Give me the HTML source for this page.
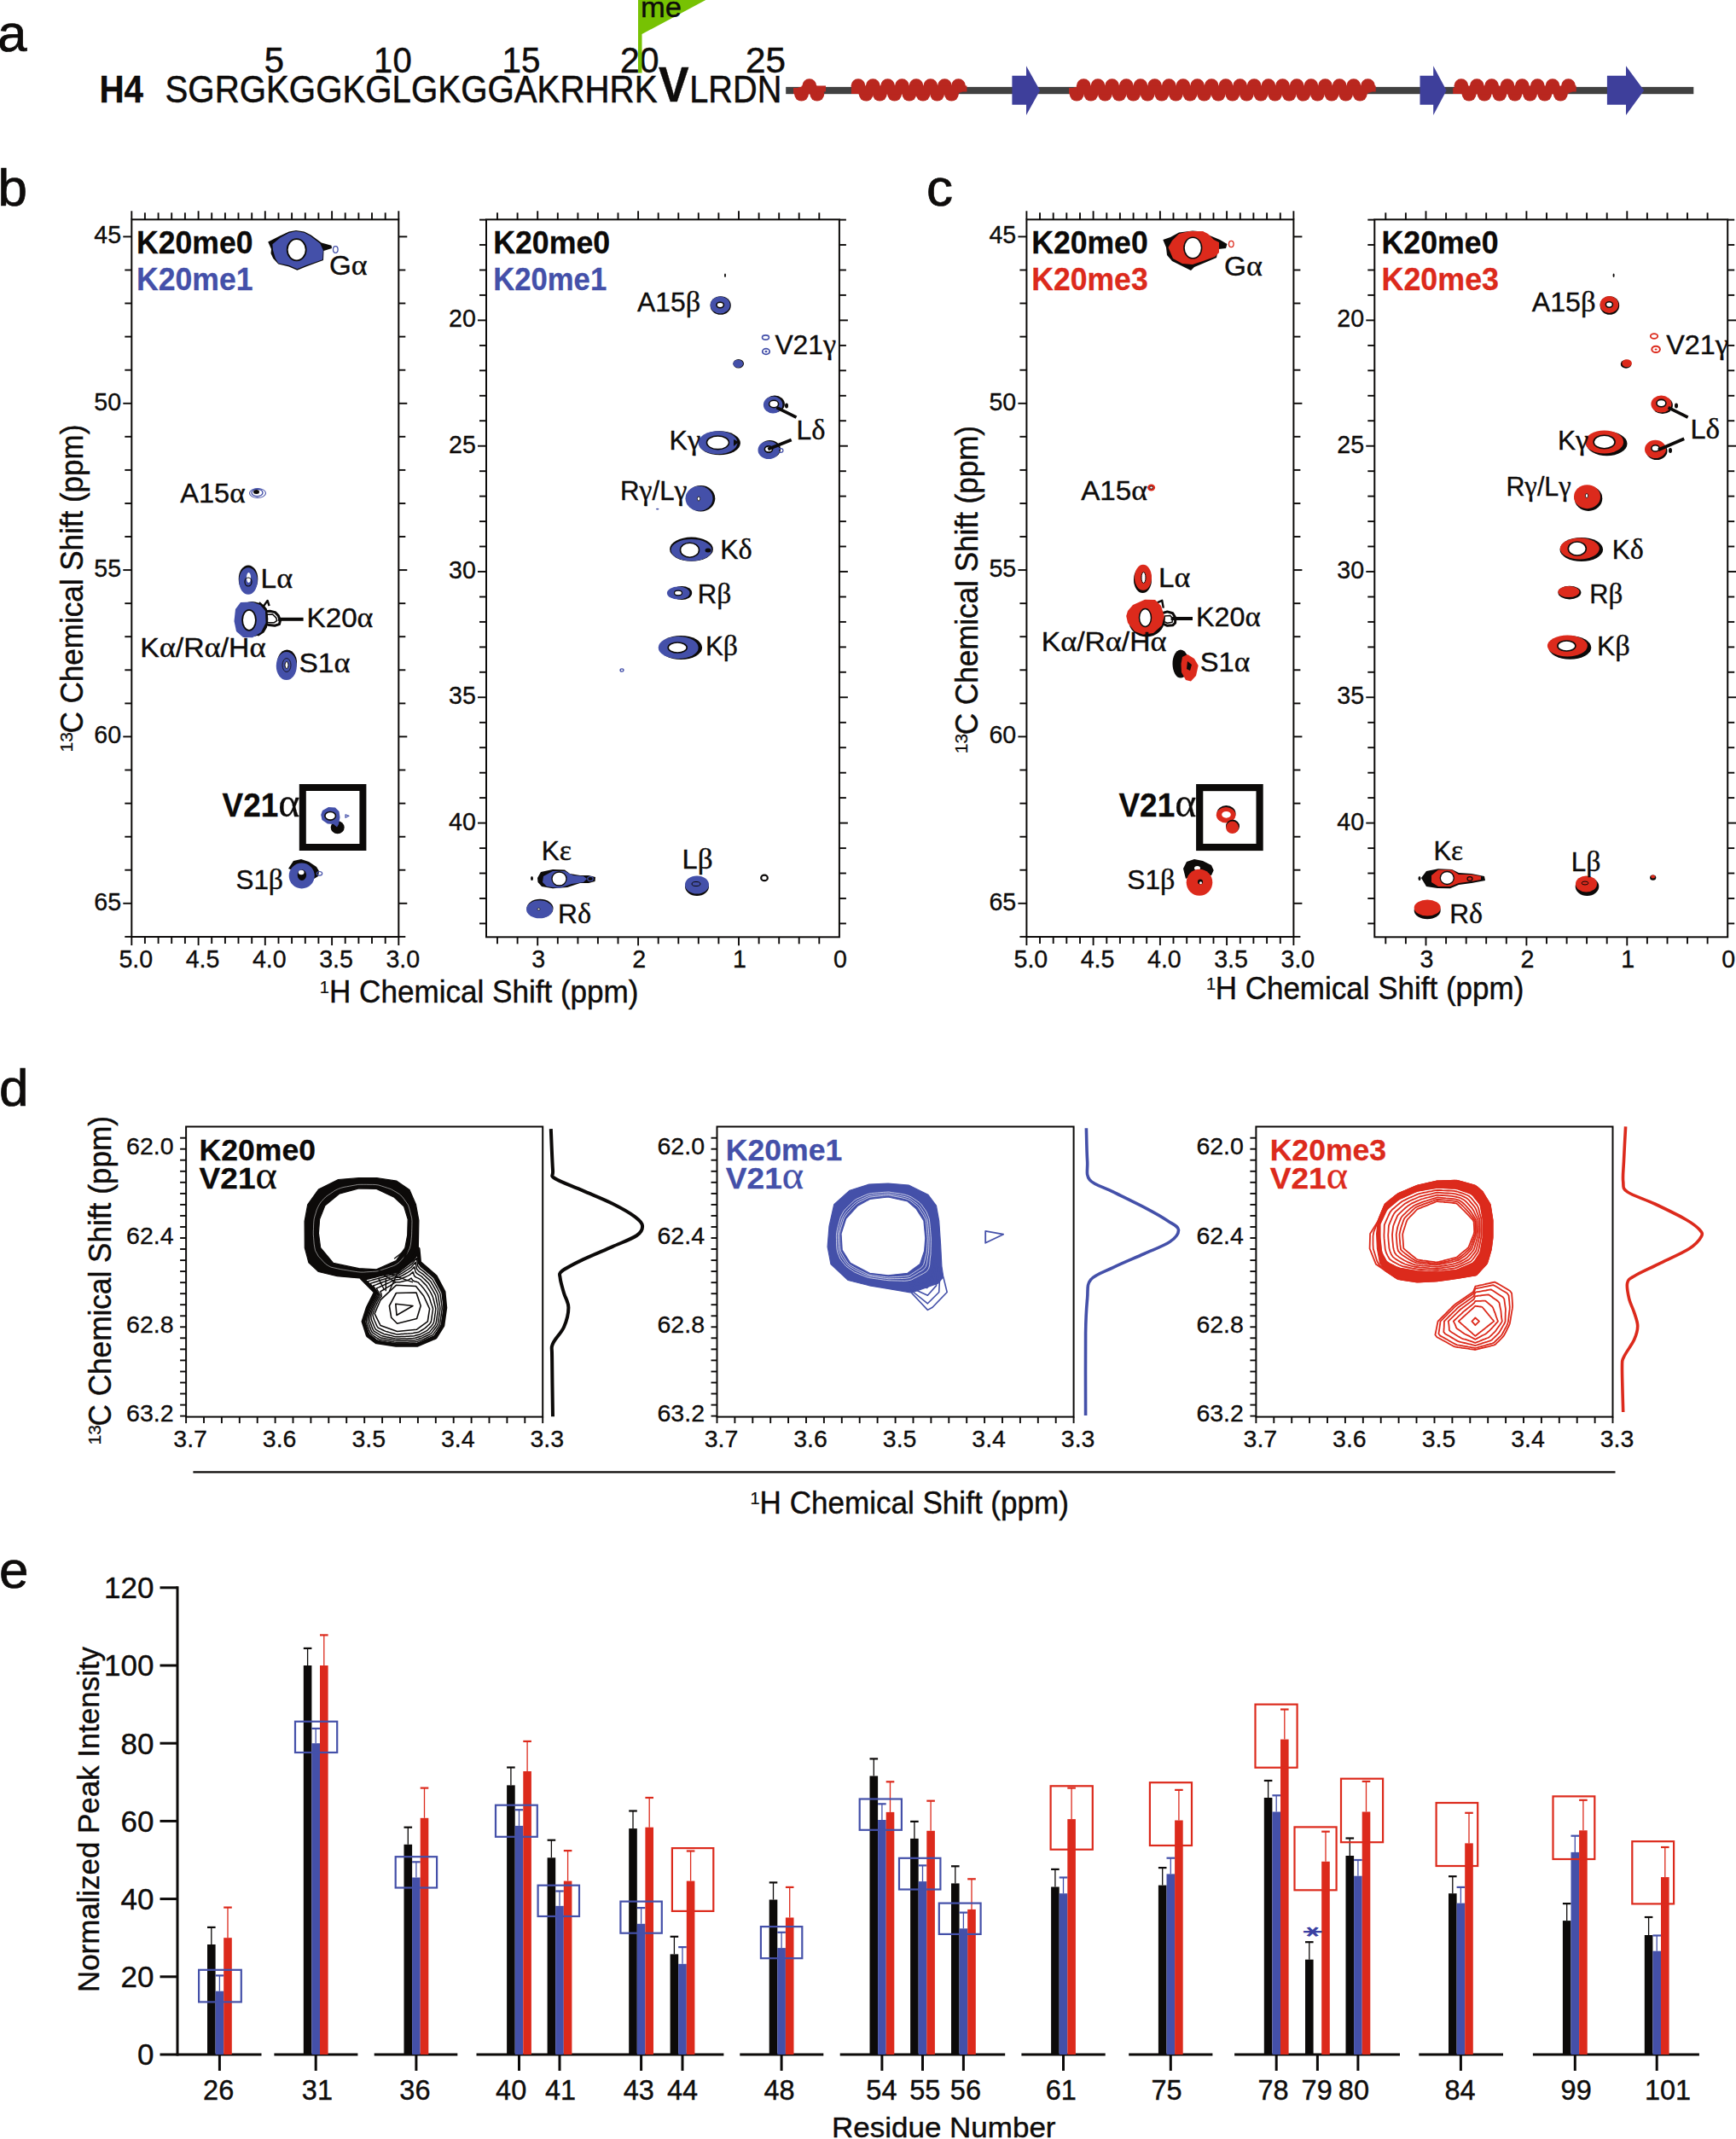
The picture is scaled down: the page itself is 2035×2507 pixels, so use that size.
<!DOCTYPE html>
<html><head><meta charset="utf-8"><title>Figure</title>
<style>html,body{margin:0;padding:0;background:#fff;overflow:hidden;} svg{display:block;} text{font-family:'Liberation Sans', Arial, Helvetica, sans-serif;}</style>
</head><body>
<svg width="2035" height="2507" viewBox="0 0 2035 2507">
<rect width="2035" height="2507" fill="#fff"/>
<text x="-3.0" y="60.0" font-size="62" text-anchor="start" font-weight="normal" fill="#0e0c0b" stroke="#0e0c0b" stroke-width="0.74" >a</text>
<text x="116.5" y="119.5" font-size="44" text-anchor="start" font-weight="bold" fill="#0e0c0b" stroke="#0e0c0b" stroke-width="0.35" textLength="51.5" lengthAdjust="spacingAndGlyphs" >H4</text>
<text x="193.5" y="119.5" font-size="44.5" text-anchor="start" font-weight="normal" fill="#0e0c0b" stroke="#0e0c0b" stroke-width="0.53" textLength="577.0" lengthAdjust="spacingAndGlyphs" >SGRGKGGKGLGKGGAKRHRK</text>
<text x="772.0" y="118.7" font-size="57" text-anchor="start" font-weight="bold" fill="#0e0c0b" stroke="#0e0c0b" stroke-width="0.46" textLength="35.5" lengthAdjust="spacingAndGlyphs" >V</text>
<text x="808.3" y="119.5" font-size="44.5" text-anchor="start" font-weight="normal" fill="#0e0c0b" stroke="#0e0c0b" stroke-width="0.53" textLength="108.0" lengthAdjust="spacingAndGlyphs" >LRDN</text>
<text x="309.7" y="85.3" font-size="43" text-anchor="start" font-weight="normal" fill="#0e0c0b" stroke="#0e0c0b" stroke-width="0.52" textLength="23.3" lengthAdjust="spacingAndGlyphs" >5</text>
<text x="438.1" y="85.3" font-size="43" text-anchor="start" font-weight="normal" fill="#0e0c0b" stroke="#0e0c0b" stroke-width="0.52" textLength="44.6" lengthAdjust="spacingAndGlyphs" >10</text>
<text x="588.5" y="85.3" font-size="43" text-anchor="start" font-weight="normal" fill="#0e0c0b" stroke="#0e0c0b" stroke-width="0.52" textLength="44.9" lengthAdjust="spacingAndGlyphs" >15</text>
<text x="727.0" y="85.3" font-size="43" text-anchor="start" font-weight="normal" fill="#0e0c0b" stroke="#0e0c0b" stroke-width="0.52" textLength="45.5" lengthAdjust="spacingAndGlyphs" >20</text>
<text x="873.9" y="85.3" font-size="43" text-anchor="start" font-weight="normal" fill="#0e0c0b" stroke="#0e0c0b" stroke-width="0.52" textLength="47.0" lengthAdjust="spacingAndGlyphs" >25</text>
<polygon points="748,-2 831,-2 752.5,40 752.5,85.5 748,85.5" fill="#77c203"/>
<text x="751.0" y="20.0" font-size="33" text-anchor="start" font-weight="normal" fill="#0e0c0b" stroke="#0e0c0b" stroke-width="0.40" textLength="48.0" lengthAdjust="spacingAndGlyphs" >me</text>
<rect x="921.2" y="101.9" width="1064.1" height="8.3" fill="#414141"/>
<circle cx="948.8" cy="100.6" r="8.4" fill="#b9271f"/>
<circle cx="939.5" cy="110.2" r="8.4" fill="#b9271f"/>
<circle cx="957.8" cy="110.2" r="8.4" fill="#b9271f"/>
<rect x="939.5" y="100.6" width="18.3" height="9.6" fill="#b9271f"/>
<rect x="930.0" y="103" width="10.5" height="7" fill="#b9271f"/>
<rect x="956.8" y="100.5" width="11.2" height="7" fill="#b9271f"/>
<circle cx="1006.0" cy="100.6" r="8.4" fill="#b9271f"/>
<circle cx="1023.3" cy="100.6" r="8.4" fill="#b9271f"/>
<circle cx="1040.6" cy="100.6" r="8.4" fill="#b9271f"/>
<circle cx="1057.4" cy="100.6" r="8.4" fill="#b9271f"/>
<circle cx="1074.0" cy="100.6" r="8.4" fill="#b9271f"/>
<circle cx="1090.8" cy="100.6" r="8.4" fill="#b9271f"/>
<circle cx="1107.4" cy="100.6" r="8.4" fill="#b9271f"/>
<circle cx="1123.5" cy="100.6" r="8.4" fill="#b9271f"/>
<circle cx="1015.2" cy="110.2" r="8.4" fill="#b9271f"/>
<circle cx="1031.3" cy="110.2" r="8.4" fill="#b9271f"/>
<circle cx="1048.6" cy="110.2" r="8.4" fill="#b9271f"/>
<circle cx="1065.9" cy="110.2" r="8.4" fill="#b9271f"/>
<circle cx="1082.0" cy="110.2" r="8.4" fill="#b9271f"/>
<circle cx="1098.6" cy="110.2" r="8.4" fill="#b9271f"/>
<circle cx="1115.4" cy="110.2" r="8.4" fill="#b9271f"/>
<rect x="1006.0" y="100.6" width="117.5" height="9.6" fill="#b9271f"/>
<rect x="997.9" y="103" width="9.1" height="7" fill="#b9271f"/>
<rect x="1122.5" y="100.5" width="10.9" height="7" fill="#b9271f"/>
<circle cx="1270.3" cy="100.6" r="8.4" fill="#b9271f"/>
<circle cx="1287.0" cy="100.6" r="8.4" fill="#b9271f"/>
<circle cx="1303.6" cy="100.6" r="8.4" fill="#b9271f"/>
<circle cx="1320.3" cy="100.6" r="8.4" fill="#b9271f"/>
<circle cx="1336.9" cy="100.6" r="8.4" fill="#b9271f"/>
<circle cx="1353.6" cy="100.6" r="8.4" fill="#b9271f"/>
<circle cx="1370.3" cy="100.6" r="8.4" fill="#b9271f"/>
<circle cx="1386.9" cy="100.6" r="8.4" fill="#b9271f"/>
<circle cx="1403.6" cy="100.6" r="8.4" fill="#b9271f"/>
<circle cx="1420.2" cy="100.6" r="8.4" fill="#b9271f"/>
<circle cx="1436.9" cy="100.6" r="8.4" fill="#b9271f"/>
<circle cx="1453.6" cy="100.6" r="8.4" fill="#b9271f"/>
<circle cx="1470.2" cy="100.6" r="8.4" fill="#b9271f"/>
<circle cx="1486.9" cy="100.6" r="8.4" fill="#b9271f"/>
<circle cx="1503.5" cy="100.6" r="8.4" fill="#b9271f"/>
<circle cx="1520.2" cy="100.6" r="8.4" fill="#b9271f"/>
<circle cx="1536.9" cy="100.6" r="8.4" fill="#b9271f"/>
<circle cx="1553.5" cy="100.6" r="8.4" fill="#b9271f"/>
<circle cx="1570.2" cy="100.6" r="8.4" fill="#b9271f"/>
<circle cx="1586.8" cy="100.6" r="8.4" fill="#b9271f"/>
<circle cx="1603.5" cy="100.6" r="8.4" fill="#b9271f"/>
<circle cx="1262.2" cy="110.2" r="8.4" fill="#b9271f"/>
<circle cx="1278.8" cy="110.2" r="8.4" fill="#b9271f"/>
<circle cx="1295.4" cy="110.2" r="8.4" fill="#b9271f"/>
<circle cx="1312.0" cy="110.2" r="8.4" fill="#b9271f"/>
<circle cx="1328.6" cy="110.2" r="8.4" fill="#b9271f"/>
<circle cx="1345.2" cy="110.2" r="8.4" fill="#b9271f"/>
<circle cx="1361.8" cy="110.2" r="8.4" fill="#b9271f"/>
<circle cx="1378.4" cy="110.2" r="8.4" fill="#b9271f"/>
<circle cx="1395.0" cy="110.2" r="8.4" fill="#b9271f"/>
<circle cx="1411.6" cy="110.2" r="8.4" fill="#b9271f"/>
<circle cx="1428.2" cy="110.2" r="8.4" fill="#b9271f"/>
<circle cx="1444.8" cy="110.2" r="8.4" fill="#b9271f"/>
<circle cx="1461.4" cy="110.2" r="8.4" fill="#b9271f"/>
<circle cx="1478.0" cy="110.2" r="8.4" fill="#b9271f"/>
<circle cx="1494.6" cy="110.2" r="8.4" fill="#b9271f"/>
<circle cx="1511.2" cy="110.2" r="8.4" fill="#b9271f"/>
<circle cx="1527.8" cy="110.2" r="8.4" fill="#b9271f"/>
<circle cx="1544.4" cy="110.2" r="8.4" fill="#b9271f"/>
<circle cx="1561.0" cy="110.2" r="8.4" fill="#b9271f"/>
<circle cx="1577.6" cy="110.2" r="8.4" fill="#b9271f"/>
<circle cx="1594.2" cy="110.2" r="8.4" fill="#b9271f"/>
<rect x="1262.2" y="100.6" width="341.3" height="9.6" fill="#b9271f"/>
<rect x="1253.0" y="103" width="10.2" height="7" fill="#b9271f"/>
<rect x="1602.5" y="100.5" width="10.2" height="7" fill="#b9271f"/>
<circle cx="1712.9" cy="100.6" r="8.4" fill="#b9271f"/>
<circle cx="1731.3" cy="100.6" r="8.4" fill="#b9271f"/>
<circle cx="1748.6" cy="100.6" r="8.4" fill="#b9271f"/>
<circle cx="1767.0" cy="100.6" r="8.4" fill="#b9271f"/>
<circle cx="1784.3" cy="100.6" r="8.4" fill="#b9271f"/>
<circle cx="1802.3" cy="100.6" r="8.4" fill="#b9271f"/>
<circle cx="1820.0" cy="100.6" r="8.4" fill="#b9271f"/>
<circle cx="1838.5" cy="100.6" r="8.4" fill="#b9271f"/>
<circle cx="1722.1" cy="110.2" r="8.4" fill="#b9271f"/>
<circle cx="1740.1" cy="110.2" r="8.4" fill="#b9271f"/>
<circle cx="1757.8" cy="110.2" r="8.4" fill="#b9271f"/>
<circle cx="1775.8" cy="110.2" r="8.4" fill="#b9271f"/>
<circle cx="1793.5" cy="110.2" r="8.4" fill="#b9271f"/>
<circle cx="1810.8" cy="110.2" r="8.4" fill="#b9271f"/>
<circle cx="1829.3" cy="110.2" r="8.4" fill="#b9271f"/>
<rect x="1712.9" y="100.6" width="125.6" height="9.6" fill="#b9271f"/>
<rect x="1703.2" y="103" width="10.7" height="7" fill="#b9271f"/>
<rect x="1837.5" y="100.5" width="10.2" height="7" fill="#b9271f"/>
<polygon points="1186.4,88.8 1203,88.8 1203,77.3 1219.1,106 1203,134.9 1203,122.7 1186.4,122.7" fill="#3e3f9b"/>
<polygon points="1664.5,88.8 1680.2,88.8 1680.2,77.3 1695.6,106 1680.2,134.9 1680.2,122.7 1664.5,122.7" fill="#3e3f9b"/>
<polygon points="1883.9,88.8 1906,88.8 1906,77.3 1927.2,106 1906,134.9 1906,122.7 1883.9,122.7" fill="#3e3f9b"/>
<rect x="154.3" y="257.3" width="313.0" height="840.7" fill="none" stroke="#0c0a09" stroke-width="2"/>
<line x1="154.3" y1="257.3" x2="154.3" y2="247.3" stroke="#0c0a09" stroke-width="1.9" stroke-linecap="butt"/>
<line x1="154.3" y1="1098.0" x2="154.3" y2="1108.0" stroke="#0c0a09" stroke-width="1.9" stroke-linecap="butt"/>
<line x1="169.9" y1="257.3" x2="169.9" y2="249.3" stroke="#0c0a09" stroke-width="1.9" stroke-linecap="butt"/>
<line x1="169.9" y1="1098.0" x2="169.9" y2="1106.0" stroke="#0c0a09" stroke-width="1.9" stroke-linecap="butt"/>
<line x1="185.6" y1="257.3" x2="185.6" y2="249.3" stroke="#0c0a09" stroke-width="1.9" stroke-linecap="butt"/>
<line x1="185.6" y1="1098.0" x2="185.6" y2="1106.0" stroke="#0c0a09" stroke-width="1.9" stroke-linecap="butt"/>
<line x1="201.2" y1="257.3" x2="201.2" y2="249.3" stroke="#0c0a09" stroke-width="1.9" stroke-linecap="butt"/>
<line x1="201.2" y1="1098.0" x2="201.2" y2="1106.0" stroke="#0c0a09" stroke-width="1.9" stroke-linecap="butt"/>
<line x1="216.9" y1="257.3" x2="216.9" y2="249.3" stroke="#0c0a09" stroke-width="1.9" stroke-linecap="butt"/>
<line x1="216.9" y1="1098.0" x2="216.9" y2="1106.0" stroke="#0c0a09" stroke-width="1.9" stroke-linecap="butt"/>
<line x1="232.6" y1="257.3" x2="232.6" y2="247.3" stroke="#0c0a09" stroke-width="1.9" stroke-linecap="butt"/>
<line x1="232.6" y1="1098.0" x2="232.6" y2="1108.0" stroke="#0c0a09" stroke-width="1.9" stroke-linecap="butt"/>
<line x1="248.2" y1="257.3" x2="248.2" y2="249.3" stroke="#0c0a09" stroke-width="1.9" stroke-linecap="butt"/>
<line x1="248.2" y1="1098.0" x2="248.2" y2="1106.0" stroke="#0c0a09" stroke-width="1.9" stroke-linecap="butt"/>
<line x1="263.9" y1="257.3" x2="263.9" y2="249.3" stroke="#0c0a09" stroke-width="1.9" stroke-linecap="butt"/>
<line x1="263.9" y1="1098.0" x2="263.9" y2="1106.0" stroke="#0c0a09" stroke-width="1.9" stroke-linecap="butt"/>
<line x1="279.5" y1="257.3" x2="279.5" y2="249.3" stroke="#0c0a09" stroke-width="1.9" stroke-linecap="butt"/>
<line x1="279.5" y1="1098.0" x2="279.5" y2="1106.0" stroke="#0c0a09" stroke-width="1.9" stroke-linecap="butt"/>
<line x1="295.2" y1="257.3" x2="295.2" y2="249.3" stroke="#0c0a09" stroke-width="1.9" stroke-linecap="butt"/>
<line x1="295.2" y1="1098.0" x2="295.2" y2="1106.0" stroke="#0c0a09" stroke-width="1.9" stroke-linecap="butt"/>
<line x1="310.8" y1="257.3" x2="310.8" y2="247.3" stroke="#0c0a09" stroke-width="1.9" stroke-linecap="butt"/>
<line x1="310.8" y1="1098.0" x2="310.8" y2="1108.0" stroke="#0c0a09" stroke-width="1.9" stroke-linecap="butt"/>
<line x1="326.5" y1="257.3" x2="326.5" y2="249.3" stroke="#0c0a09" stroke-width="1.9" stroke-linecap="butt"/>
<line x1="326.5" y1="1098.0" x2="326.5" y2="1106.0" stroke="#0c0a09" stroke-width="1.9" stroke-linecap="butt"/>
<line x1="342.1" y1="257.3" x2="342.1" y2="249.3" stroke="#0c0a09" stroke-width="1.9" stroke-linecap="butt"/>
<line x1="342.1" y1="1098.0" x2="342.1" y2="1106.0" stroke="#0c0a09" stroke-width="1.9" stroke-linecap="butt"/>
<line x1="357.8" y1="257.3" x2="357.8" y2="249.3" stroke="#0c0a09" stroke-width="1.9" stroke-linecap="butt"/>
<line x1="357.8" y1="1098.0" x2="357.8" y2="1106.0" stroke="#0c0a09" stroke-width="1.9" stroke-linecap="butt"/>
<line x1="373.4" y1="257.3" x2="373.4" y2="249.3" stroke="#0c0a09" stroke-width="1.9" stroke-linecap="butt"/>
<line x1="373.4" y1="1098.0" x2="373.4" y2="1106.0" stroke="#0c0a09" stroke-width="1.9" stroke-linecap="butt"/>
<line x1="389.1" y1="257.3" x2="389.1" y2="247.3" stroke="#0c0a09" stroke-width="1.9" stroke-linecap="butt"/>
<line x1="389.1" y1="1098.0" x2="389.1" y2="1108.0" stroke="#0c0a09" stroke-width="1.9" stroke-linecap="butt"/>
<line x1="404.7" y1="257.3" x2="404.7" y2="249.3" stroke="#0c0a09" stroke-width="1.9" stroke-linecap="butt"/>
<line x1="404.7" y1="1098.0" x2="404.7" y2="1106.0" stroke="#0c0a09" stroke-width="1.9" stroke-linecap="butt"/>
<line x1="420.4" y1="257.3" x2="420.4" y2="249.3" stroke="#0c0a09" stroke-width="1.9" stroke-linecap="butt"/>
<line x1="420.4" y1="1098.0" x2="420.4" y2="1106.0" stroke="#0c0a09" stroke-width="1.9" stroke-linecap="butt"/>
<line x1="436.0" y1="257.3" x2="436.0" y2="249.3" stroke="#0c0a09" stroke-width="1.9" stroke-linecap="butt"/>
<line x1="436.0" y1="1098.0" x2="436.0" y2="1106.0" stroke="#0c0a09" stroke-width="1.9" stroke-linecap="butt"/>
<line x1="451.7" y1="257.3" x2="451.7" y2="249.3" stroke="#0c0a09" stroke-width="1.9" stroke-linecap="butt"/>
<line x1="451.7" y1="1098.0" x2="451.7" y2="1106.0" stroke="#0c0a09" stroke-width="1.9" stroke-linecap="butt"/>
<line x1="467.3" y1="257.3" x2="467.3" y2="247.3" stroke="#0c0a09" stroke-width="1.9" stroke-linecap="butt"/>
<line x1="467.3" y1="1098.0" x2="467.3" y2="1108.0" stroke="#0c0a09" stroke-width="1.9" stroke-linecap="butt"/>
<line x1="154.3" y1="277.4" x2="144.3" y2="277.4" stroke="#0c0a09" stroke-width="1.9" stroke-linecap="butt"/>
<line x1="467.3" y1="277.4" x2="477.3" y2="277.4" stroke="#0c0a09" stroke-width="1.9" stroke-linecap="butt"/>
<line x1="154.3" y1="316.5" x2="146.3" y2="316.5" stroke="#0c0a09" stroke-width="1.9" stroke-linecap="butt"/>
<line x1="467.3" y1="316.5" x2="475.3" y2="316.5" stroke="#0c0a09" stroke-width="1.9" stroke-linecap="butt"/>
<line x1="154.3" y1="355.5" x2="146.3" y2="355.5" stroke="#0c0a09" stroke-width="1.9" stroke-linecap="butt"/>
<line x1="467.3" y1="355.5" x2="475.3" y2="355.5" stroke="#0c0a09" stroke-width="1.9" stroke-linecap="butt"/>
<line x1="154.3" y1="394.6" x2="146.3" y2="394.6" stroke="#0c0a09" stroke-width="1.9" stroke-linecap="butt"/>
<line x1="467.3" y1="394.6" x2="475.3" y2="394.6" stroke="#0c0a09" stroke-width="1.9" stroke-linecap="butt"/>
<line x1="154.3" y1="433.7" x2="146.3" y2="433.7" stroke="#0c0a09" stroke-width="1.9" stroke-linecap="butt"/>
<line x1="467.3" y1="433.7" x2="475.3" y2="433.7" stroke="#0c0a09" stroke-width="1.9" stroke-linecap="butt"/>
<line x1="154.3" y1="472.8" x2="144.3" y2="472.8" stroke="#0c0a09" stroke-width="1.9" stroke-linecap="butt"/>
<line x1="467.3" y1="472.8" x2="477.3" y2="472.8" stroke="#0c0a09" stroke-width="1.9" stroke-linecap="butt"/>
<line x1="154.3" y1="511.8" x2="146.3" y2="511.8" stroke="#0c0a09" stroke-width="1.9" stroke-linecap="butt"/>
<line x1="467.3" y1="511.8" x2="475.3" y2="511.8" stroke="#0c0a09" stroke-width="1.9" stroke-linecap="butt"/>
<line x1="154.3" y1="550.9" x2="146.3" y2="550.9" stroke="#0c0a09" stroke-width="1.9" stroke-linecap="butt"/>
<line x1="467.3" y1="550.9" x2="475.3" y2="550.9" stroke="#0c0a09" stroke-width="1.9" stroke-linecap="butt"/>
<line x1="154.3" y1="590.0" x2="146.3" y2="590.0" stroke="#0c0a09" stroke-width="1.9" stroke-linecap="butt"/>
<line x1="467.3" y1="590.0" x2="475.3" y2="590.0" stroke="#0c0a09" stroke-width="1.9" stroke-linecap="butt"/>
<line x1="154.3" y1="629.0" x2="146.3" y2="629.0" stroke="#0c0a09" stroke-width="1.9" stroke-linecap="butt"/>
<line x1="467.3" y1="629.0" x2="475.3" y2="629.0" stroke="#0c0a09" stroke-width="1.9" stroke-linecap="butt"/>
<line x1="154.3" y1="668.1" x2="144.3" y2="668.1" stroke="#0c0a09" stroke-width="1.9" stroke-linecap="butt"/>
<line x1="467.3" y1="668.1" x2="477.3" y2="668.1" stroke="#0c0a09" stroke-width="1.9" stroke-linecap="butt"/>
<line x1="154.3" y1="707.2" x2="146.3" y2="707.2" stroke="#0c0a09" stroke-width="1.9" stroke-linecap="butt"/>
<line x1="467.3" y1="707.2" x2="475.3" y2="707.2" stroke="#0c0a09" stroke-width="1.9" stroke-linecap="butt"/>
<line x1="154.3" y1="746.2" x2="146.3" y2="746.2" stroke="#0c0a09" stroke-width="1.9" stroke-linecap="butt"/>
<line x1="467.3" y1="746.2" x2="475.3" y2="746.2" stroke="#0c0a09" stroke-width="1.9" stroke-linecap="butt"/>
<line x1="154.3" y1="785.3" x2="146.3" y2="785.3" stroke="#0c0a09" stroke-width="1.9" stroke-linecap="butt"/>
<line x1="467.3" y1="785.3" x2="475.3" y2="785.3" stroke="#0c0a09" stroke-width="1.9" stroke-linecap="butt"/>
<line x1="154.3" y1="824.4" x2="146.3" y2="824.4" stroke="#0c0a09" stroke-width="1.9" stroke-linecap="butt"/>
<line x1="467.3" y1="824.4" x2="475.3" y2="824.4" stroke="#0c0a09" stroke-width="1.9" stroke-linecap="butt"/>
<line x1="154.3" y1="863.4" x2="144.3" y2="863.4" stroke="#0c0a09" stroke-width="1.9" stroke-linecap="butt"/>
<line x1="467.3" y1="863.4" x2="477.3" y2="863.4" stroke="#0c0a09" stroke-width="1.9" stroke-linecap="butt"/>
<line x1="154.3" y1="902.5" x2="146.3" y2="902.5" stroke="#0c0a09" stroke-width="1.9" stroke-linecap="butt"/>
<line x1="467.3" y1="902.5" x2="475.3" y2="902.5" stroke="#0c0a09" stroke-width="1.9" stroke-linecap="butt"/>
<line x1="154.3" y1="941.6" x2="146.3" y2="941.6" stroke="#0c0a09" stroke-width="1.9" stroke-linecap="butt"/>
<line x1="467.3" y1="941.6" x2="475.3" y2="941.6" stroke="#0c0a09" stroke-width="1.9" stroke-linecap="butt"/>
<line x1="154.3" y1="980.7" x2="146.3" y2="980.7" stroke="#0c0a09" stroke-width="1.9" stroke-linecap="butt"/>
<line x1="467.3" y1="980.7" x2="475.3" y2="980.7" stroke="#0c0a09" stroke-width="1.9" stroke-linecap="butt"/>
<line x1="154.3" y1="1019.7" x2="146.3" y2="1019.7" stroke="#0c0a09" stroke-width="1.9" stroke-linecap="butt"/>
<line x1="467.3" y1="1019.7" x2="475.3" y2="1019.7" stroke="#0c0a09" stroke-width="1.9" stroke-linecap="butt"/>
<line x1="154.3" y1="1058.8" x2="144.3" y2="1058.8" stroke="#0c0a09" stroke-width="1.9" stroke-linecap="butt"/>
<line x1="467.3" y1="1058.8" x2="477.3" y2="1058.8" stroke="#0c0a09" stroke-width="1.9" stroke-linecap="butt"/>
<line x1="154.3" y1="1097.9" x2="146.3" y2="1097.9" stroke="#0c0a09" stroke-width="1.9" stroke-linecap="butt"/>
<line x1="467.3" y1="1097.9" x2="475.3" y2="1097.9" stroke="#0c0a09" stroke-width="1.9" stroke-linecap="butt"/>
<text x="159.3" y="1134.0" font-size="28.6" text-anchor="middle" font-weight="normal" fill="#0e0c0b" stroke="#0e0c0b" stroke-width="0.34" >5.0</text>
<text x="237.6" y="1134.0" font-size="28.6" text-anchor="middle" font-weight="normal" fill="#0e0c0b" stroke="#0e0c0b" stroke-width="0.34" >4.5</text>
<text x="315.8" y="1134.0" font-size="28.6" text-anchor="middle" font-weight="normal" fill="#0e0c0b" stroke="#0e0c0b" stroke-width="0.34" >4.0</text>
<text x="394.1" y="1134.0" font-size="28.6" text-anchor="middle" font-weight="normal" fill="#0e0c0b" stroke="#0e0c0b" stroke-width="0.34" >3.5</text>
<text x="472.3" y="1134.0" font-size="28.6" text-anchor="middle" font-weight="normal" fill="#0e0c0b" stroke="#0e0c0b" stroke-width="0.34" >3.0</text>
<text x="142.1" y="285.4" font-size="28.6" text-anchor="end" font-weight="normal" fill="#0e0c0b" stroke="#0e0c0b" stroke-width="0.34" >45</text>
<text x="142.1" y="480.8" font-size="28.6" text-anchor="end" font-weight="normal" fill="#0e0c0b" stroke="#0e0c0b" stroke-width="0.34" >50</text>
<text x="142.1" y="676.1" font-size="28.6" text-anchor="end" font-weight="normal" fill="#0e0c0b" stroke="#0e0c0b" stroke-width="0.34" >55</text>
<text x="142.1" y="871.4" font-size="28.6" text-anchor="end" font-weight="normal" fill="#0e0c0b" stroke="#0e0c0b" stroke-width="0.34" >60</text>
<text x="142.1" y="1066.8" font-size="28.6" text-anchor="end" font-weight="normal" fill="#0e0c0b" stroke="#0e0c0b" stroke-width="0.34" >65</text>
<rect x="570.0" y="257.3" width="413.9" height="841.0" fill="none" stroke="#0c0a09" stroke-width="2"/>
<line x1="960.3" y1="257.3" x2="960.3" y2="249.3" stroke="#0c0a09" stroke-width="1.9" stroke-linecap="butt"/>
<line x1="960.3" y1="1098.3" x2="960.3" y2="1106.3" stroke="#0c0a09" stroke-width="1.9" stroke-linecap="butt"/>
<line x1="936.7" y1="257.3" x2="936.7" y2="249.3" stroke="#0c0a09" stroke-width="1.9" stroke-linecap="butt"/>
<line x1="936.7" y1="1098.3" x2="936.7" y2="1106.3" stroke="#0c0a09" stroke-width="1.9" stroke-linecap="butt"/>
<line x1="913.2" y1="257.3" x2="913.2" y2="249.3" stroke="#0c0a09" stroke-width="1.9" stroke-linecap="butt"/>
<line x1="913.2" y1="1098.3" x2="913.2" y2="1106.3" stroke="#0c0a09" stroke-width="1.9" stroke-linecap="butt"/>
<line x1="889.6" y1="257.3" x2="889.6" y2="249.3" stroke="#0c0a09" stroke-width="1.9" stroke-linecap="butt"/>
<line x1="889.6" y1="1098.3" x2="889.6" y2="1106.3" stroke="#0c0a09" stroke-width="1.9" stroke-linecap="butt"/>
<line x1="866.0" y1="257.3" x2="866.0" y2="247.3" stroke="#0c0a09" stroke-width="1.9" stroke-linecap="butt"/>
<line x1="866.0" y1="1098.3" x2="866.0" y2="1108.3" stroke="#0c0a09" stroke-width="1.9" stroke-linecap="butt"/>
<line x1="842.4" y1="257.3" x2="842.4" y2="249.3" stroke="#0c0a09" stroke-width="1.9" stroke-linecap="butt"/>
<line x1="842.4" y1="1098.3" x2="842.4" y2="1106.3" stroke="#0c0a09" stroke-width="1.9" stroke-linecap="butt"/>
<line x1="818.8" y1="257.3" x2="818.8" y2="249.3" stroke="#0c0a09" stroke-width="1.9" stroke-linecap="butt"/>
<line x1="818.8" y1="1098.3" x2="818.8" y2="1106.3" stroke="#0c0a09" stroke-width="1.9" stroke-linecap="butt"/>
<line x1="795.3" y1="257.3" x2="795.3" y2="249.3" stroke="#0c0a09" stroke-width="1.9" stroke-linecap="butt"/>
<line x1="795.3" y1="1098.3" x2="795.3" y2="1106.3" stroke="#0c0a09" stroke-width="1.9" stroke-linecap="butt"/>
<line x1="771.7" y1="257.3" x2="771.7" y2="249.3" stroke="#0c0a09" stroke-width="1.9" stroke-linecap="butt"/>
<line x1="771.7" y1="1098.3" x2="771.7" y2="1106.3" stroke="#0c0a09" stroke-width="1.9" stroke-linecap="butt"/>
<line x1="748.1" y1="257.3" x2="748.1" y2="247.3" stroke="#0c0a09" stroke-width="1.9" stroke-linecap="butt"/>
<line x1="748.1" y1="1098.3" x2="748.1" y2="1108.3" stroke="#0c0a09" stroke-width="1.9" stroke-linecap="butt"/>
<line x1="724.5" y1="257.3" x2="724.5" y2="249.3" stroke="#0c0a09" stroke-width="1.9" stroke-linecap="butt"/>
<line x1="724.5" y1="1098.3" x2="724.5" y2="1106.3" stroke="#0c0a09" stroke-width="1.9" stroke-linecap="butt"/>
<line x1="700.9" y1="257.3" x2="700.9" y2="249.3" stroke="#0c0a09" stroke-width="1.9" stroke-linecap="butt"/>
<line x1="700.9" y1="1098.3" x2="700.9" y2="1106.3" stroke="#0c0a09" stroke-width="1.9" stroke-linecap="butt"/>
<line x1="677.4" y1="257.3" x2="677.4" y2="249.3" stroke="#0c0a09" stroke-width="1.9" stroke-linecap="butt"/>
<line x1="677.4" y1="1098.3" x2="677.4" y2="1106.3" stroke="#0c0a09" stroke-width="1.9" stroke-linecap="butt"/>
<line x1="653.8" y1="257.3" x2="653.8" y2="249.3" stroke="#0c0a09" stroke-width="1.9" stroke-linecap="butt"/>
<line x1="653.8" y1="1098.3" x2="653.8" y2="1106.3" stroke="#0c0a09" stroke-width="1.9" stroke-linecap="butt"/>
<line x1="630.2" y1="257.3" x2="630.2" y2="247.3" stroke="#0c0a09" stroke-width="1.9" stroke-linecap="butt"/>
<line x1="630.2" y1="1098.3" x2="630.2" y2="1108.3" stroke="#0c0a09" stroke-width="1.9" stroke-linecap="butt"/>
<line x1="606.6" y1="257.3" x2="606.6" y2="249.3" stroke="#0c0a09" stroke-width="1.9" stroke-linecap="butt"/>
<line x1="606.6" y1="1098.3" x2="606.6" y2="1106.3" stroke="#0c0a09" stroke-width="1.9" stroke-linecap="butt"/>
<line x1="583.0" y1="257.3" x2="583.0" y2="249.3" stroke="#0c0a09" stroke-width="1.9" stroke-linecap="butt"/>
<line x1="583.0" y1="1098.3" x2="583.0" y2="1106.3" stroke="#0c0a09" stroke-width="1.9" stroke-linecap="butt"/>
<line x1="570.0" y1="257.6" x2="562.0" y2="257.6" stroke="#0c0a09" stroke-width="1.9" stroke-linecap="butt"/>
<line x1="983.9" y1="257.6" x2="991.9" y2="257.6" stroke="#0c0a09" stroke-width="1.9" stroke-linecap="butt"/>
<line x1="570.0" y1="287.0" x2="562.0" y2="287.0" stroke="#0c0a09" stroke-width="1.9" stroke-linecap="butt"/>
<line x1="983.9" y1="287.0" x2="991.9" y2="287.0" stroke="#0c0a09" stroke-width="1.9" stroke-linecap="butt"/>
<line x1="570.0" y1="316.5" x2="562.0" y2="316.5" stroke="#0c0a09" stroke-width="1.9" stroke-linecap="butt"/>
<line x1="983.9" y1="316.5" x2="991.9" y2="316.5" stroke="#0c0a09" stroke-width="1.9" stroke-linecap="butt"/>
<line x1="570.0" y1="345.9" x2="562.0" y2="345.9" stroke="#0c0a09" stroke-width="1.9" stroke-linecap="butt"/>
<line x1="983.9" y1="345.9" x2="991.9" y2="345.9" stroke="#0c0a09" stroke-width="1.9" stroke-linecap="butt"/>
<line x1="570.0" y1="375.4" x2="560.0" y2="375.4" stroke="#0c0a09" stroke-width="1.9" stroke-linecap="butt"/>
<line x1="983.9" y1="375.4" x2="993.9" y2="375.4" stroke="#0c0a09" stroke-width="1.9" stroke-linecap="butt"/>
<line x1="570.0" y1="404.9" x2="562.0" y2="404.9" stroke="#0c0a09" stroke-width="1.9" stroke-linecap="butt"/>
<line x1="983.9" y1="404.9" x2="991.9" y2="404.9" stroke="#0c0a09" stroke-width="1.9" stroke-linecap="butt"/>
<line x1="570.0" y1="434.3" x2="562.0" y2="434.3" stroke="#0c0a09" stroke-width="1.9" stroke-linecap="butt"/>
<line x1="983.9" y1="434.3" x2="991.9" y2="434.3" stroke="#0c0a09" stroke-width="1.9" stroke-linecap="butt"/>
<line x1="570.0" y1="463.8" x2="562.0" y2="463.8" stroke="#0c0a09" stroke-width="1.9" stroke-linecap="butt"/>
<line x1="983.9" y1="463.8" x2="991.9" y2="463.8" stroke="#0c0a09" stroke-width="1.9" stroke-linecap="butt"/>
<line x1="570.0" y1="493.2" x2="562.0" y2="493.2" stroke="#0c0a09" stroke-width="1.9" stroke-linecap="butt"/>
<line x1="983.9" y1="493.2" x2="991.9" y2="493.2" stroke="#0c0a09" stroke-width="1.9" stroke-linecap="butt"/>
<line x1="570.0" y1="522.7" x2="560.0" y2="522.7" stroke="#0c0a09" stroke-width="1.9" stroke-linecap="butt"/>
<line x1="983.9" y1="522.7" x2="993.9" y2="522.7" stroke="#0c0a09" stroke-width="1.9" stroke-linecap="butt"/>
<line x1="570.0" y1="552.2" x2="562.0" y2="552.2" stroke="#0c0a09" stroke-width="1.9" stroke-linecap="butt"/>
<line x1="983.9" y1="552.2" x2="991.9" y2="552.2" stroke="#0c0a09" stroke-width="1.9" stroke-linecap="butt"/>
<line x1="570.0" y1="581.6" x2="562.0" y2="581.6" stroke="#0c0a09" stroke-width="1.9" stroke-linecap="butt"/>
<line x1="983.9" y1="581.6" x2="991.9" y2="581.6" stroke="#0c0a09" stroke-width="1.9" stroke-linecap="butt"/>
<line x1="570.0" y1="611.1" x2="562.0" y2="611.1" stroke="#0c0a09" stroke-width="1.9" stroke-linecap="butt"/>
<line x1="983.9" y1="611.1" x2="991.9" y2="611.1" stroke="#0c0a09" stroke-width="1.9" stroke-linecap="butt"/>
<line x1="570.0" y1="640.5" x2="562.0" y2="640.5" stroke="#0c0a09" stroke-width="1.9" stroke-linecap="butt"/>
<line x1="983.9" y1="640.5" x2="991.9" y2="640.5" stroke="#0c0a09" stroke-width="1.9" stroke-linecap="butt"/>
<line x1="570.0" y1="670.0" x2="560.0" y2="670.0" stroke="#0c0a09" stroke-width="1.9" stroke-linecap="butt"/>
<line x1="983.9" y1="670.0" x2="993.9" y2="670.0" stroke="#0c0a09" stroke-width="1.9" stroke-linecap="butt"/>
<line x1="570.0" y1="699.5" x2="562.0" y2="699.5" stroke="#0c0a09" stroke-width="1.9" stroke-linecap="butt"/>
<line x1="983.9" y1="699.5" x2="991.9" y2="699.5" stroke="#0c0a09" stroke-width="1.9" stroke-linecap="butt"/>
<line x1="570.0" y1="728.9" x2="562.0" y2="728.9" stroke="#0c0a09" stroke-width="1.9" stroke-linecap="butt"/>
<line x1="983.9" y1="728.9" x2="991.9" y2="728.9" stroke="#0c0a09" stroke-width="1.9" stroke-linecap="butt"/>
<line x1="570.0" y1="758.4" x2="562.0" y2="758.4" stroke="#0c0a09" stroke-width="1.9" stroke-linecap="butt"/>
<line x1="983.9" y1="758.4" x2="991.9" y2="758.4" stroke="#0c0a09" stroke-width="1.9" stroke-linecap="butt"/>
<line x1="570.0" y1="787.8" x2="562.0" y2="787.8" stroke="#0c0a09" stroke-width="1.9" stroke-linecap="butt"/>
<line x1="983.9" y1="787.8" x2="991.9" y2="787.8" stroke="#0c0a09" stroke-width="1.9" stroke-linecap="butt"/>
<line x1="570.0" y1="817.3" x2="560.0" y2="817.3" stroke="#0c0a09" stroke-width="1.9" stroke-linecap="butt"/>
<line x1="983.9" y1="817.3" x2="993.9" y2="817.3" stroke="#0c0a09" stroke-width="1.9" stroke-linecap="butt"/>
<line x1="570.0" y1="846.8" x2="562.0" y2="846.8" stroke="#0c0a09" stroke-width="1.9" stroke-linecap="butt"/>
<line x1="983.9" y1="846.8" x2="991.9" y2="846.8" stroke="#0c0a09" stroke-width="1.9" stroke-linecap="butt"/>
<line x1="570.0" y1="876.2" x2="562.0" y2="876.2" stroke="#0c0a09" stroke-width="1.9" stroke-linecap="butt"/>
<line x1="983.9" y1="876.2" x2="991.9" y2="876.2" stroke="#0c0a09" stroke-width="1.9" stroke-linecap="butt"/>
<line x1="570.0" y1="905.7" x2="562.0" y2="905.7" stroke="#0c0a09" stroke-width="1.9" stroke-linecap="butt"/>
<line x1="983.9" y1="905.7" x2="991.9" y2="905.7" stroke="#0c0a09" stroke-width="1.9" stroke-linecap="butt"/>
<line x1="570.0" y1="935.1" x2="562.0" y2="935.1" stroke="#0c0a09" stroke-width="1.9" stroke-linecap="butt"/>
<line x1="983.9" y1="935.1" x2="991.9" y2="935.1" stroke="#0c0a09" stroke-width="1.9" stroke-linecap="butt"/>
<line x1="570.0" y1="964.6" x2="560.0" y2="964.6" stroke="#0c0a09" stroke-width="1.9" stroke-linecap="butt"/>
<line x1="983.9" y1="964.6" x2="993.9" y2="964.6" stroke="#0c0a09" stroke-width="1.9" stroke-linecap="butt"/>
<line x1="570.0" y1="994.1" x2="562.0" y2="994.1" stroke="#0c0a09" stroke-width="1.9" stroke-linecap="butt"/>
<line x1="983.9" y1="994.1" x2="991.9" y2="994.1" stroke="#0c0a09" stroke-width="1.9" stroke-linecap="butt"/>
<line x1="570.0" y1="1023.5" x2="562.0" y2="1023.5" stroke="#0c0a09" stroke-width="1.9" stroke-linecap="butt"/>
<line x1="983.9" y1="1023.5" x2="991.9" y2="1023.5" stroke="#0c0a09" stroke-width="1.9" stroke-linecap="butt"/>
<line x1="570.0" y1="1053.0" x2="562.0" y2="1053.0" stroke="#0c0a09" stroke-width="1.9" stroke-linecap="butt"/>
<line x1="983.9" y1="1053.0" x2="991.9" y2="1053.0" stroke="#0c0a09" stroke-width="1.9" stroke-linecap="butt"/>
<line x1="570.0" y1="1082.4" x2="562.0" y2="1082.4" stroke="#0c0a09" stroke-width="1.9" stroke-linecap="butt"/>
<line x1="983.9" y1="1082.4" x2="991.9" y2="1082.4" stroke="#0c0a09" stroke-width="1.9" stroke-linecap="butt"/>
<text x="631.2" y="1134.3" font-size="28.6" text-anchor="middle" font-weight="normal" fill="#0e0c0b" stroke="#0e0c0b" stroke-width="0.34" >3</text>
<text x="749.1" y="1134.3" font-size="28.6" text-anchor="middle" font-weight="normal" fill="#0e0c0b" stroke="#0e0c0b" stroke-width="0.34" >2</text>
<text x="867.0" y="1134.3" font-size="28.6" text-anchor="middle" font-weight="normal" fill="#0e0c0b" stroke="#0e0c0b" stroke-width="0.34" >1</text>
<text x="984.9" y="1134.3" font-size="28.6" text-anchor="middle" font-weight="normal" fill="#0e0c0b" stroke="#0e0c0b" stroke-width="0.34" >0</text>
<text x="557.8" y="383.4" font-size="28.6" text-anchor="end" font-weight="normal" fill="#0e0c0b" stroke="#0e0c0b" stroke-width="0.34" >20</text>
<text x="557.8" y="530.7" font-size="28.6" text-anchor="end" font-weight="normal" fill="#0e0c0b" stroke="#0e0c0b" stroke-width="0.34" >25</text>
<text x="557.8" y="678.0" font-size="28.6" text-anchor="end" font-weight="normal" fill="#0e0c0b" stroke="#0e0c0b" stroke-width="0.34" >30</text>
<text x="557.8" y="825.3" font-size="28.6" text-anchor="end" font-weight="normal" fill="#0e0c0b" stroke="#0e0c0b" stroke-width="0.34" >35</text>
<text x="557.8" y="972.6" font-size="28.6" text-anchor="end" font-weight="normal" fill="#0e0c0b" stroke="#0e0c0b" stroke-width="0.34" >40</text>
<text x="160.1" y="296.7" font-size="36.5" text-anchor="start" font-weight="bold" fill="#0c0a09" stroke="#0c0a09" stroke-width="0.29" textLength="136.5" lengthAdjust="spacingAndGlyphs" >K20me0</text>
<text x="160.1" y="339.5" font-size="36.5" text-anchor="start" font-weight="bold" fill="#4450a9" stroke="#4450a9" stroke-width="0.29" textLength="136.5" lengthAdjust="spacingAndGlyphs" >K20me1</text>
<text x="578.2" y="296.9" font-size="36.5" text-anchor="start" font-weight="bold" fill="#0c0a09" stroke="#0c0a09" stroke-width="0.29" textLength="137.0" lengthAdjust="spacingAndGlyphs" >K20me0</text>
<text x="578.2" y="339.7" font-size="36.5" text-anchor="start" font-weight="bold" fill="#4450a9" stroke="#4450a9" stroke-width="0.29" textLength="133.0" lengthAdjust="spacingAndGlyphs" >K20me1</text>
<rect x="1203.4" y="257.3" width="313.0" height="840.7" fill="none" stroke="#0c0a09" stroke-width="2"/>
<line x1="1203.4" y1="257.3" x2="1203.4" y2="247.3" stroke="#0c0a09" stroke-width="1.9" stroke-linecap="butt"/>
<line x1="1203.4" y1="1098.0" x2="1203.4" y2="1108.0" stroke="#0c0a09" stroke-width="1.9" stroke-linecap="butt"/>
<line x1="1219.0" y1="257.3" x2="1219.0" y2="249.3" stroke="#0c0a09" stroke-width="1.9" stroke-linecap="butt"/>
<line x1="1219.0" y1="1098.0" x2="1219.0" y2="1106.0" stroke="#0c0a09" stroke-width="1.9" stroke-linecap="butt"/>
<line x1="1234.7" y1="257.3" x2="1234.7" y2="249.3" stroke="#0c0a09" stroke-width="1.9" stroke-linecap="butt"/>
<line x1="1234.7" y1="1098.0" x2="1234.7" y2="1106.0" stroke="#0c0a09" stroke-width="1.9" stroke-linecap="butt"/>
<line x1="1250.3" y1="257.3" x2="1250.3" y2="249.3" stroke="#0c0a09" stroke-width="1.9" stroke-linecap="butt"/>
<line x1="1250.3" y1="1098.0" x2="1250.3" y2="1106.0" stroke="#0c0a09" stroke-width="1.9" stroke-linecap="butt"/>
<line x1="1266.0" y1="257.3" x2="1266.0" y2="249.3" stroke="#0c0a09" stroke-width="1.9" stroke-linecap="butt"/>
<line x1="1266.0" y1="1098.0" x2="1266.0" y2="1106.0" stroke="#0c0a09" stroke-width="1.9" stroke-linecap="butt"/>
<line x1="1281.6" y1="257.3" x2="1281.6" y2="247.3" stroke="#0c0a09" stroke-width="1.9" stroke-linecap="butt"/>
<line x1="1281.6" y1="1098.0" x2="1281.6" y2="1108.0" stroke="#0c0a09" stroke-width="1.9" stroke-linecap="butt"/>
<line x1="1297.3" y1="257.3" x2="1297.3" y2="249.3" stroke="#0c0a09" stroke-width="1.9" stroke-linecap="butt"/>
<line x1="1297.3" y1="1098.0" x2="1297.3" y2="1106.0" stroke="#0c0a09" stroke-width="1.9" stroke-linecap="butt"/>
<line x1="1312.9" y1="257.3" x2="1312.9" y2="249.3" stroke="#0c0a09" stroke-width="1.9" stroke-linecap="butt"/>
<line x1="1312.9" y1="1098.0" x2="1312.9" y2="1106.0" stroke="#0c0a09" stroke-width="1.9" stroke-linecap="butt"/>
<line x1="1328.6" y1="257.3" x2="1328.6" y2="249.3" stroke="#0c0a09" stroke-width="1.9" stroke-linecap="butt"/>
<line x1="1328.6" y1="1098.0" x2="1328.6" y2="1106.0" stroke="#0c0a09" stroke-width="1.9" stroke-linecap="butt"/>
<line x1="1344.2" y1="257.3" x2="1344.2" y2="249.3" stroke="#0c0a09" stroke-width="1.9" stroke-linecap="butt"/>
<line x1="1344.2" y1="1098.0" x2="1344.2" y2="1106.0" stroke="#0c0a09" stroke-width="1.9" stroke-linecap="butt"/>
<line x1="1359.9" y1="257.3" x2="1359.9" y2="247.3" stroke="#0c0a09" stroke-width="1.9" stroke-linecap="butt"/>
<line x1="1359.9" y1="1098.0" x2="1359.9" y2="1108.0" stroke="#0c0a09" stroke-width="1.9" stroke-linecap="butt"/>
<line x1="1375.5" y1="257.3" x2="1375.5" y2="249.3" stroke="#0c0a09" stroke-width="1.9" stroke-linecap="butt"/>
<line x1="1375.5" y1="1098.0" x2="1375.5" y2="1106.0" stroke="#0c0a09" stroke-width="1.9" stroke-linecap="butt"/>
<line x1="1391.2" y1="257.3" x2="1391.2" y2="249.3" stroke="#0c0a09" stroke-width="1.9" stroke-linecap="butt"/>
<line x1="1391.2" y1="1098.0" x2="1391.2" y2="1106.0" stroke="#0c0a09" stroke-width="1.9" stroke-linecap="butt"/>
<line x1="1406.8" y1="257.3" x2="1406.8" y2="249.3" stroke="#0c0a09" stroke-width="1.9" stroke-linecap="butt"/>
<line x1="1406.8" y1="1098.0" x2="1406.8" y2="1106.0" stroke="#0c0a09" stroke-width="1.9" stroke-linecap="butt"/>
<line x1="1422.5" y1="257.3" x2="1422.5" y2="249.3" stroke="#0c0a09" stroke-width="1.9" stroke-linecap="butt"/>
<line x1="1422.5" y1="1098.0" x2="1422.5" y2="1106.0" stroke="#0c0a09" stroke-width="1.9" stroke-linecap="butt"/>
<line x1="1438.1" y1="257.3" x2="1438.1" y2="247.3" stroke="#0c0a09" stroke-width="1.9" stroke-linecap="butt"/>
<line x1="1438.1" y1="1098.0" x2="1438.1" y2="1108.0" stroke="#0c0a09" stroke-width="1.9" stroke-linecap="butt"/>
<line x1="1453.8" y1="257.3" x2="1453.8" y2="249.3" stroke="#0c0a09" stroke-width="1.9" stroke-linecap="butt"/>
<line x1="1453.8" y1="1098.0" x2="1453.8" y2="1106.0" stroke="#0c0a09" stroke-width="1.9" stroke-linecap="butt"/>
<line x1="1469.4" y1="257.3" x2="1469.4" y2="249.3" stroke="#0c0a09" stroke-width="1.9" stroke-linecap="butt"/>
<line x1="1469.4" y1="1098.0" x2="1469.4" y2="1106.0" stroke="#0c0a09" stroke-width="1.9" stroke-linecap="butt"/>
<line x1="1485.1" y1="257.3" x2="1485.1" y2="249.3" stroke="#0c0a09" stroke-width="1.9" stroke-linecap="butt"/>
<line x1="1485.1" y1="1098.0" x2="1485.1" y2="1106.0" stroke="#0c0a09" stroke-width="1.9" stroke-linecap="butt"/>
<line x1="1500.8" y1="257.3" x2="1500.8" y2="249.3" stroke="#0c0a09" stroke-width="1.9" stroke-linecap="butt"/>
<line x1="1500.8" y1="1098.0" x2="1500.8" y2="1106.0" stroke="#0c0a09" stroke-width="1.9" stroke-linecap="butt"/>
<line x1="1516.4" y1="257.3" x2="1516.4" y2="247.3" stroke="#0c0a09" stroke-width="1.9" stroke-linecap="butt"/>
<line x1="1516.4" y1="1098.0" x2="1516.4" y2="1108.0" stroke="#0c0a09" stroke-width="1.9" stroke-linecap="butt"/>
<line x1="1203.4" y1="277.4" x2="1193.4" y2="277.4" stroke="#0c0a09" stroke-width="1.9" stroke-linecap="butt"/>
<line x1="1516.4" y1="277.4" x2="1526.4" y2="277.4" stroke="#0c0a09" stroke-width="1.9" stroke-linecap="butt"/>
<line x1="1203.4" y1="316.5" x2="1195.4" y2="316.5" stroke="#0c0a09" stroke-width="1.9" stroke-linecap="butt"/>
<line x1="1516.4" y1="316.5" x2="1524.4" y2="316.5" stroke="#0c0a09" stroke-width="1.9" stroke-linecap="butt"/>
<line x1="1203.4" y1="355.5" x2="1195.4" y2="355.5" stroke="#0c0a09" stroke-width="1.9" stroke-linecap="butt"/>
<line x1="1516.4" y1="355.5" x2="1524.4" y2="355.5" stroke="#0c0a09" stroke-width="1.9" stroke-linecap="butt"/>
<line x1="1203.4" y1="394.6" x2="1195.4" y2="394.6" stroke="#0c0a09" stroke-width="1.9" stroke-linecap="butt"/>
<line x1="1516.4" y1="394.6" x2="1524.4" y2="394.6" stroke="#0c0a09" stroke-width="1.9" stroke-linecap="butt"/>
<line x1="1203.4" y1="433.7" x2="1195.4" y2="433.7" stroke="#0c0a09" stroke-width="1.9" stroke-linecap="butt"/>
<line x1="1516.4" y1="433.7" x2="1524.4" y2="433.7" stroke="#0c0a09" stroke-width="1.9" stroke-linecap="butt"/>
<line x1="1203.4" y1="472.8" x2="1193.4" y2="472.8" stroke="#0c0a09" stroke-width="1.9" stroke-linecap="butt"/>
<line x1="1516.4" y1="472.8" x2="1526.4" y2="472.8" stroke="#0c0a09" stroke-width="1.9" stroke-linecap="butt"/>
<line x1="1203.4" y1="511.8" x2="1195.4" y2="511.8" stroke="#0c0a09" stroke-width="1.9" stroke-linecap="butt"/>
<line x1="1516.4" y1="511.8" x2="1524.4" y2="511.8" stroke="#0c0a09" stroke-width="1.9" stroke-linecap="butt"/>
<line x1="1203.4" y1="550.9" x2="1195.4" y2="550.9" stroke="#0c0a09" stroke-width="1.9" stroke-linecap="butt"/>
<line x1="1516.4" y1="550.9" x2="1524.4" y2="550.9" stroke="#0c0a09" stroke-width="1.9" stroke-linecap="butt"/>
<line x1="1203.4" y1="590.0" x2="1195.4" y2="590.0" stroke="#0c0a09" stroke-width="1.9" stroke-linecap="butt"/>
<line x1="1516.4" y1="590.0" x2="1524.4" y2="590.0" stroke="#0c0a09" stroke-width="1.9" stroke-linecap="butt"/>
<line x1="1203.4" y1="629.0" x2="1195.4" y2="629.0" stroke="#0c0a09" stroke-width="1.9" stroke-linecap="butt"/>
<line x1="1516.4" y1="629.0" x2="1524.4" y2="629.0" stroke="#0c0a09" stroke-width="1.9" stroke-linecap="butt"/>
<line x1="1203.4" y1="668.1" x2="1193.4" y2="668.1" stroke="#0c0a09" stroke-width="1.9" stroke-linecap="butt"/>
<line x1="1516.4" y1="668.1" x2="1526.4" y2="668.1" stroke="#0c0a09" stroke-width="1.9" stroke-linecap="butt"/>
<line x1="1203.4" y1="707.2" x2="1195.4" y2="707.2" stroke="#0c0a09" stroke-width="1.9" stroke-linecap="butt"/>
<line x1="1516.4" y1="707.2" x2="1524.4" y2="707.2" stroke="#0c0a09" stroke-width="1.9" stroke-linecap="butt"/>
<line x1="1203.4" y1="746.2" x2="1195.4" y2="746.2" stroke="#0c0a09" stroke-width="1.9" stroke-linecap="butt"/>
<line x1="1516.4" y1="746.2" x2="1524.4" y2="746.2" stroke="#0c0a09" stroke-width="1.9" stroke-linecap="butt"/>
<line x1="1203.4" y1="785.3" x2="1195.4" y2="785.3" stroke="#0c0a09" stroke-width="1.9" stroke-linecap="butt"/>
<line x1="1516.4" y1="785.3" x2="1524.4" y2="785.3" stroke="#0c0a09" stroke-width="1.9" stroke-linecap="butt"/>
<line x1="1203.4" y1="824.4" x2="1195.4" y2="824.4" stroke="#0c0a09" stroke-width="1.9" stroke-linecap="butt"/>
<line x1="1516.4" y1="824.4" x2="1524.4" y2="824.4" stroke="#0c0a09" stroke-width="1.9" stroke-linecap="butt"/>
<line x1="1203.4" y1="863.4" x2="1193.4" y2="863.4" stroke="#0c0a09" stroke-width="1.9" stroke-linecap="butt"/>
<line x1="1516.4" y1="863.4" x2="1526.4" y2="863.4" stroke="#0c0a09" stroke-width="1.9" stroke-linecap="butt"/>
<line x1="1203.4" y1="902.5" x2="1195.4" y2="902.5" stroke="#0c0a09" stroke-width="1.9" stroke-linecap="butt"/>
<line x1="1516.4" y1="902.5" x2="1524.4" y2="902.5" stroke="#0c0a09" stroke-width="1.9" stroke-linecap="butt"/>
<line x1="1203.4" y1="941.6" x2="1195.4" y2="941.6" stroke="#0c0a09" stroke-width="1.9" stroke-linecap="butt"/>
<line x1="1516.4" y1="941.6" x2="1524.4" y2="941.6" stroke="#0c0a09" stroke-width="1.9" stroke-linecap="butt"/>
<line x1="1203.4" y1="980.7" x2="1195.4" y2="980.7" stroke="#0c0a09" stroke-width="1.9" stroke-linecap="butt"/>
<line x1="1516.4" y1="980.7" x2="1524.4" y2="980.7" stroke="#0c0a09" stroke-width="1.9" stroke-linecap="butt"/>
<line x1="1203.4" y1="1019.7" x2="1195.4" y2="1019.7" stroke="#0c0a09" stroke-width="1.9" stroke-linecap="butt"/>
<line x1="1516.4" y1="1019.7" x2="1524.4" y2="1019.7" stroke="#0c0a09" stroke-width="1.9" stroke-linecap="butt"/>
<line x1="1203.4" y1="1058.8" x2="1193.4" y2="1058.8" stroke="#0c0a09" stroke-width="1.9" stroke-linecap="butt"/>
<line x1="1516.4" y1="1058.8" x2="1526.4" y2="1058.8" stroke="#0c0a09" stroke-width="1.9" stroke-linecap="butt"/>
<line x1="1203.4" y1="1097.9" x2="1195.4" y2="1097.9" stroke="#0c0a09" stroke-width="1.9" stroke-linecap="butt"/>
<line x1="1516.4" y1="1097.9" x2="1524.4" y2="1097.9" stroke="#0c0a09" stroke-width="1.9" stroke-linecap="butt"/>
<text x="1208.4" y="1134.0" font-size="28.6" text-anchor="middle" font-weight="normal" fill="#0e0c0b" stroke="#0e0c0b" stroke-width="0.34" >5.0</text>
<text x="1286.6" y="1134.0" font-size="28.6" text-anchor="middle" font-weight="normal" fill="#0e0c0b" stroke="#0e0c0b" stroke-width="0.34" >4.5</text>
<text x="1364.9" y="1134.0" font-size="28.6" text-anchor="middle" font-weight="normal" fill="#0e0c0b" stroke="#0e0c0b" stroke-width="0.34" >4.0</text>
<text x="1443.1" y="1134.0" font-size="28.6" text-anchor="middle" font-weight="normal" fill="#0e0c0b" stroke="#0e0c0b" stroke-width="0.34" >3.5</text>
<text x="1521.4" y="1134.0" font-size="28.6" text-anchor="middle" font-weight="normal" fill="#0e0c0b" stroke="#0e0c0b" stroke-width="0.34" >3.0</text>
<text x="1191.2" y="285.4" font-size="28.6" text-anchor="end" font-weight="normal" fill="#0e0c0b" stroke="#0e0c0b" stroke-width="0.34" >45</text>
<text x="1191.2" y="480.8" font-size="28.6" text-anchor="end" font-weight="normal" fill="#0e0c0b" stroke="#0e0c0b" stroke-width="0.34" >50</text>
<text x="1191.2" y="676.1" font-size="28.6" text-anchor="end" font-weight="normal" fill="#0e0c0b" stroke="#0e0c0b" stroke-width="0.34" >55</text>
<text x="1191.2" y="871.4" font-size="28.6" text-anchor="end" font-weight="normal" fill="#0e0c0b" stroke="#0e0c0b" stroke-width="0.34" >60</text>
<text x="1191.2" y="1066.8" font-size="28.6" text-anchor="end" font-weight="normal" fill="#0e0c0b" stroke="#0e0c0b" stroke-width="0.34" >65</text>
<rect x="1611.3" y="257.3" width="413.9" height="841.0" fill="none" stroke="#0c0a09" stroke-width="2"/>
<line x1="2001.6" y1="257.3" x2="2001.6" y2="249.3" stroke="#0c0a09" stroke-width="1.9" stroke-linecap="butt"/>
<line x1="2001.6" y1="1098.3" x2="2001.6" y2="1106.3" stroke="#0c0a09" stroke-width="1.9" stroke-linecap="butt"/>
<line x1="1978.0" y1="257.3" x2="1978.0" y2="249.3" stroke="#0c0a09" stroke-width="1.9" stroke-linecap="butt"/>
<line x1="1978.0" y1="1098.3" x2="1978.0" y2="1106.3" stroke="#0c0a09" stroke-width="1.9" stroke-linecap="butt"/>
<line x1="1954.5" y1="257.3" x2="1954.5" y2="249.3" stroke="#0c0a09" stroke-width="1.9" stroke-linecap="butt"/>
<line x1="1954.5" y1="1098.3" x2="1954.5" y2="1106.3" stroke="#0c0a09" stroke-width="1.9" stroke-linecap="butt"/>
<line x1="1930.9" y1="257.3" x2="1930.9" y2="249.3" stroke="#0c0a09" stroke-width="1.9" stroke-linecap="butt"/>
<line x1="1930.9" y1="1098.3" x2="1930.9" y2="1106.3" stroke="#0c0a09" stroke-width="1.9" stroke-linecap="butt"/>
<line x1="1907.3" y1="257.3" x2="1907.3" y2="247.3" stroke="#0c0a09" stroke-width="1.9" stroke-linecap="butt"/>
<line x1="1907.3" y1="1098.3" x2="1907.3" y2="1108.3" stroke="#0c0a09" stroke-width="1.9" stroke-linecap="butt"/>
<line x1="1883.7" y1="257.3" x2="1883.7" y2="249.3" stroke="#0c0a09" stroke-width="1.9" stroke-linecap="butt"/>
<line x1="1883.7" y1="1098.3" x2="1883.7" y2="1106.3" stroke="#0c0a09" stroke-width="1.9" stroke-linecap="butt"/>
<line x1="1860.1" y1="257.3" x2="1860.1" y2="249.3" stroke="#0c0a09" stroke-width="1.9" stroke-linecap="butt"/>
<line x1="1860.1" y1="1098.3" x2="1860.1" y2="1106.3" stroke="#0c0a09" stroke-width="1.9" stroke-linecap="butt"/>
<line x1="1836.6" y1="257.3" x2="1836.6" y2="249.3" stroke="#0c0a09" stroke-width="1.9" stroke-linecap="butt"/>
<line x1="1836.6" y1="1098.3" x2="1836.6" y2="1106.3" stroke="#0c0a09" stroke-width="1.9" stroke-linecap="butt"/>
<line x1="1813.0" y1="257.3" x2="1813.0" y2="249.3" stroke="#0c0a09" stroke-width="1.9" stroke-linecap="butt"/>
<line x1="1813.0" y1="1098.3" x2="1813.0" y2="1106.3" stroke="#0c0a09" stroke-width="1.9" stroke-linecap="butt"/>
<line x1="1789.4" y1="257.3" x2="1789.4" y2="247.3" stroke="#0c0a09" stroke-width="1.9" stroke-linecap="butt"/>
<line x1="1789.4" y1="1098.3" x2="1789.4" y2="1108.3" stroke="#0c0a09" stroke-width="1.9" stroke-linecap="butt"/>
<line x1="1765.8" y1="257.3" x2="1765.8" y2="249.3" stroke="#0c0a09" stroke-width="1.9" stroke-linecap="butt"/>
<line x1="1765.8" y1="1098.3" x2="1765.8" y2="1106.3" stroke="#0c0a09" stroke-width="1.9" stroke-linecap="butt"/>
<line x1="1742.2" y1="257.3" x2="1742.2" y2="249.3" stroke="#0c0a09" stroke-width="1.9" stroke-linecap="butt"/>
<line x1="1742.2" y1="1098.3" x2="1742.2" y2="1106.3" stroke="#0c0a09" stroke-width="1.9" stroke-linecap="butt"/>
<line x1="1718.7" y1="257.3" x2="1718.7" y2="249.3" stroke="#0c0a09" stroke-width="1.9" stroke-linecap="butt"/>
<line x1="1718.7" y1="1098.3" x2="1718.7" y2="1106.3" stroke="#0c0a09" stroke-width="1.9" stroke-linecap="butt"/>
<line x1="1695.1" y1="257.3" x2="1695.1" y2="249.3" stroke="#0c0a09" stroke-width="1.9" stroke-linecap="butt"/>
<line x1="1695.1" y1="1098.3" x2="1695.1" y2="1106.3" stroke="#0c0a09" stroke-width="1.9" stroke-linecap="butt"/>
<line x1="1671.5" y1="257.3" x2="1671.5" y2="247.3" stroke="#0c0a09" stroke-width="1.9" stroke-linecap="butt"/>
<line x1="1671.5" y1="1098.3" x2="1671.5" y2="1108.3" stroke="#0c0a09" stroke-width="1.9" stroke-linecap="butt"/>
<line x1="1647.9" y1="257.3" x2="1647.9" y2="249.3" stroke="#0c0a09" stroke-width="1.9" stroke-linecap="butt"/>
<line x1="1647.9" y1="1098.3" x2="1647.9" y2="1106.3" stroke="#0c0a09" stroke-width="1.9" stroke-linecap="butt"/>
<line x1="1624.3" y1="257.3" x2="1624.3" y2="249.3" stroke="#0c0a09" stroke-width="1.9" stroke-linecap="butt"/>
<line x1="1624.3" y1="1098.3" x2="1624.3" y2="1106.3" stroke="#0c0a09" stroke-width="1.9" stroke-linecap="butt"/>
<line x1="1611.3" y1="257.6" x2="1603.3" y2="257.6" stroke="#0c0a09" stroke-width="1.9" stroke-linecap="butt"/>
<line x1="2025.2" y1="257.6" x2="2033.2" y2="257.6" stroke="#0c0a09" stroke-width="1.9" stroke-linecap="butt"/>
<line x1="1611.3" y1="287.0" x2="1603.3" y2="287.0" stroke="#0c0a09" stroke-width="1.9" stroke-linecap="butt"/>
<line x1="2025.2" y1="287.0" x2="2033.2" y2="287.0" stroke="#0c0a09" stroke-width="1.9" stroke-linecap="butt"/>
<line x1="1611.3" y1="316.5" x2="1603.3" y2="316.5" stroke="#0c0a09" stroke-width="1.9" stroke-linecap="butt"/>
<line x1="2025.2" y1="316.5" x2="2033.2" y2="316.5" stroke="#0c0a09" stroke-width="1.9" stroke-linecap="butt"/>
<line x1="1611.3" y1="345.9" x2="1603.3" y2="345.9" stroke="#0c0a09" stroke-width="1.9" stroke-linecap="butt"/>
<line x1="2025.2" y1="345.9" x2="2033.2" y2="345.9" stroke="#0c0a09" stroke-width="1.9" stroke-linecap="butt"/>
<line x1="1611.3" y1="375.4" x2="1601.3" y2="375.4" stroke="#0c0a09" stroke-width="1.9" stroke-linecap="butt"/>
<line x1="2025.2" y1="375.4" x2="2035.2" y2="375.4" stroke="#0c0a09" stroke-width="1.9" stroke-linecap="butt"/>
<line x1="1611.3" y1="404.9" x2="1603.3" y2="404.9" stroke="#0c0a09" stroke-width="1.9" stroke-linecap="butt"/>
<line x1="2025.2" y1="404.9" x2="2033.2" y2="404.9" stroke="#0c0a09" stroke-width="1.9" stroke-linecap="butt"/>
<line x1="1611.3" y1="434.3" x2="1603.3" y2="434.3" stroke="#0c0a09" stroke-width="1.9" stroke-linecap="butt"/>
<line x1="2025.2" y1="434.3" x2="2033.2" y2="434.3" stroke="#0c0a09" stroke-width="1.9" stroke-linecap="butt"/>
<line x1="1611.3" y1="463.8" x2="1603.3" y2="463.8" stroke="#0c0a09" stroke-width="1.9" stroke-linecap="butt"/>
<line x1="2025.2" y1="463.8" x2="2033.2" y2="463.8" stroke="#0c0a09" stroke-width="1.9" stroke-linecap="butt"/>
<line x1="1611.3" y1="493.2" x2="1603.3" y2="493.2" stroke="#0c0a09" stroke-width="1.9" stroke-linecap="butt"/>
<line x1="2025.2" y1="493.2" x2="2033.2" y2="493.2" stroke="#0c0a09" stroke-width="1.9" stroke-linecap="butt"/>
<line x1="1611.3" y1="522.7" x2="1601.3" y2="522.7" stroke="#0c0a09" stroke-width="1.9" stroke-linecap="butt"/>
<line x1="2025.2" y1="522.7" x2="2035.2" y2="522.7" stroke="#0c0a09" stroke-width="1.9" stroke-linecap="butt"/>
<line x1="1611.3" y1="552.2" x2="1603.3" y2="552.2" stroke="#0c0a09" stroke-width="1.9" stroke-linecap="butt"/>
<line x1="2025.2" y1="552.2" x2="2033.2" y2="552.2" stroke="#0c0a09" stroke-width="1.9" stroke-linecap="butt"/>
<line x1="1611.3" y1="581.6" x2="1603.3" y2="581.6" stroke="#0c0a09" stroke-width="1.9" stroke-linecap="butt"/>
<line x1="2025.2" y1="581.6" x2="2033.2" y2="581.6" stroke="#0c0a09" stroke-width="1.9" stroke-linecap="butt"/>
<line x1="1611.3" y1="611.1" x2="1603.3" y2="611.1" stroke="#0c0a09" stroke-width="1.9" stroke-linecap="butt"/>
<line x1="2025.2" y1="611.1" x2="2033.2" y2="611.1" stroke="#0c0a09" stroke-width="1.9" stroke-linecap="butt"/>
<line x1="1611.3" y1="640.5" x2="1603.3" y2="640.5" stroke="#0c0a09" stroke-width="1.9" stroke-linecap="butt"/>
<line x1="2025.2" y1="640.5" x2="2033.2" y2="640.5" stroke="#0c0a09" stroke-width="1.9" stroke-linecap="butt"/>
<line x1="1611.3" y1="670.0" x2="1601.3" y2="670.0" stroke="#0c0a09" stroke-width="1.9" stroke-linecap="butt"/>
<line x1="2025.2" y1="670.0" x2="2035.2" y2="670.0" stroke="#0c0a09" stroke-width="1.9" stroke-linecap="butt"/>
<line x1="1611.3" y1="699.5" x2="1603.3" y2="699.5" stroke="#0c0a09" stroke-width="1.9" stroke-linecap="butt"/>
<line x1="2025.2" y1="699.5" x2="2033.2" y2="699.5" stroke="#0c0a09" stroke-width="1.9" stroke-linecap="butt"/>
<line x1="1611.3" y1="728.9" x2="1603.3" y2="728.9" stroke="#0c0a09" stroke-width="1.9" stroke-linecap="butt"/>
<line x1="2025.2" y1="728.9" x2="2033.2" y2="728.9" stroke="#0c0a09" stroke-width="1.9" stroke-linecap="butt"/>
<line x1="1611.3" y1="758.4" x2="1603.3" y2="758.4" stroke="#0c0a09" stroke-width="1.9" stroke-linecap="butt"/>
<line x1="2025.2" y1="758.4" x2="2033.2" y2="758.4" stroke="#0c0a09" stroke-width="1.9" stroke-linecap="butt"/>
<line x1="1611.3" y1="787.8" x2="1603.3" y2="787.8" stroke="#0c0a09" stroke-width="1.9" stroke-linecap="butt"/>
<line x1="2025.2" y1="787.8" x2="2033.2" y2="787.8" stroke="#0c0a09" stroke-width="1.9" stroke-linecap="butt"/>
<line x1="1611.3" y1="817.3" x2="1601.3" y2="817.3" stroke="#0c0a09" stroke-width="1.9" stroke-linecap="butt"/>
<line x1="2025.2" y1="817.3" x2="2035.2" y2="817.3" stroke="#0c0a09" stroke-width="1.9" stroke-linecap="butt"/>
<line x1="1611.3" y1="846.8" x2="1603.3" y2="846.8" stroke="#0c0a09" stroke-width="1.9" stroke-linecap="butt"/>
<line x1="2025.2" y1="846.8" x2="2033.2" y2="846.8" stroke="#0c0a09" stroke-width="1.9" stroke-linecap="butt"/>
<line x1="1611.3" y1="876.2" x2="1603.3" y2="876.2" stroke="#0c0a09" stroke-width="1.9" stroke-linecap="butt"/>
<line x1="2025.2" y1="876.2" x2="2033.2" y2="876.2" stroke="#0c0a09" stroke-width="1.9" stroke-linecap="butt"/>
<line x1="1611.3" y1="905.7" x2="1603.3" y2="905.7" stroke="#0c0a09" stroke-width="1.9" stroke-linecap="butt"/>
<line x1="2025.2" y1="905.7" x2="2033.2" y2="905.7" stroke="#0c0a09" stroke-width="1.9" stroke-linecap="butt"/>
<line x1="1611.3" y1="935.1" x2="1603.3" y2="935.1" stroke="#0c0a09" stroke-width="1.9" stroke-linecap="butt"/>
<line x1="2025.2" y1="935.1" x2="2033.2" y2="935.1" stroke="#0c0a09" stroke-width="1.9" stroke-linecap="butt"/>
<line x1="1611.3" y1="964.6" x2="1601.3" y2="964.6" stroke="#0c0a09" stroke-width="1.9" stroke-linecap="butt"/>
<line x1="2025.2" y1="964.6" x2="2035.2" y2="964.6" stroke="#0c0a09" stroke-width="1.9" stroke-linecap="butt"/>
<line x1="1611.3" y1="994.1" x2="1603.3" y2="994.1" stroke="#0c0a09" stroke-width="1.9" stroke-linecap="butt"/>
<line x1="2025.2" y1="994.1" x2="2033.2" y2="994.1" stroke="#0c0a09" stroke-width="1.9" stroke-linecap="butt"/>
<line x1="1611.3" y1="1023.5" x2="1603.3" y2="1023.5" stroke="#0c0a09" stroke-width="1.9" stroke-linecap="butt"/>
<line x1="2025.2" y1="1023.5" x2="2033.2" y2="1023.5" stroke="#0c0a09" stroke-width="1.9" stroke-linecap="butt"/>
<line x1="1611.3" y1="1053.0" x2="1603.3" y2="1053.0" stroke="#0c0a09" stroke-width="1.9" stroke-linecap="butt"/>
<line x1="2025.2" y1="1053.0" x2="2033.2" y2="1053.0" stroke="#0c0a09" stroke-width="1.9" stroke-linecap="butt"/>
<line x1="1611.3" y1="1082.4" x2="1603.3" y2="1082.4" stroke="#0c0a09" stroke-width="1.9" stroke-linecap="butt"/>
<line x1="2025.2" y1="1082.4" x2="2033.2" y2="1082.4" stroke="#0c0a09" stroke-width="1.9" stroke-linecap="butt"/>
<text x="1672.5" y="1134.3" font-size="28.6" text-anchor="middle" font-weight="normal" fill="#0e0c0b" stroke="#0e0c0b" stroke-width="0.34" >3</text>
<text x="1790.4" y="1134.3" font-size="28.6" text-anchor="middle" font-weight="normal" fill="#0e0c0b" stroke="#0e0c0b" stroke-width="0.34" >2</text>
<text x="1908.3" y="1134.3" font-size="28.6" text-anchor="middle" font-weight="normal" fill="#0e0c0b" stroke="#0e0c0b" stroke-width="0.34" >1</text>
<text x="2026.2" y="1134.3" font-size="28.6" text-anchor="middle" font-weight="normal" fill="#0e0c0b" stroke="#0e0c0b" stroke-width="0.34" >0</text>
<text x="1599.1" y="383.4" font-size="28.6" text-anchor="end" font-weight="normal" fill="#0e0c0b" stroke="#0e0c0b" stroke-width="0.34" >20</text>
<text x="1599.1" y="530.7" font-size="28.6" text-anchor="end" font-weight="normal" fill="#0e0c0b" stroke="#0e0c0b" stroke-width="0.34" >25</text>
<text x="1599.1" y="678.0" font-size="28.6" text-anchor="end" font-weight="normal" fill="#0e0c0b" stroke="#0e0c0b" stroke-width="0.34" >30</text>
<text x="1599.1" y="825.3" font-size="28.6" text-anchor="end" font-weight="normal" fill="#0e0c0b" stroke="#0e0c0b" stroke-width="0.34" >35</text>
<text x="1599.1" y="972.6" font-size="28.6" text-anchor="end" font-weight="normal" fill="#0e0c0b" stroke="#0e0c0b" stroke-width="0.34" >40</text>
<text x="1209.2" y="296.7" font-size="36.5" text-anchor="start" font-weight="bold" fill="#0c0a09" stroke="#0c0a09" stroke-width="0.29" textLength="136.5" lengthAdjust="spacingAndGlyphs" >K20me0</text>
<text x="1209.2" y="339.5" font-size="36.5" text-anchor="start" font-weight="bold" fill="#dc2a1c" stroke="#dc2a1c" stroke-width="0.29" textLength="136.5" lengthAdjust="spacingAndGlyphs" >K20me3</text>
<text x="1619.5" y="296.9" font-size="36.5" text-anchor="start" font-weight="bold" fill="#0c0a09" stroke="#0c0a09" stroke-width="0.29" textLength="137.0" lengthAdjust="spacingAndGlyphs" >K20me0</text>
<text x="1619.5" y="339.7" font-size="36.5" text-anchor="start" font-weight="bold" fill="#dc2a1c" stroke="#dc2a1c" stroke-width="0.29" textLength="137.5" lengthAdjust="spacingAndGlyphs" >K20me3</text>
<path d="M314.2,283.5 L328.0,276.5 L338.7,271.5 L347.0,270.0 L356.7,271.5 L364.6,275.5 L376.8,284.5 L388.5,287.8 L389.0,291.0 L379.5,294.0 L379.0,305.0 L358.7,312.5 L348.4,316.8 L338.7,312.5 L326.3,309.5 L320.3,303.0 L317.5,297.0 L318.0,292.0 Z" fill="#0c0a09" />
<path d="M319.4,286.3 L328.3,278.7 L338.7,273.1 L347.0,271.1 L356.7,272.8 L363.6,276.6 L375.3,285.6 L378.8,293.2 L378.1,304.2 L358.7,311.1 L348.4,315.3 L338.7,311.1 L326.3,308.4 L322.8,302.8 L320.0,293.2 Z" fill="#4450a9" />
<ellipse cx="347.7" cy="292.8" rx="11.0" ry="12.6" fill="#fff" stroke="#0c0a09" stroke-width="1.8"/>
<ellipse cx="393.3" cy="292.5" rx="2.8" ry="3.8" fill="none" stroke="#4450a9" stroke-width="1.3"/>
<text x="385.9" y="322.3" font-size="32" text-anchor="start" font-weight="normal" fill="#0e0c0b" stroke="#0e0c0b" stroke-width="0.38" textLength="44.6" lengthAdjust="spacingAndGlyphs" >G<tspan font-family="Liberation Serif" font-weight="normal" font-size="1.08em">α</tspan></text>
<ellipse cx="301.5" cy="577.5" rx="6.5" ry="4.2" fill="none" stroke="#4450a9" stroke-width="1.4"/>
<ellipse cx="300.5" cy="576.5" rx="3.5" ry="2.5" fill="#0c0a09"/>
<ellipse cx="302.0" cy="578.0" rx="9.5" ry="5.5" fill="none" stroke="#4450a9" stroke-width="1.1"/>
<text x="211.2" y="589.0" font-size="32" text-anchor="start" font-weight="normal" fill="#0e0c0b" stroke="#0e0c0b" stroke-width="0.38" textLength="76.4" lengthAdjust="spacingAndGlyphs" >A15<tspan font-family="Liberation Serif" font-weight="normal" font-size="1.08em">α</tspan></text>
<ellipse cx="291.0" cy="678.5" rx="11.3" ry="16.1" fill="#0c0a09"/>
<ellipse cx="291.0" cy="681.0" rx="10.8" ry="15.8" fill="#4450a9"/>
<ellipse cx="291.5" cy="677.0" rx="2.5" ry="6.0" fill="#fff"/>
<ellipse cx="291.0" cy="682.0" rx="4.0" ry="5.0" fill="none" stroke="#0c0a09" stroke-width="1.2"/>
<text x="305.6" y="689.0" font-size="32" text-anchor="start" font-weight="normal" fill="#0e0c0b" stroke="#0e0c0b" stroke-width="0.38" textLength="37.5" lengthAdjust="spacingAndGlyphs" >L<tspan font-family="Liberation Serif" font-weight="normal" font-size="1.08em">α</tspan></text>
<ellipse cx="295.5" cy="725.5" rx="18.8" ry="20.6" fill="#0c0a09"/>
<path d="M308.4,711.3 L313.6,703.9 L315.6,710.1" fill="none" stroke="#0c0a09" stroke-width="2.4" stroke-linejoin="round" />
<path d="M308.4,716.9 L316.5,716.3 L322.5,717.6 L326.3,721.6 L328.5,727.4 L327.4,731.6 L322.1,733.2 L315.6,732.6 L310.8,731.5 Z" fill="none" stroke="#0c0a09" stroke-width="3" stroke-linejoin="round" />
<path d="M311.6,720.3 L319.5,720.0 L323.5,723.8 L324.7,727.3 L321.5,729.7 L314.8,729.7 L311.6,728.6 Z" fill="none" stroke="#0c0a09" stroke-width="1.6" stroke-linejoin="round" />
<path d="M303.5,706.5 L309.2,711.3 L311.6,714.5 L312.4,722.6 L311.6,734.7 L308.4,740.3 L301.9,744.4" fill="none" stroke="#0c0a09" stroke-width="3" stroke-linejoin="round" />
<path d="M282.0,706.0 L296.0,705.5 L305.0,709.0 L311.0,716.0 L311.6,730.0 L306.0,741.0 L296.0,747.2 L285.0,747.0 L277.0,740.0 L274.5,728.0 L276.0,714.0 Z" fill="#4450a9" />
<ellipse cx="292.0" cy="726.8" rx="7.9" ry="12.0" fill="#fff" stroke="#0c0a09" stroke-width="1.8"/>
<line x1="326.0" y1="725.8" x2="355.6" y2="725.8" stroke="#0c0a09" stroke-width="4" stroke-linecap="butt"/>
<text x="359.5" y="735.4" font-size="32" text-anchor="start" font-weight="normal" fill="#0e0c0b" stroke="#0e0c0b" stroke-width="0.38" textLength="77.9" lengthAdjust="spacingAndGlyphs" >K20<tspan font-family="Liberation Serif" font-weight="normal" font-size="1.08em">α</tspan></text>
<text x="164.2" y="769.8" font-size="32" text-anchor="start" font-weight="normal" fill="#0e0c0b" stroke="#0e0c0b" stroke-width="0.38" textLength="147.3" lengthAdjust="spacingAndGlyphs" >K<tspan font-family="Liberation Serif" font-weight="normal" font-size="1.08em">α</tspan>/R<tspan font-family="Liberation Serif" font-weight="normal" font-size="1.08em">α</tspan>/H<tspan font-family="Liberation Serif" font-weight="normal" font-size="1.08em">α</tspan></text>
<ellipse cx="336.5" cy="776.5" rx="11.5" ry="15.0" fill="#0c0a09"/>
<ellipse cx="335.8" cy="780.5" rx="12.0" ry="16.5" fill="#4450a9"/>
<ellipse cx="336.0" cy="779.5" rx="2.0" ry="4.0" fill="#fff" stroke="#0c0a09" stroke-width="1"/>
<ellipse cx="336.0" cy="779.5" rx="5.0" ry="8.0" fill="none" stroke="#0c0a09" stroke-width="0.8"/>
<text x="350.5" y="788.4" font-size="32" text-anchor="start" font-weight="normal" fill="#0e0c0b" stroke="#0e0c0b" stroke-width="0.38" textLength="60.0" lengthAdjust="spacingAndGlyphs" >S1<tspan font-family="Liberation Serif" font-weight="normal" font-size="1.08em">α</tspan></text>
<rect x="354.8" y="923.0" width="70.6" height="70.0" fill="none" stroke="#0c0a09" stroke-width="8"/>
<text x="260.6" y="956.5" font-size="38" text-anchor="start" font-weight="bold" fill="#0c0a09" stroke="#0c0a09" stroke-width="0.30" textLength="90.8" lengthAdjust="spacingAndGlyphs" >V21<tspan font-family="Liberation Serif" font-weight="normal" font-size="1.3em">α</tspan></text>
<ellipse cx="395.7" cy="969.7" rx="8.0" ry="7.5" fill="#0c0a09"/>
<path d="M378.0,950.0 L385.0,946.0 L393.0,946.5 L397.5,951.0 L398.5,958.0 L397.0,966.0 L395.0,969.5 L391.0,966.0 L384.0,965.5 L377.5,961.0 L376.2,955.0 Z" fill="#4450a9" />
<ellipse cx="387.2" cy="956.3" rx="6.3" ry="4.8" fill="#fff" stroke="#0c0a09" stroke-width="1.6"/>
<path d="M405.0,954.8 L409.0,956.2 L405.0,958.3 Z" fill="none" stroke="#4450a9" stroke-width="1.2" stroke-linejoin="round" />
<path d="M338.0,1018.0 L344.0,1009.0 L353.0,1007.0 L362.0,1010.0 L371.0,1016.0 L374.0,1021.0 L373.0,1027.0 L368.0,1030.0 Z" fill="#0c0a09" />
<ellipse cx="353.7" cy="1026.5" rx="15.0" ry="15.0" fill="#4450a9"/>
<ellipse cx="353.9" cy="1025.6" rx="5.2" ry="6.3" fill="#0c0a09"/>
<ellipse cx="353.2" cy="1022.5" rx="3.3" ry="2.8" fill="#fff"/>
<ellipse cx="374.5" cy="1023.8" rx="3.2" ry="2.3" fill="none" stroke="#4450a9" stroke-width="1.2"/>
<text x="276.5" y="1042.3" font-size="32" text-anchor="start" font-weight="normal" fill="#0e0c0b" stroke="#0e0c0b" stroke-width="0.38" textLength="55.6" lengthAdjust="spacingAndGlyphs" >S1<tspan font-family="Liberation Serif" font-weight="normal" font-size="1.08em">β</tspan></text>
<ellipse cx="850.0" cy="322.7" rx="1.0" ry="2.2" fill="#0c0a09"/>
<ellipse cx="844.7" cy="358.0" rx="12.1" ry="10.8" fill="#0c0a09"/>
<ellipse cx="844.2" cy="357.5" rx="11.5" ry="10.0" fill="#4450a9"/>
<ellipse cx="844.2" cy="357.5" rx="4.2" ry="3.2" fill="#fff" stroke="#0c0a09" stroke-width="1.6"/>
<text x="747.1" y="365.3" font-size="32" text-anchor="start" font-weight="normal" fill="#0e0c0b" stroke="#0e0c0b" stroke-width="0.38" textLength="74.1" lengthAdjust="spacingAndGlyphs" >A15<tspan font-family="Liberation Serif" font-weight="normal" font-size="1.08em">β</tspan></text>
<ellipse cx="897.5" cy="395.5" rx="4.0" ry="2.6" fill="none" stroke="#4450a9" stroke-width="1.6"/>
<ellipse cx="898.0" cy="412.0" rx="4.2" ry="3.3" fill="none" stroke="#4450a9" stroke-width="1.8"/>
<ellipse cx="898.0" cy="412.0" rx="1.5" ry="1.2" fill="#4450a9"/>
<text x="908.4" y="414.8" font-size="32" text-anchor="start" font-weight="normal" fill="#0e0c0b" stroke="#0e0c0b" stroke-width="0.38" textLength="71.8" lengthAdjust="spacingAndGlyphs" >V21<tspan font-family="Liberation Serif" font-weight="normal" font-size="1.08em">γ</tspan></text>
<ellipse cx="865.7" cy="426.3" rx="6.3" ry="5.3" fill="#0c0a09"/>
<ellipse cx="865.2" cy="426.3" rx="5.8" ry="4.6" fill="#4450a9"/>
<ellipse cx="908.1" cy="473.5" rx="11.8" ry="10.0" fill="#0c0a09"/>
<ellipse cx="906.1" cy="474.5" rx="11.2" ry="10.0" fill="#4450a9"/>
<ellipse cx="907.1" cy="473.5" rx="5.5" ry="4.2" fill="#fff" stroke="#0c0a09" stroke-width="1.6"/>
<ellipse cx="922.0" cy="475.5" rx="2.0" ry="3.0" fill="#0c0a09"/>
<line x1="910.4" y1="477.6" x2="933.5" y2="489.1" stroke="#0c0a09" stroke-width="3.8" stroke-linecap="butt"/>
<text x="933.5" y="515.0" font-size="32" text-anchor="start" font-weight="normal" fill="#0e0c0b" stroke="#0e0c0b" stroke-width="0.38" textLength="34.0" lengthAdjust="spacingAndGlyphs" >L<tspan font-family="Liberation Serif" font-weight="normal" font-size="1.08em">δ</tspan></text>
<ellipse cx="902.5" cy="526.5" rx="12.5" ry="10.5" fill="#0c0a09"/>
<ellipse cx="901.0" cy="527.5" rx="12.5" ry="10.5" fill="#4450a9"/>
<ellipse cx="901.0" cy="526.5" rx="4.6" ry="3.6" fill="#fff" stroke="#0c0a09" stroke-width="1.6"/>
<line x1="900.3" y1="526.6" x2="927.7" y2="515.5" stroke="#0c0a09" stroke-width="3.8" stroke-linecap="butt"/>
<ellipse cx="915.0" cy="528.0" rx="3.0" ry="2.4" fill="none" stroke="#4450a9" stroke-width="1.2"/>
<ellipse cx="843.5" cy="519.3" rx="24.4" ry="14.0" fill="#0c0a09"/>
<ellipse cx="841.5" cy="518.8" rx="23.0" ry="13.5" fill="#4450a9"/>
<ellipse cx="841.5" cy="518.8" rx="13.0" ry="7.8" fill="#fff" stroke="#0c0a09" stroke-width="1.6"/>
<path d="M860.0,515.0 L866.0,518.0 L860.0,523.0 Z" fill="#0c0a09" />
<text x="784.6" y="527.4" font-size="32" text-anchor="start" font-weight="normal" fill="#0e0c0b" stroke="#0e0c0b" stroke-width="0.38" textLength="36.6" lengthAdjust="spacingAndGlyphs" >K<tspan font-family="Liberation Serif" font-weight="normal" font-size="1.08em">γ</tspan></text>
<ellipse cx="821.5" cy="584.2" rx="16.8" ry="15.2" fill="#0c0a09"/>
<ellipse cx="819.5" cy="584.2" rx="16.0" ry="14.5" fill="#4450a9"/>
<ellipse cx="819.0" cy="584.5" rx="1.6" ry="2.5" fill="#fff" stroke="#0c0a09" stroke-width="0.8"/>
<ellipse cx="770.7" cy="596.6" rx="1.8" ry="0.9" fill="#4450a9"/>
<text x="727.0" y="585.6" font-size="32" text-anchor="start" font-weight="normal" fill="#0e0c0b" stroke="#0e0c0b" stroke-width="0.38" textLength="78.4" lengthAdjust="spacingAndGlyphs" >R<tspan font-family="Liberation Serif" font-weight="normal" font-size="1.08em">γ</tspan>/L<tspan font-family="Liberation Serif" font-weight="normal" font-size="1.08em">γ</tspan></text>
<ellipse cx="810.5" cy="643.7" rx="25.4" ry="14.1" fill="#0c0a09"/>
<ellipse cx="810.5" cy="644.7" rx="24.0" ry="12.8" fill="#4450a9"/>
<ellipse cx="808.5" cy="644.7" rx="11.0" ry="8.5" fill="#fff" stroke="#0c0a09" stroke-width="1.6"/>
<ellipse cx="830.0" cy="645.0" rx="3.5" ry="2.5" fill="#0c0a09"/>
<text x="844.2" y="654.7" font-size="32" text-anchor="start" font-weight="normal" fill="#0e0c0b" stroke="#0e0c0b" stroke-width="0.38" textLength="37.5" lengthAdjust="spacingAndGlyphs" >K<tspan font-family="Liberation Serif" font-weight="normal" font-size="1.08em">δ</tspan></text>
<ellipse cx="799.2" cy="695.0" rx="12.0" ry="8.0" fill="#0c0a09"/>
<ellipse cx="795.2" cy="695.0" rx="13.3" ry="7.6" fill="#4450a9"/>
<ellipse cx="795.0" cy="695.0" rx="4.5" ry="2.8" fill="#fff" stroke="#0c0a09" stroke-width="1.2"/>
<text x="817.7" y="706.6" font-size="32" text-anchor="start" font-weight="normal" fill="#0e0c0b" stroke="#0e0c0b" stroke-width="0.38" textLength="39.5" lengthAdjust="spacingAndGlyphs" >R<tspan font-family="Liberation Serif" font-weight="normal" font-size="1.08em">β</tspan></text>
<ellipse cx="798.2" cy="759.0" rx="24.9" ry="14.0" fill="#0c0a09"/>
<ellipse cx="795.2" cy="759.0" rx="23.5" ry="13.0" fill="#4450a9"/>
<ellipse cx="794.2" cy="759.0" rx="11.0" ry="6.0" fill="#fff" stroke="#0c0a09" stroke-width="1.6"/>
<text x="826.9" y="767.7" font-size="32" text-anchor="start" font-weight="normal" fill="#0e0c0b" stroke="#0e0c0b" stroke-width="0.38" textLength="38.1" lengthAdjust="spacingAndGlyphs" >K<tspan font-family="Liberation Serif" font-weight="normal" font-size="1.08em">β</tspan></text>
<ellipse cx="729.0" cy="785.5" rx="2.6" ry="2.3" fill="#4450a9"/>
<ellipse cx="729.0" cy="785.5" rx="1.2" ry="1.0" fill="#fff"/>
<path d="M630.0,1029.0 L634.0,1022.0 L648.0,1019.0 L662.0,1019.5 L668.0,1024.0 L680.0,1026.0 L690.0,1026.0 L698.0,1028.0 L697.5,1033.0 L690.0,1035.0 L680.0,1035.0 L665.0,1040.0 L648.0,1041.3 L635.0,1039.0 L630.5,1034.0 Z" fill="#0c0a09" />
<ellipse cx="623.5" cy="1029.5" rx="1.5" ry="2.5" fill="#0c0a09"/>
<path d="M637.0,1027.0 L648.0,1021.0 L662.0,1021.0 L672.0,1026.0 L684.0,1027.0 L688.0,1030.0 L684.0,1034.0 L670.0,1036.0 L656.0,1041.0 L641.0,1039.0 L636.0,1034.0 Z" fill="#4450a9" />
<ellipse cx="655.5" cy="1030.0" rx="8.5" ry="8.0" fill="#fff" stroke="#0c0a09" stroke-width="1.3"/>
<ellipse cx="692.0" cy="1030.0" rx="3.3" ry="2.5" fill="none" stroke="#4450a9" stroke-width="1.2"/>
<text x="634.8" y="1007.6" font-size="32" text-anchor="start" font-weight="normal" fill="#0e0c0b" stroke="#0e0c0b" stroke-width="0.38" textLength="35.2" lengthAdjust="spacingAndGlyphs" >K<tspan font-family="Liberation Serif" font-weight="normal" font-size="1.08em">ε</tspan></text>
<ellipse cx="633.0" cy="1064.8" rx="15.5" ry="11.0" fill="#0c0a09"/>
<ellipse cx="632.5" cy="1065.8" rx="15.5" ry="10.5" fill="#4450a9"/>
<ellipse cx="631.5" cy="1065.5" rx="1.5" ry="1.2" fill="#fff" stroke="#0c0a09" stroke-width="0.8"/>
<text x="654.0" y="1081.6" font-size="32" text-anchor="start" font-weight="normal" fill="#0e0c0b" stroke="#0e0c0b" stroke-width="0.38" textLength="39.0" lengthAdjust="spacingAndGlyphs" >R<tspan font-family="Liberation Serif" font-weight="normal" font-size="1.08em">δ</tspan></text>
<ellipse cx="817.0" cy="1039.0" rx="14.0" ry="11.0" fill="#0c0a09"/>
<ellipse cx="817.0" cy="1037.0" rx="14.0" ry="10.5" fill="#4450a9"/>
<ellipse cx="816.0" cy="1036.0" rx="5.0" ry="2.5" fill="none" stroke="#0c0a09" stroke-width="1"/>
<text x="799.5" y="1018.3" font-size="32" text-anchor="start" font-weight="normal" fill="#0e0c0b" stroke="#0e0c0b" stroke-width="0.38" textLength="36.1" lengthAdjust="spacingAndGlyphs" >L<tspan font-family="Liberation Serif" font-weight="normal" font-size="1.08em">β</tspan></text>
<ellipse cx="896.0" cy="1028.9" rx="3.8" ry="3.3" fill="#fff" stroke="#0c0a09" stroke-width="2.2"/>
<path d="M1363.3,281.0 L1372.0,278.0 L1382.0,272.5 L1398.0,270.5 L1410.0,271.5 L1418.0,276.0 L1430.0,281.0 L1438.5,286.0 L1437.0,291.0 L1428.0,292.0 L1426.0,302.0 L1412.0,308.0 L1400.0,313.0 L1396.0,317.0 L1388.0,313.0 L1374.0,306.0 L1368.0,299.0 L1367.0,290.0 Z" fill="#0c0a09" />
<path d="M1369.5,290.0 L1374.0,282.0 L1382.0,274.0 L1394.0,271.0 L1410.0,271.0 L1416.0,274.0 L1423.0,281.0 L1429.0,284.0 L1429.0,296.0 L1424.0,301.0 L1410.0,306.0 L1398.0,310.0 L1386.0,309.0 L1375.0,303.0 Z" fill="#dc2a1c" />
<ellipse cx="1398.3" cy="290.5" rx="10.3" ry="12.3" fill="#fff" stroke="#0c0a09" stroke-width="1.6"/>
<ellipse cx="1443.3" cy="286.0" rx="2.8" ry="3.6" fill="none" stroke="#dc2a1c" stroke-width="1.3"/>
<text x="1435.0" y="323.1" font-size="32" text-anchor="start" font-weight="normal" fill="#0e0c0b" stroke="#0e0c0b" stroke-width="0.38" textLength="44.8" lengthAdjust="spacingAndGlyphs" >G<tspan font-family="Liberation Serif" font-weight="normal" font-size="1.08em">α</tspan></text>
<ellipse cx="1349.6" cy="571.5" rx="4.5" ry="4.0" fill="#dc2a1c"/>
<ellipse cx="1349.6" cy="571.5" rx="1.8" ry="1.5" fill="#fff" stroke="#0c0a09" stroke-width="0.8"/>
<text x="1267.2" y="586.0" font-size="32" text-anchor="start" font-weight="normal" fill="#0e0c0b" stroke="#0e0c0b" stroke-width="0.38" textLength="77.9" lengthAdjust="spacingAndGlyphs" >A15<tspan font-family="Liberation Serif" font-weight="normal" font-size="1.08em">α</tspan></text>
<ellipse cx="1339.5" cy="679.5" rx="10.5" ry="15.5" fill="#0c0a09"/>
<ellipse cx="1340.0" cy="676.8" rx="10.0" ry="15.0" fill="#dc2a1c"/>
<ellipse cx="1340.5" cy="677.0" rx="2.5" ry="6.5" fill="#fff" stroke="#0c0a09" stroke-width="1"/>
<text x="1358.0" y="687.7" font-size="32" text-anchor="start" font-weight="normal" fill="#0e0c0b" stroke="#0e0c0b" stroke-width="0.38" textLength="37.3" lengthAdjust="spacingAndGlyphs" >L<tspan font-family="Liberation Serif" font-weight="normal" font-size="1.08em">α</tspan></text>
<ellipse cx="1344.0" cy="727.0" rx="21.0" ry="19.5" fill="#0c0a09"/>
<path d="M1356.5,706.4 L1362.2,703.8 L1363.8,712.6" fill="none" stroke="#0c0a09" stroke-width="2.4" stroke-linejoin="round" />
<path d="M1362.2,718.8 L1368.4,716.9 L1374.7,718.8 L1377.8,724.0 L1377.6,730.2 L1374.7,732.8 L1368.4,733.3 L1363.3,731.2 Z" fill="none" stroke="#0c0a09" stroke-width="3" stroke-linejoin="round" />
<path d="M1365.3,721.9 L1371.5,721.4 L1374.7,724.5 L1374.1,729.2 L1368.4,730.2 L1364.8,728.7 Z" fill="none" stroke="#0c0a09" stroke-width="1.5" stroke-linejoin="round" />
<path d="M1322.0,716.0 L1328.0,709.0 L1342.0,702.7 L1354.0,703.0 L1361.0,710.0 L1364.8,722.0 L1362.0,733.0 L1352.0,742.0 L1340.0,743.7 L1330.0,740.0 L1322.0,730.0 L1320.2,722.0 Z" fill="#dc2a1c" />
<ellipse cx="1342.5" cy="724.0" rx="7.0" ry="10.4" fill="#fff" stroke="#0c0a09" stroke-width="1.5"/>
<line x1="1372.6" y1="725.0" x2="1398.0" y2="725.0" stroke="#0c0a09" stroke-width="4" stroke-linecap="butt"/>
<text x="1402.1" y="734.4" font-size="32" text-anchor="start" font-weight="normal" fill="#0e0c0b" stroke="#0e0c0b" stroke-width="0.38" textLength="75.7" lengthAdjust="spacingAndGlyphs" >K20<tspan font-family="Liberation Serif" font-weight="normal" font-size="1.08em">α</tspan></text>
<text x="1220.8" y="763.2" font-size="32" text-anchor="start" font-weight="normal" fill="#0e0c0b" stroke="#0e0c0b" stroke-width="0.38" textLength="146.7" lengthAdjust="spacingAndGlyphs" >K<tspan font-family="Liberation Serif" font-weight="normal" font-size="1.08em">α</tspan>/R<tspan font-family="Liberation Serif" font-weight="normal" font-size="1.08em">α</tspan>/H<tspan font-family="Liberation Serif" font-weight="normal" font-size="1.08em">α</tspan></text>
<ellipse cx="1384.0" cy="778.0" rx="9.5" ry="16.5" fill="#0c0a09"/>
<path d="M1386.0,770.0 L1392.0,767.0 L1400.0,772.0 L1404.7,780.0 L1402.0,792.0 L1396.0,798.6 L1390.0,797.0 L1385.0,788.0 L1384.5,778.0 Z" fill="#dc2a1c" />
<path d="M1392.0,775.0 L1397.0,779.0 L1395.0,786.0 L1391.0,784.0 Z" fill="#0c0a09" />
<text x="1406.8" y="786.7" font-size="32" text-anchor="start" font-weight="normal" fill="#0e0c0b" stroke="#0e0c0b" stroke-width="0.38" textLength="58.5" lengthAdjust="spacingAndGlyphs" >S1<tspan font-family="Liberation Serif" font-weight="normal" font-size="1.08em">α</tspan></text>
<rect x="1406.2" y="923.1" width="70.4" height="69.9" fill="none" stroke="#0c0a09" stroke-width="8.2"/>
<text x="1311.5" y="956.5" font-size="38" text-anchor="start" font-weight="bold" fill="#0c0a09" stroke="#0c0a09" stroke-width="0.30" textLength="90.8" lengthAdjust="spacingAndGlyphs" >V21<tspan font-family="Liberation Serif" font-weight="normal" font-size="1.3em">α</tspan></text>
<ellipse cx="1437.5" cy="953.5" rx="11.0" ry="9.5" fill="#0c0a09"/>
<ellipse cx="1437.1" cy="955.3" rx="11.3" ry="9.2" fill="#dc2a1c"/>
<ellipse cx="1437.5" cy="954.8" rx="5.3" ry="3.9" fill="#fff"/>
<ellipse cx="1445.0" cy="968.5" rx="8.0" ry="7.8" fill="#0c0a09"/>
<ellipse cx="1444.6" cy="969.8" rx="7.4" ry="7.2" fill="#dc2a1c"/>
<path d="M1387.0,1018.0 L1391.0,1010.0 L1400.0,1007.0 L1410.0,1009.0 L1420.0,1014.0 L1422.7,1020.0 L1420.0,1026.0 L1400.0,1024.0 L1390.0,1030.0 Z" fill="#0c0a09" />
<ellipse cx="1403.5" cy="1017.5" rx="3.5" ry="2.5" fill="#fff"/>
<ellipse cx="1406.0" cy="1034.2" rx="15.3" ry="15.5" fill="#dc2a1c"/>
<ellipse cx="1407.0" cy="1033.6" rx="3.0" ry="3.0" fill="#0c0a09"/>
<ellipse cx="1407.5" cy="1034.8" rx="1.5" ry="1.5" fill="#fff"/>
<text x="1321.3" y="1042.3" font-size="32" text-anchor="start" font-weight="normal" fill="#0e0c0b" stroke="#0e0c0b" stroke-width="0.38" textLength="56.2" lengthAdjust="spacingAndGlyphs" >S1<tspan font-family="Liberation Serif" font-weight="normal" font-size="1.08em">β</tspan></text>
<ellipse cx="1891.6" cy="322.7" rx="1.0" ry="2.2" fill="#0c0a09"/>
<ellipse cx="1886.9" cy="358.0" rx="11.3" ry="10.8" fill="#0c0a09"/>
<ellipse cx="1886.4" cy="357.0" rx="10.8" ry="10.0" fill="#dc2a1c"/>
<ellipse cx="1886.4" cy="357.0" rx="4.0" ry="3.2" fill="#fff" stroke="#0c0a09" stroke-width="1.6"/>
<text x="1795.7" y="365.3" font-size="32" text-anchor="start" font-weight="normal" fill="#0e0c0b" stroke="#0e0c0b" stroke-width="0.38" textLength="74.9" lengthAdjust="spacingAndGlyphs" >A15<tspan font-family="Liberation Serif" font-weight="normal" font-size="1.08em">β</tspan></text>
<ellipse cx="1939.0" cy="394.0" rx="4.2" ry="2.8" fill="none" stroke="#dc2a1c" stroke-width="1.8"/>
<ellipse cx="1941.1" cy="409.4" rx="4.8" ry="3.6" fill="none" stroke="#dc2a1c" stroke-width="2"/>
<ellipse cx="1941.1" cy="409.4" rx="1.5" ry="1.0" fill="#dc2a1c"/>
<text x="1953.2" y="414.8" font-size="32" text-anchor="start" font-weight="normal" fill="#0e0c0b" stroke="#0e0c0b" stroke-width="0.38" textLength="72.9" lengthAdjust="spacingAndGlyphs" >V21<tspan font-family="Liberation Serif" font-weight="normal" font-size="1.08em">γ</tspan></text>
<ellipse cx="1906.1" cy="426.8" rx="6.3" ry="5.0" fill="#0c0a09"/>
<ellipse cx="1907.1" cy="425.8" rx="5.8" ry="4.5" fill="#dc2a1c"/>
<ellipse cx="1948.9" cy="475.1" rx="12.0" ry="10.0" fill="#0c0a09"/>
<ellipse cx="1947.4" cy="473.6" rx="12.0" ry="10.0" fill="#dc2a1c"/>
<ellipse cx="1947.4" cy="472.6" rx="5.5" ry="4.2" fill="#fff" stroke="#0c0a09" stroke-width="1.6"/>
<ellipse cx="1965.0" cy="475.5" rx="2.0" ry="3.0" fill="#0c0a09"/>
<line x1="1955.5" y1="477.6" x2="1978.6" y2="489.1" stroke="#0c0a09" stroke-width="3.8" stroke-linecap="butt"/>
<text x="1981.4" y="513.6" font-size="32" text-anchor="start" font-weight="normal" fill="#0e0c0b" stroke="#0e0c0b" stroke-width="0.38" textLength="34.6" lengthAdjust="spacingAndGlyphs" >L<tspan font-family="Liberation Serif" font-weight="normal" font-size="1.08em">δ</tspan></text>
<ellipse cx="1942.0" cy="528.4" rx="12.5" ry="10.6" fill="#0c0a09"/>
<ellipse cx="1940.5" cy="526.4" rx="12.5" ry="10.6" fill="#dc2a1c"/>
<ellipse cx="1940.5" cy="525.4" rx="4.6" ry="3.6" fill="#fff" stroke="#0c0a09" stroke-width="1.6"/>
<ellipse cx="1958.0" cy="528.0" rx="2.0" ry="3.0" fill="#0c0a09"/>
<line x1="1944.0" y1="527.2" x2="1974.2" y2="514.2" stroke="#0c0a09" stroke-width="3.8" stroke-linecap="butt"/>
<ellipse cx="1883.6" cy="520.0" rx="23.9" ry="14.3" fill="#0c0a09"/>
<ellipse cx="1880.6" cy="518.0" rx="22.5" ry="13.5" fill="#dc2a1c"/>
<ellipse cx="1880.6" cy="518.0" rx="12.5" ry="7.8" fill="#fff" stroke="#0c0a09" stroke-width="1.6"/>
<text x="1825.9" y="527.4" font-size="32" text-anchor="start" font-weight="normal" fill="#0e0c0b" stroke="#0e0c0b" stroke-width="0.38" textLength="36.1" lengthAdjust="spacingAndGlyphs" >K<tspan font-family="Liberation Serif" font-weight="normal" font-size="1.08em">γ</tspan></text>
<ellipse cx="1862.0" cy="584.2" rx="16.3" ry="14.7" fill="#0c0a09"/>
<ellipse cx="1860.5" cy="582.2" rx="15.5" ry="14.0" fill="#dc2a1c"/>
<ellipse cx="1860.0" cy="581.0" rx="1.6" ry="2.5" fill="#fff" stroke="#0c0a09" stroke-width="0.8"/>
<text x="1765.4" y="581.3" font-size="32" text-anchor="start" font-weight="normal" fill="#0e0c0b" stroke="#0e0c0b" stroke-width="0.38" textLength="76.4" lengthAdjust="spacingAndGlyphs" >R<tspan font-family="Liberation Serif" font-weight="normal" font-size="1.08em">γ</tspan>/L<tspan font-family="Liberation Serif" font-weight="normal" font-size="1.08em">γ</tspan></text>
<ellipse cx="1853.8" cy="644.0" rx="25.3" ry="14.0" fill="#0c0a09"/>
<ellipse cx="1851.8" cy="643.0" rx="23.0" ry="12.5" fill="#dc2a1c"/>
<ellipse cx="1848.8" cy="643.0" rx="10.5" ry="8.0" fill="#fff" stroke="#0c0a09" stroke-width="1.6"/>
<text x="1889.8" y="654.7" font-size="32" text-anchor="start" font-weight="normal" fill="#0e0c0b" stroke="#0e0c0b" stroke-width="0.38" textLength="37.0" lengthAdjust="spacingAndGlyphs" >K<tspan font-family="Liberation Serif" font-weight="normal" font-size="1.08em">δ</tspan></text>
<ellipse cx="1839.9" cy="694.6" rx="13.5" ry="7.8" fill="#0c0a09"/>
<ellipse cx="1838.9" cy="693.6" rx="12.5" ry="6.5" fill="#dc2a1c"/>
<text x="1863.3" y="706.6" font-size="32" text-anchor="start" font-weight="normal" fill="#0e0c0b" stroke="#0e0c0b" stroke-width="0.38" textLength="39.0" lengthAdjust="spacingAndGlyphs" >R<tspan font-family="Liberation Serif" font-weight="normal" font-size="1.08em">β</tspan></text>
<ellipse cx="1840.4" cy="759.0" rx="24.9" ry="13.8" fill="#0c0a09"/>
<ellipse cx="1837.4" cy="757.0" rx="23.5" ry="12.5" fill="#dc2a1c"/>
<ellipse cx="1836.4" cy="757.0" rx="10.5" ry="6.0" fill="#fff" stroke="#0c0a09" stroke-width="1.6"/>
<text x="1872.0" y="767.7" font-size="32" text-anchor="start" font-weight="normal" fill="#0e0c0b" stroke="#0e0c0b" stroke-width="0.38" textLength="38.9" lengthAdjust="spacingAndGlyphs" >K<tspan font-family="Liberation Serif" font-weight="normal" font-size="1.08em">β</tspan></text>
<path d="M1666.0,1029.0 L1672.0,1021.0 L1686.0,1018.3 L1702.0,1019.0 L1710.0,1023.0 L1725.0,1024.0 L1740.0,1027.0 L1741.0,1032.0 L1725.0,1035.0 L1710.0,1037.0 L1700.0,1041.3 L1685.0,1041.0 L1672.0,1039.0 Z" fill="#0c0a09" />
<ellipse cx="1664.0" cy="1029.5" rx="1.5" ry="2.5" fill="#0c0a09"/>
<path d="M1678.0,1026.0 L1686.0,1019.5 L1702.0,1019.5 L1710.0,1025.0 L1725.0,1025.0 L1736.0,1027.0 L1736.0,1031.0 L1725.0,1033.0 L1710.0,1035.0 L1700.0,1039.0 L1686.0,1039.0 L1678.0,1034.0 Z" fill="#dc2a1c" />
<ellipse cx="1696.3" cy="1029.0" rx="8.0" ry="7.5" fill="#fff" stroke="#0c0a09" stroke-width="1.3"/>
<ellipse cx="1723.0" cy="1030.0" rx="3.0" ry="2.3" fill="none" stroke="#0c0a09" stroke-width="1.2"/>
<text x="1680.4" y="1007.6" font-size="32" text-anchor="start" font-weight="normal" fill="#0e0c0b" stroke="#0e0c0b" stroke-width="0.38" textLength="34.7" lengthAdjust="spacingAndGlyphs" >K<tspan font-family="Liberation Serif" font-weight="normal" font-size="1.08em">ε</tspan></text>
<ellipse cx="1673.2" cy="1067.0" rx="15.5" ry="10.3" fill="#0c0a09"/>
<ellipse cx="1673.2" cy="1064.0" rx="15.5" ry="9.5" fill="#dc2a1c"/>
<text x="1699.2" y="1081.6" font-size="32" text-anchor="start" font-weight="normal" fill="#0e0c0b" stroke="#0e0c0b" stroke-width="0.38" textLength="38.9" lengthAdjust="spacingAndGlyphs" >R<tspan font-family="Liberation Serif" font-weight="normal" font-size="1.08em">δ</tspan></text>
<ellipse cx="1860.5" cy="1039.0" rx="13.8" ry="10.9" fill="#0c0a09"/>
<ellipse cx="1859.5" cy="1036.0" rx="12.5" ry="9.5" fill="#dc2a1c"/>
<ellipse cx="1858.0" cy="1035.0" rx="4.0" ry="2.0" fill="none" stroke="#0c0a09" stroke-width="1"/>
<text x="1841.7" y="1021.1" font-size="32" text-anchor="start" font-weight="normal" fill="#0e0c0b" stroke="#0e0c0b" stroke-width="0.38" textLength="34.7" lengthAdjust="spacingAndGlyphs" >L<tspan font-family="Liberation Serif" font-weight="normal" font-size="1.08em">β</tspan></text>
<ellipse cx="1937.7" cy="1028.6" rx="3.6" ry="3.2" fill="#0c0a09"/>
<ellipse cx="1937.7" cy="1027.5" rx="2.5" ry="2.0" fill="#dc2a1c"/>
<text x="-2.5" y="241.4" font-size="62" text-anchor="start" font-weight="normal" fill="#0e0c0b" stroke="#0e0c0b" stroke-width="0.74" >b</text>
<text x="1086.0" y="241.4" font-size="62" text-anchor="start" font-weight="normal" fill="#0e0c0b" stroke="#0e0c0b" stroke-width="0.74" >c</text>
<text x="374.7" y="1163.6" font-size="20" text-anchor="start" font-weight="normal" fill="#0e0c0b" stroke="#0e0c0b" stroke-width="0.24" >1</text>
<text x="386.0" y="1175.1" font-size="36" text-anchor="start" font-weight="normal" fill="#0e0c0b" stroke="#0e0c0b" stroke-width="0.43" textLength="362.5" lengthAdjust="spacingAndGlyphs" >H Chemical Shift (ppm)</text>
<text x="1414.1" y="1159.7" font-size="20" text-anchor="start" font-weight="normal" fill="#0e0c0b" stroke="#0e0c0b" stroke-width="0.24" >1</text>
<text x="1424.7" y="1171.2" font-size="36" text-anchor="start" font-weight="normal" fill="#0e0c0b" stroke="#0e0c0b" stroke-width="0.43" textLength="361.6" lengthAdjust="spacingAndGlyphs" >H Chemical Shift (ppm)</text>
<g transform="translate(96.8,881.0) rotate(-90)">
<text x="-0.5" y="-12.0" font-size="21" text-anchor="start" font-weight="normal" fill="#0e0c0b" stroke="#0e0c0b" stroke-width="0.25" >13</text>
<text x="21.5" y="0.0" font-size="37" text-anchor="start" font-weight="normal" fill="#0e0c0b" stroke="#0e0c0b" stroke-width="0.44" textLength="361.9" lengthAdjust="spacingAndGlyphs" >C Chemical Shift (ppm)</text>
</g>
<g transform="translate(1145.9,882.7) rotate(-90)">
<text x="-0.5" y="-12.0" font-size="21" text-anchor="start" font-weight="normal" fill="#0e0c0b" stroke="#0e0c0b" stroke-width="0.25" >13</text>
<text x="21.5" y="0.0" font-size="37" text-anchor="start" font-weight="normal" fill="#0e0c0b" stroke="#0e0c0b" stroke-width="0.44" textLength="362.2" lengthAdjust="spacingAndGlyphs" >C Chemical Shift (ppm)</text>
</g>
<text x="-1.0" y="1296.0" font-size="62" text-anchor="start" font-weight="normal" fill="#0e0c0b" stroke="#0e0c0b" stroke-width="0.74" >d</text>
<rect x="218.1" y="1320.5" width="418.1" height="340.1" fill="none" stroke="#0c0a09" stroke-width="2"/>
<line x1="218.1" y1="1660.6" x2="218.1" y2="1668.1" stroke="#0c0a09" stroke-width="1.9" stroke-linecap="butt"/>
<line x1="239.0" y1="1660.6" x2="239.0" y2="1668.1" stroke="#0c0a09" stroke-width="1.9" stroke-linecap="butt"/>
<line x1="259.9" y1="1660.6" x2="259.9" y2="1668.1" stroke="#0c0a09" stroke-width="1.9" stroke-linecap="butt"/>
<line x1="280.8" y1="1660.6" x2="280.8" y2="1668.1" stroke="#0c0a09" stroke-width="1.9" stroke-linecap="butt"/>
<line x1="301.7" y1="1660.6" x2="301.7" y2="1668.1" stroke="#0c0a09" stroke-width="1.9" stroke-linecap="butt"/>
<line x1="322.6" y1="1660.6" x2="322.6" y2="1668.1" stroke="#0c0a09" stroke-width="1.9" stroke-linecap="butt"/>
<line x1="343.5" y1="1660.6" x2="343.5" y2="1668.1" stroke="#0c0a09" stroke-width="1.9" stroke-linecap="butt"/>
<line x1="364.4" y1="1660.6" x2="364.4" y2="1668.1" stroke="#0c0a09" stroke-width="1.9" stroke-linecap="butt"/>
<line x1="385.3" y1="1660.6" x2="385.3" y2="1668.1" stroke="#0c0a09" stroke-width="1.9" stroke-linecap="butt"/>
<line x1="406.2" y1="1660.6" x2="406.2" y2="1668.1" stroke="#0c0a09" stroke-width="1.9" stroke-linecap="butt"/>
<line x1="427.2" y1="1660.6" x2="427.2" y2="1668.1" stroke="#0c0a09" stroke-width="1.9" stroke-linecap="butt"/>
<line x1="448.1" y1="1660.6" x2="448.1" y2="1668.1" stroke="#0c0a09" stroke-width="1.9" stroke-linecap="butt"/>
<line x1="469.0" y1="1660.6" x2="469.0" y2="1668.1" stroke="#0c0a09" stroke-width="1.9" stroke-linecap="butt"/>
<line x1="489.9" y1="1660.6" x2="489.9" y2="1668.1" stroke="#0c0a09" stroke-width="1.9" stroke-linecap="butt"/>
<line x1="510.8" y1="1660.6" x2="510.8" y2="1668.1" stroke="#0c0a09" stroke-width="1.9" stroke-linecap="butt"/>
<line x1="531.7" y1="1660.6" x2="531.7" y2="1668.1" stroke="#0c0a09" stroke-width="1.9" stroke-linecap="butt"/>
<line x1="552.6" y1="1660.6" x2="552.6" y2="1668.1" stroke="#0c0a09" stroke-width="1.9" stroke-linecap="butt"/>
<line x1="573.5" y1="1660.6" x2="573.5" y2="1668.1" stroke="#0c0a09" stroke-width="1.9" stroke-linecap="butt"/>
<line x1="594.4" y1="1660.6" x2="594.4" y2="1668.1" stroke="#0c0a09" stroke-width="1.9" stroke-linecap="butt"/>
<line x1="615.3" y1="1660.6" x2="615.3" y2="1668.1" stroke="#0c0a09" stroke-width="1.9" stroke-linecap="butt"/>
<line x1="636.2" y1="1660.6" x2="636.2" y2="1668.1" stroke="#0c0a09" stroke-width="1.9" stroke-linecap="butt"/>
<line x1="218.1" y1="1333.7" x2="211.1" y2="1333.7" stroke="#0c0a09" stroke-width="1.9" stroke-linecap="butt"/>
<line x1="218.1" y1="1346.7" x2="211.1" y2="1346.7" stroke="#0c0a09" stroke-width="1.9" stroke-linecap="butt"/>
<line x1="218.1" y1="1359.7" x2="211.1" y2="1359.7" stroke="#0c0a09" stroke-width="1.9" stroke-linecap="butt"/>
<line x1="218.1" y1="1372.8" x2="211.1" y2="1372.8" stroke="#0c0a09" stroke-width="1.9" stroke-linecap="butt"/>
<line x1="218.1" y1="1385.8" x2="211.1" y2="1385.8" stroke="#0c0a09" stroke-width="1.9" stroke-linecap="butt"/>
<line x1="218.1" y1="1398.9" x2="211.1" y2="1398.9" stroke="#0c0a09" stroke-width="1.9" stroke-linecap="butt"/>
<line x1="218.1" y1="1411.9" x2="211.1" y2="1411.9" stroke="#0c0a09" stroke-width="1.9" stroke-linecap="butt"/>
<line x1="218.1" y1="1424.9" x2="211.1" y2="1424.9" stroke="#0c0a09" stroke-width="1.9" stroke-linecap="butt"/>
<line x1="218.1" y1="1438.0" x2="211.1" y2="1438.0" stroke="#0c0a09" stroke-width="1.9" stroke-linecap="butt"/>
<line x1="218.1" y1="1451.0" x2="211.1" y2="1451.0" stroke="#0c0a09" stroke-width="1.9" stroke-linecap="butt"/>
<line x1="218.1" y1="1464.0" x2="211.1" y2="1464.0" stroke="#0c0a09" stroke-width="1.9" stroke-linecap="butt"/>
<line x1="218.1" y1="1477.1" x2="211.1" y2="1477.1" stroke="#0c0a09" stroke-width="1.9" stroke-linecap="butt"/>
<line x1="218.1" y1="1490.1" x2="211.1" y2="1490.1" stroke="#0c0a09" stroke-width="1.9" stroke-linecap="butt"/>
<line x1="218.1" y1="1503.2" x2="211.1" y2="1503.2" stroke="#0c0a09" stroke-width="1.9" stroke-linecap="butt"/>
<line x1="218.1" y1="1516.2" x2="211.1" y2="1516.2" stroke="#0c0a09" stroke-width="1.9" stroke-linecap="butt"/>
<line x1="218.1" y1="1529.2" x2="211.1" y2="1529.2" stroke="#0c0a09" stroke-width="1.9" stroke-linecap="butt"/>
<line x1="218.1" y1="1542.3" x2="211.1" y2="1542.3" stroke="#0c0a09" stroke-width="1.9" stroke-linecap="butt"/>
<line x1="218.1" y1="1555.3" x2="211.1" y2="1555.3" stroke="#0c0a09" stroke-width="1.9" stroke-linecap="butt"/>
<line x1="218.1" y1="1568.3" x2="211.1" y2="1568.3" stroke="#0c0a09" stroke-width="1.9" stroke-linecap="butt"/>
<line x1="218.1" y1="1581.4" x2="211.1" y2="1581.4" stroke="#0c0a09" stroke-width="1.9" stroke-linecap="butt"/>
<line x1="218.1" y1="1594.4" x2="211.1" y2="1594.4" stroke="#0c0a09" stroke-width="1.9" stroke-linecap="butt"/>
<line x1="218.1" y1="1607.5" x2="211.1" y2="1607.5" stroke="#0c0a09" stroke-width="1.9" stroke-linecap="butt"/>
<line x1="218.1" y1="1620.5" x2="211.1" y2="1620.5" stroke="#0c0a09" stroke-width="1.9" stroke-linecap="butt"/>
<line x1="218.1" y1="1633.5" x2="211.1" y2="1633.5" stroke="#0c0a09" stroke-width="1.9" stroke-linecap="butt"/>
<line x1="218.1" y1="1646.6" x2="211.1" y2="1646.6" stroke="#0c0a09" stroke-width="1.9" stroke-linecap="butt"/>
<line x1="218.1" y1="1659.6" x2="211.1" y2="1659.6" stroke="#0c0a09" stroke-width="1.9" stroke-linecap="butt"/>
<text x="223.1" y="1695.5" font-size="28.5" text-anchor="middle" font-weight="normal" fill="#0e0c0b" stroke="#0e0c0b" stroke-width="0.34" >3.7</text>
<text x="327.6" y="1695.5" font-size="28.5" text-anchor="middle" font-weight="normal" fill="#0e0c0b" stroke="#0e0c0b" stroke-width="0.34" >3.6</text>
<text x="432.2" y="1695.5" font-size="28.5" text-anchor="middle" font-weight="normal" fill="#0e0c0b" stroke="#0e0c0b" stroke-width="0.34" >3.5</text>
<text x="536.7" y="1695.5" font-size="28.5" text-anchor="middle" font-weight="normal" fill="#0e0c0b" stroke="#0e0c0b" stroke-width="0.34" >3.4</text>
<text x="641.2" y="1695.5" font-size="28.5" text-anchor="middle" font-weight="normal" fill="#0e0c0b" stroke="#0e0c0b" stroke-width="0.34" >3.3</text>
<text x="203.6" y="1353.4" font-size="28.5" text-anchor="end" font-weight="normal" fill="#0e0c0b" stroke="#0e0c0b" stroke-width="0.34" >62.0</text>
<text x="203.6" y="1457.7" font-size="28.5" text-anchor="end" font-weight="normal" fill="#0e0c0b" stroke="#0e0c0b" stroke-width="0.34" >62.4</text>
<text x="203.6" y="1562.0" font-size="28.5" text-anchor="end" font-weight="normal" fill="#0e0c0b" stroke="#0e0c0b" stroke-width="0.34" >62.8</text>
<text x="203.6" y="1666.3" font-size="28.5" text-anchor="end" font-weight="normal" fill="#0e0c0b" stroke="#0e0c0b" stroke-width="0.34" >63.2</text>
<text x="233.6" y="1359.7" font-size="35.5" text-anchor="start" font-weight="bold" fill="#0c0a09" stroke="#0c0a09" stroke-width="0.28" textLength="136.4" lengthAdjust="spacingAndGlyphs" >K20me0</text>
<text x="233.6" y="1392.6" font-size="35.5" text-anchor="start" font-weight="bold" fill="#0c0a09" stroke="#0c0a09" stroke-width="0.28" textLength="91.3" lengthAdjust="spacingAndGlyphs" >V21<tspan font-family="Liberation Serif" font-weight="normal" font-size="1.3em">α</tspan></text>
<rect x="840.5" y="1320.5" width="418.1" height="340.1" fill="none" stroke="#0c0a09" stroke-width="2"/>
<line x1="840.5" y1="1660.6" x2="840.5" y2="1668.1" stroke="#0c0a09" stroke-width="1.9" stroke-linecap="butt"/>
<line x1="861.4" y1="1660.6" x2="861.4" y2="1668.1" stroke="#0c0a09" stroke-width="1.9" stroke-linecap="butt"/>
<line x1="882.3" y1="1660.6" x2="882.3" y2="1668.1" stroke="#0c0a09" stroke-width="1.9" stroke-linecap="butt"/>
<line x1="903.2" y1="1660.6" x2="903.2" y2="1668.1" stroke="#0c0a09" stroke-width="1.9" stroke-linecap="butt"/>
<line x1="924.1" y1="1660.6" x2="924.1" y2="1668.1" stroke="#0c0a09" stroke-width="1.9" stroke-linecap="butt"/>
<line x1="945.0" y1="1660.6" x2="945.0" y2="1668.1" stroke="#0c0a09" stroke-width="1.9" stroke-linecap="butt"/>
<line x1="965.9" y1="1660.6" x2="965.9" y2="1668.1" stroke="#0c0a09" stroke-width="1.9" stroke-linecap="butt"/>
<line x1="986.8" y1="1660.6" x2="986.8" y2="1668.1" stroke="#0c0a09" stroke-width="1.9" stroke-linecap="butt"/>
<line x1="1007.7" y1="1660.6" x2="1007.7" y2="1668.1" stroke="#0c0a09" stroke-width="1.9" stroke-linecap="butt"/>
<line x1="1028.6" y1="1660.6" x2="1028.6" y2="1668.1" stroke="#0c0a09" stroke-width="1.9" stroke-linecap="butt"/>
<line x1="1049.6" y1="1660.6" x2="1049.6" y2="1668.1" stroke="#0c0a09" stroke-width="1.9" stroke-linecap="butt"/>
<line x1="1070.5" y1="1660.6" x2="1070.5" y2="1668.1" stroke="#0c0a09" stroke-width="1.9" stroke-linecap="butt"/>
<line x1="1091.4" y1="1660.6" x2="1091.4" y2="1668.1" stroke="#0c0a09" stroke-width="1.9" stroke-linecap="butt"/>
<line x1="1112.3" y1="1660.6" x2="1112.3" y2="1668.1" stroke="#0c0a09" stroke-width="1.9" stroke-linecap="butt"/>
<line x1="1133.2" y1="1660.6" x2="1133.2" y2="1668.1" stroke="#0c0a09" stroke-width="1.9" stroke-linecap="butt"/>
<line x1="1154.1" y1="1660.6" x2="1154.1" y2="1668.1" stroke="#0c0a09" stroke-width="1.9" stroke-linecap="butt"/>
<line x1="1175.0" y1="1660.6" x2="1175.0" y2="1668.1" stroke="#0c0a09" stroke-width="1.9" stroke-linecap="butt"/>
<line x1="1195.9" y1="1660.6" x2="1195.9" y2="1668.1" stroke="#0c0a09" stroke-width="1.9" stroke-linecap="butt"/>
<line x1="1216.8" y1="1660.6" x2="1216.8" y2="1668.1" stroke="#0c0a09" stroke-width="1.9" stroke-linecap="butt"/>
<line x1="1237.7" y1="1660.6" x2="1237.7" y2="1668.1" stroke="#0c0a09" stroke-width="1.9" stroke-linecap="butt"/>
<line x1="1258.6" y1="1660.6" x2="1258.6" y2="1668.1" stroke="#0c0a09" stroke-width="1.9" stroke-linecap="butt"/>
<line x1="840.5" y1="1333.7" x2="833.5" y2="1333.7" stroke="#0c0a09" stroke-width="1.9" stroke-linecap="butt"/>
<line x1="840.5" y1="1346.7" x2="833.5" y2="1346.7" stroke="#0c0a09" stroke-width="1.9" stroke-linecap="butt"/>
<line x1="840.5" y1="1359.7" x2="833.5" y2="1359.7" stroke="#0c0a09" stroke-width="1.9" stroke-linecap="butt"/>
<line x1="840.5" y1="1372.8" x2="833.5" y2="1372.8" stroke="#0c0a09" stroke-width="1.9" stroke-linecap="butt"/>
<line x1="840.5" y1="1385.8" x2="833.5" y2="1385.8" stroke="#0c0a09" stroke-width="1.9" stroke-linecap="butt"/>
<line x1="840.5" y1="1398.9" x2="833.5" y2="1398.9" stroke="#0c0a09" stroke-width="1.9" stroke-linecap="butt"/>
<line x1="840.5" y1="1411.9" x2="833.5" y2="1411.9" stroke="#0c0a09" stroke-width="1.9" stroke-linecap="butt"/>
<line x1="840.5" y1="1424.9" x2="833.5" y2="1424.9" stroke="#0c0a09" stroke-width="1.9" stroke-linecap="butt"/>
<line x1="840.5" y1="1438.0" x2="833.5" y2="1438.0" stroke="#0c0a09" stroke-width="1.9" stroke-linecap="butt"/>
<line x1="840.5" y1="1451.0" x2="833.5" y2="1451.0" stroke="#0c0a09" stroke-width="1.9" stroke-linecap="butt"/>
<line x1="840.5" y1="1464.0" x2="833.5" y2="1464.0" stroke="#0c0a09" stroke-width="1.9" stroke-linecap="butt"/>
<line x1="840.5" y1="1477.1" x2="833.5" y2="1477.1" stroke="#0c0a09" stroke-width="1.9" stroke-linecap="butt"/>
<line x1="840.5" y1="1490.1" x2="833.5" y2="1490.1" stroke="#0c0a09" stroke-width="1.9" stroke-linecap="butt"/>
<line x1="840.5" y1="1503.2" x2="833.5" y2="1503.2" stroke="#0c0a09" stroke-width="1.9" stroke-linecap="butt"/>
<line x1="840.5" y1="1516.2" x2="833.5" y2="1516.2" stroke="#0c0a09" stroke-width="1.9" stroke-linecap="butt"/>
<line x1="840.5" y1="1529.2" x2="833.5" y2="1529.2" stroke="#0c0a09" stroke-width="1.9" stroke-linecap="butt"/>
<line x1="840.5" y1="1542.3" x2="833.5" y2="1542.3" stroke="#0c0a09" stroke-width="1.9" stroke-linecap="butt"/>
<line x1="840.5" y1="1555.3" x2="833.5" y2="1555.3" stroke="#0c0a09" stroke-width="1.9" stroke-linecap="butt"/>
<line x1="840.5" y1="1568.3" x2="833.5" y2="1568.3" stroke="#0c0a09" stroke-width="1.9" stroke-linecap="butt"/>
<line x1="840.5" y1="1581.4" x2="833.5" y2="1581.4" stroke="#0c0a09" stroke-width="1.9" stroke-linecap="butt"/>
<line x1="840.5" y1="1594.4" x2="833.5" y2="1594.4" stroke="#0c0a09" stroke-width="1.9" stroke-linecap="butt"/>
<line x1="840.5" y1="1607.5" x2="833.5" y2="1607.5" stroke="#0c0a09" stroke-width="1.9" stroke-linecap="butt"/>
<line x1="840.5" y1="1620.5" x2="833.5" y2="1620.5" stroke="#0c0a09" stroke-width="1.9" stroke-linecap="butt"/>
<line x1="840.5" y1="1633.5" x2="833.5" y2="1633.5" stroke="#0c0a09" stroke-width="1.9" stroke-linecap="butt"/>
<line x1="840.5" y1="1646.6" x2="833.5" y2="1646.6" stroke="#0c0a09" stroke-width="1.9" stroke-linecap="butt"/>
<line x1="840.5" y1="1659.6" x2="833.5" y2="1659.6" stroke="#0c0a09" stroke-width="1.9" stroke-linecap="butt"/>
<text x="845.5" y="1695.5" font-size="28.5" text-anchor="middle" font-weight="normal" fill="#0e0c0b" stroke="#0e0c0b" stroke-width="0.34" >3.7</text>
<text x="950.0" y="1695.5" font-size="28.5" text-anchor="middle" font-weight="normal" fill="#0e0c0b" stroke="#0e0c0b" stroke-width="0.34" >3.6</text>
<text x="1054.6" y="1695.5" font-size="28.5" text-anchor="middle" font-weight="normal" fill="#0e0c0b" stroke="#0e0c0b" stroke-width="0.34" >3.5</text>
<text x="1159.1" y="1695.5" font-size="28.5" text-anchor="middle" font-weight="normal" fill="#0e0c0b" stroke="#0e0c0b" stroke-width="0.34" >3.4</text>
<text x="1263.6" y="1695.5" font-size="28.5" text-anchor="middle" font-weight="normal" fill="#0e0c0b" stroke="#0e0c0b" stroke-width="0.34" >3.3</text>
<text x="826.0" y="1353.4" font-size="28.5" text-anchor="end" font-weight="normal" fill="#0e0c0b" stroke="#0e0c0b" stroke-width="0.34" >62.0</text>
<text x="826.0" y="1457.7" font-size="28.5" text-anchor="end" font-weight="normal" fill="#0e0c0b" stroke="#0e0c0b" stroke-width="0.34" >62.4</text>
<text x="826.0" y="1562.0" font-size="28.5" text-anchor="end" font-weight="normal" fill="#0e0c0b" stroke="#0e0c0b" stroke-width="0.34" >62.8</text>
<text x="826.0" y="1666.3" font-size="28.5" text-anchor="end" font-weight="normal" fill="#0e0c0b" stroke="#0e0c0b" stroke-width="0.34" >63.2</text>
<text x="850.8" y="1359.7" font-size="35.5" text-anchor="start" font-weight="bold" fill="#4450a9" stroke="#4450a9" stroke-width="0.28" textLength="136.4" lengthAdjust="spacingAndGlyphs" >K20me1</text>
<text x="850.8" y="1392.6" font-size="35.5" text-anchor="start" font-weight="bold" fill="#4450a9" stroke="#4450a9" stroke-width="0.28" textLength="91.3" lengthAdjust="spacingAndGlyphs" >V21<tspan font-family="Liberation Serif" font-weight="normal" font-size="1.3em">α</tspan></text>
<rect x="1472.4" y="1320.5" width="418.1" height="340.1" fill="none" stroke="#0c0a09" stroke-width="2"/>
<line x1="1472.4" y1="1660.6" x2="1472.4" y2="1668.1" stroke="#0c0a09" stroke-width="1.9" stroke-linecap="butt"/>
<line x1="1493.3" y1="1660.6" x2="1493.3" y2="1668.1" stroke="#0c0a09" stroke-width="1.9" stroke-linecap="butt"/>
<line x1="1514.2" y1="1660.6" x2="1514.2" y2="1668.1" stroke="#0c0a09" stroke-width="1.9" stroke-linecap="butt"/>
<line x1="1535.1" y1="1660.6" x2="1535.1" y2="1668.1" stroke="#0c0a09" stroke-width="1.9" stroke-linecap="butt"/>
<line x1="1556.0" y1="1660.6" x2="1556.0" y2="1668.1" stroke="#0c0a09" stroke-width="1.9" stroke-linecap="butt"/>
<line x1="1576.9" y1="1660.6" x2="1576.9" y2="1668.1" stroke="#0c0a09" stroke-width="1.9" stroke-linecap="butt"/>
<line x1="1597.8" y1="1660.6" x2="1597.8" y2="1668.1" stroke="#0c0a09" stroke-width="1.9" stroke-linecap="butt"/>
<line x1="1618.7" y1="1660.6" x2="1618.7" y2="1668.1" stroke="#0c0a09" stroke-width="1.9" stroke-linecap="butt"/>
<line x1="1639.6" y1="1660.6" x2="1639.6" y2="1668.1" stroke="#0c0a09" stroke-width="1.9" stroke-linecap="butt"/>
<line x1="1660.5" y1="1660.6" x2="1660.5" y2="1668.1" stroke="#0c0a09" stroke-width="1.9" stroke-linecap="butt"/>
<line x1="1681.5" y1="1660.6" x2="1681.5" y2="1668.1" stroke="#0c0a09" stroke-width="1.9" stroke-linecap="butt"/>
<line x1="1702.4" y1="1660.6" x2="1702.4" y2="1668.1" stroke="#0c0a09" stroke-width="1.9" stroke-linecap="butt"/>
<line x1="1723.3" y1="1660.6" x2="1723.3" y2="1668.1" stroke="#0c0a09" stroke-width="1.9" stroke-linecap="butt"/>
<line x1="1744.2" y1="1660.6" x2="1744.2" y2="1668.1" stroke="#0c0a09" stroke-width="1.9" stroke-linecap="butt"/>
<line x1="1765.1" y1="1660.6" x2="1765.1" y2="1668.1" stroke="#0c0a09" stroke-width="1.9" stroke-linecap="butt"/>
<line x1="1786.0" y1="1660.6" x2="1786.0" y2="1668.1" stroke="#0c0a09" stroke-width="1.9" stroke-linecap="butt"/>
<line x1="1806.9" y1="1660.6" x2="1806.9" y2="1668.1" stroke="#0c0a09" stroke-width="1.9" stroke-linecap="butt"/>
<line x1="1827.8" y1="1660.6" x2="1827.8" y2="1668.1" stroke="#0c0a09" stroke-width="1.9" stroke-linecap="butt"/>
<line x1="1848.7" y1="1660.6" x2="1848.7" y2="1668.1" stroke="#0c0a09" stroke-width="1.9" stroke-linecap="butt"/>
<line x1="1869.6" y1="1660.6" x2="1869.6" y2="1668.1" stroke="#0c0a09" stroke-width="1.9" stroke-linecap="butt"/>
<line x1="1890.5" y1="1660.6" x2="1890.5" y2="1668.1" stroke="#0c0a09" stroke-width="1.9" stroke-linecap="butt"/>
<line x1="1472.4" y1="1333.7" x2="1465.4" y2="1333.7" stroke="#0c0a09" stroke-width="1.9" stroke-linecap="butt"/>
<line x1="1472.4" y1="1346.7" x2="1465.4" y2="1346.7" stroke="#0c0a09" stroke-width="1.9" stroke-linecap="butt"/>
<line x1="1472.4" y1="1359.7" x2="1465.4" y2="1359.7" stroke="#0c0a09" stroke-width="1.9" stroke-linecap="butt"/>
<line x1="1472.4" y1="1372.8" x2="1465.4" y2="1372.8" stroke="#0c0a09" stroke-width="1.9" stroke-linecap="butt"/>
<line x1="1472.4" y1="1385.8" x2="1465.4" y2="1385.8" stroke="#0c0a09" stroke-width="1.9" stroke-linecap="butt"/>
<line x1="1472.4" y1="1398.9" x2="1465.4" y2="1398.9" stroke="#0c0a09" stroke-width="1.9" stroke-linecap="butt"/>
<line x1="1472.4" y1="1411.9" x2="1465.4" y2="1411.9" stroke="#0c0a09" stroke-width="1.9" stroke-linecap="butt"/>
<line x1="1472.4" y1="1424.9" x2="1465.4" y2="1424.9" stroke="#0c0a09" stroke-width="1.9" stroke-linecap="butt"/>
<line x1="1472.4" y1="1438.0" x2="1465.4" y2="1438.0" stroke="#0c0a09" stroke-width="1.9" stroke-linecap="butt"/>
<line x1="1472.4" y1="1451.0" x2="1465.4" y2="1451.0" stroke="#0c0a09" stroke-width="1.9" stroke-linecap="butt"/>
<line x1="1472.4" y1="1464.0" x2="1465.4" y2="1464.0" stroke="#0c0a09" stroke-width="1.9" stroke-linecap="butt"/>
<line x1="1472.4" y1="1477.1" x2="1465.4" y2="1477.1" stroke="#0c0a09" stroke-width="1.9" stroke-linecap="butt"/>
<line x1="1472.4" y1="1490.1" x2="1465.4" y2="1490.1" stroke="#0c0a09" stroke-width="1.9" stroke-linecap="butt"/>
<line x1="1472.4" y1="1503.2" x2="1465.4" y2="1503.2" stroke="#0c0a09" stroke-width="1.9" stroke-linecap="butt"/>
<line x1="1472.4" y1="1516.2" x2="1465.4" y2="1516.2" stroke="#0c0a09" stroke-width="1.9" stroke-linecap="butt"/>
<line x1="1472.4" y1="1529.2" x2="1465.4" y2="1529.2" stroke="#0c0a09" stroke-width="1.9" stroke-linecap="butt"/>
<line x1="1472.4" y1="1542.3" x2="1465.4" y2="1542.3" stroke="#0c0a09" stroke-width="1.9" stroke-linecap="butt"/>
<line x1="1472.4" y1="1555.3" x2="1465.4" y2="1555.3" stroke="#0c0a09" stroke-width="1.9" stroke-linecap="butt"/>
<line x1="1472.4" y1="1568.3" x2="1465.4" y2="1568.3" stroke="#0c0a09" stroke-width="1.9" stroke-linecap="butt"/>
<line x1="1472.4" y1="1581.4" x2="1465.4" y2="1581.4" stroke="#0c0a09" stroke-width="1.9" stroke-linecap="butt"/>
<line x1="1472.4" y1="1594.4" x2="1465.4" y2="1594.4" stroke="#0c0a09" stroke-width="1.9" stroke-linecap="butt"/>
<line x1="1472.4" y1="1607.5" x2="1465.4" y2="1607.5" stroke="#0c0a09" stroke-width="1.9" stroke-linecap="butt"/>
<line x1="1472.4" y1="1620.5" x2="1465.4" y2="1620.5" stroke="#0c0a09" stroke-width="1.9" stroke-linecap="butt"/>
<line x1="1472.4" y1="1633.5" x2="1465.4" y2="1633.5" stroke="#0c0a09" stroke-width="1.9" stroke-linecap="butt"/>
<line x1="1472.4" y1="1646.6" x2="1465.4" y2="1646.6" stroke="#0c0a09" stroke-width="1.9" stroke-linecap="butt"/>
<line x1="1472.4" y1="1659.6" x2="1465.4" y2="1659.6" stroke="#0c0a09" stroke-width="1.9" stroke-linecap="butt"/>
<text x="1477.4" y="1695.5" font-size="28.5" text-anchor="middle" font-weight="normal" fill="#0e0c0b" stroke="#0e0c0b" stroke-width="0.34" >3.7</text>
<text x="1581.9" y="1695.5" font-size="28.5" text-anchor="middle" font-weight="normal" fill="#0e0c0b" stroke="#0e0c0b" stroke-width="0.34" >3.6</text>
<text x="1686.5" y="1695.5" font-size="28.5" text-anchor="middle" font-weight="normal" fill="#0e0c0b" stroke="#0e0c0b" stroke-width="0.34" >3.5</text>
<text x="1791.0" y="1695.5" font-size="28.5" text-anchor="middle" font-weight="normal" fill="#0e0c0b" stroke="#0e0c0b" stroke-width="0.34" >3.4</text>
<text x="1895.5" y="1695.5" font-size="28.5" text-anchor="middle" font-weight="normal" fill="#0e0c0b" stroke="#0e0c0b" stroke-width="0.34" >3.3</text>
<text x="1457.9" y="1353.4" font-size="28.5" text-anchor="end" font-weight="normal" fill="#0e0c0b" stroke="#0e0c0b" stroke-width="0.34" >62.0</text>
<text x="1457.9" y="1457.7" font-size="28.5" text-anchor="end" font-weight="normal" fill="#0e0c0b" stroke="#0e0c0b" stroke-width="0.34" >62.4</text>
<text x="1457.9" y="1562.0" font-size="28.5" text-anchor="end" font-weight="normal" fill="#0e0c0b" stroke="#0e0c0b" stroke-width="0.34" >62.8</text>
<text x="1457.9" y="1666.3" font-size="28.5" text-anchor="end" font-weight="normal" fill="#0e0c0b" stroke="#0e0c0b" stroke-width="0.34" >63.2</text>
<text x="1488.7" y="1359.7" font-size="35.5" text-anchor="start" font-weight="bold" fill="#dc2a1c" stroke="#dc2a1c" stroke-width="0.28" textLength="136.4" lengthAdjust="spacingAndGlyphs" >K20me3</text>
<text x="1488.7" y="1392.6" font-size="35.5" text-anchor="start" font-weight="bold" fill="#dc2a1c" stroke="#dc2a1c" stroke-width="0.28" textLength="91.3" lengthAdjust="spacingAndGlyphs" >V21<tspan font-family="Liberation Serif" font-weight="normal" font-size="1.3em">α</tspan></text>
<line x1="226.4" y1="1725.4" x2="1893.5" y2="1725.4" stroke="#0c0a09" stroke-width="2.4" stroke-linecap="butt"/>
<text x="879.5" y="1762.5" font-size="20" text-anchor="start" font-weight="normal" fill="#0e0c0b" stroke="#0e0c0b" stroke-width="0.24" >1</text>
<text x="890.6" y="1774.0" font-size="36" text-anchor="start" font-weight="normal" fill="#0e0c0b" stroke="#0e0c0b" stroke-width="0.43" textLength="362.3" lengthAdjust="spacingAndGlyphs" >H Chemical Shift (ppm)</text>
<g transform="translate(129.6,1693.0) rotate(-90)">
<text x="-0.5" y="-12.0" font-size="21" text-anchor="start" font-weight="normal" fill="#0e0c0b" stroke="#0e0c0b" stroke-width="0.25" >13</text>
<text x="21.5" y="0.0" font-size="37" text-anchor="start" font-weight="normal" fill="#0e0c0b" stroke="#0e0c0b" stroke-width="0.44" textLength="363.5" lengthAdjust="spacingAndGlyphs" >C Chemical Shift (ppm)</text>
</g>
<path d="M373.4,1394.0 L396.5,1382.5 L420.6,1380.7 L441.4,1380.5 L465.0,1384.2 L480.0,1394.6 L487.5,1411.8 L490.9,1430.3 L490.3,1463.7 L484.0,1475.2 L466.7,1489.0 L441.4,1494.2 L424.1,1498.2 L395.3,1495.7 L373.4,1490.5 L361.9,1479.8 L357.3,1462.5 L357.1,1431.4 L360.7,1411.8 Z M397.6,1399.2 L420.6,1392.8 L441.4,1393.4 L462.1,1403.2 L473.6,1414.1 L478.2,1429.1 L477.7,1447.6 L474.8,1462.5 L464.4,1477.5 L441.4,1487.9 L420.6,1486.7 L390.7,1480.4 L375.7,1462.5 L373.4,1445.3 L374.6,1429.1 L380.9,1413.0 Z" fill="#0c0a09" fill-rule="evenodd" stroke="#0c0a09" stroke-width="1.2" stroke-linejoin="round"/>
<path d="M482.8,1439.5 L482.7,1443.4 L482.6,1447.3 L482.2,1451.3 L481.8,1455.3 L481.3,1459.3 L480.2,1463.2 L478.4,1466.8 L476.3,1470.3 L473.6,1473.3 L470.9,1476.3 L468.3,1479.2 L465.0,1481.6 L461.6,1483.5 L457.7,1484.8 L454.1,1486.1 L450.5,1487.3 L447.1,1488.4 L443.7,1489.6 L440.2,1490.2 L436.6,1490.4 L433.1,1490.6 L429.7,1490.8 L426.3,1491.1 L422.9,1491.1 L419.6,1490.8 L416.3,1490.3 L412.9,1489.8 L409.6,1489.3 L406.2,1488.7 L402.8,1488.2 L399.2,1487.6 L395.6,1486.8 L391.9,1486.0 L387.9,1485.1 L384.5,1483.3 L381.4,1481.1 L378.7,1478.3 L376.1,1475.4 L373.4,1472.6 L371.5,1469.2 L369.6,1465.8 L368.8,1461.9 L368.2,1458.1 L367.9,1454.3 L367.6,1450.5 L367.3,1446.8 L367.3,1443.1 L367.5,1439.5 L367.6,1435.9 L367.8,1432.2 L368.2,1428.6 L369.1,1425.1 L370.2,1421.6 L371.2,1418.1 L372.7,1414.7 L374.4,1411.5 L376.4,1408.4 L379.0,1405.8 L381.5,1403.1 L384.4,1400.9 L387.4,1398.9 L390.3,1396.9 L393.2,1395.0 L396.4,1393.5 L399.7,1392.3 L403.0,1391.4 L406.4,1390.8 L409.7,1390.2 L413.0,1389.6 L416.3,1389.0 L419.6,1388.4 L422.9,1388.3 L426.3,1388.3 L429.7,1388.3 L433.1,1388.4 L436.6,1388.4 L440.2,1388.5 L443.9,1389.0 L447.3,1390.1 L450.8,1391.2 L454.4,1392.4 L458.2,1393.6 L461.5,1395.5 L465.0,1397.5 L468.3,1399.7 L471.3,1402.4 L473.7,1405.6 L476.0,1408.8 L478.4,1412.2 L479.7,1416.0 L480.7,1419.9 L481.7,1423.8 L482.7,1427.6 L483.0,1431.6 L482.9,1435.6 Z" fill="none" stroke="#fff" stroke-width="0.5" stroke-linejoin="round" />
<path d="M491.8,1479.8 L510.5,1495.9 L520.3,1514.4 L522.0,1532.8 L519.1,1553.5 L510.5,1567.4 L488.6,1576.6 L464.4,1576.6 L441.4,1573.1 L431.0,1565.1 L425.8,1548.9 L431.0,1532.8 L440.2,1514.4 L424.1,1498.2 L441.4,1494.2 L466.7,1489.0 L484.0,1475.2 L490.3,1463.7 Z" fill="none" stroke="#0c0a09" stroke-width="4.5" stroke-linejoin="round" />
<path d="M520.0,1534.0 L519.6,1537.1 L519.2,1540.1 L518.8,1543.2 L518.3,1546.2 L517.9,1549.4 L517.4,1552.6 L515.9,1555.4 L514.2,1558.0 L512.5,1560.7 L510.7,1563.3 L509.0,1566.0 L505.9,1567.3 L502.9,1568.6 L500.1,1569.9 L497.3,1571.1 L494.6,1572.2 L491.9,1573.3 L489.2,1574.3 L486.4,1574.8 L483.4,1574.8 L480.6,1574.9 L477.9,1574.9 L475.2,1574.9 L472.5,1574.9 L469.8,1574.9 L467.1,1574.9 L464.3,1574.9 L461.6,1574.5 L458.9,1574.1 L456.1,1573.6 L453.2,1573.2 L450.1,1572.7 L447.0,1572.2 L443.6,1571.6 L440.8,1570.1 L438.3,1568.2 L435.7,1566.2 L433.0,1564.3 L431.6,1561.3 L430.6,1558.1 L429.6,1555.1 L428.6,1552.1 L427.6,1549.2 L428.1,1545.9 L429.0,1542.6 L429.9,1539.6 L430.8,1536.7 L431.7,1534.0 L432.8,1531.4 L434.1,1528.9 L435.2,1526.5 L436.3,1524.3 L437.4,1522.1 L438.5,1519.9 L439.7,1517.8 L440.8,1515.7 L435.9,1509.5 L428.1,1499.9 L432.4,1498.8 L436.4,1497.8 L440.0,1496.9 L443.4,1496.0 L446.6,1495.3 L449.7,1494.6 L452.7,1493.9 L455.6,1493.2 L458.4,1492.5 L461.2,1491.9 L464.0,1491.3 L466.8,1490.8 L469.5,1488.9 L472.5,1486.7 L475.8,1484.2 L479.4,1481.4 L483.6,1478.0 L489.5,1470.5 L490.6,1480.5 L493.1,1484.3 L495.9,1486.6 L498.6,1488.8 L501.2,1491.1 L503.7,1493.3 L506.2,1495.5 L508.7,1497.7 L510.4,1500.8 L512.0,1503.7 L513.5,1506.6 L515.0,1509.4 L516.5,1512.2 L518.0,1515.1 L518.5,1518.4 L518.8,1521.5 L519.2,1524.7 L519.6,1527.8 L519.9,1530.9 Z" fill="none" stroke="#0c0a09" stroke-width="1.5" stroke-linejoin="round" />
<path d="M518.2,1534.0 L517.8,1536.9 L517.4,1539.9 L517.0,1542.8 L516.5,1545.8 L516.1,1548.8 L515.7,1551.9 L514.3,1554.6 L512.6,1557.1 L510.9,1559.6 L509.1,1562.1 L507.4,1564.6 L504.5,1565.9 L501.7,1567.2 L499.0,1568.5 L496.3,1569.7 L493.7,1570.6 L491.1,1571.6 L488.5,1572.6 L485.8,1573.1 L483.0,1573.1 L480.3,1573.1 L477.6,1573.2 L475.1,1573.2 L472.5,1573.2 L469.9,1573.3 L467.3,1573.3 L464.7,1573.3 L462.0,1573.0 L459.4,1572.5 L456.7,1572.0 L454.0,1571.5 L451.1,1571.0 L448.1,1570.5 L444.9,1570.0 L442.2,1568.5 L439.7,1566.8 L437.1,1565.0 L434.5,1563.1 L433.1,1560.2 L432.1,1557.3 L431.1,1554.4 L430.1,1551.5 L429.2,1548.7 L429.5,1545.5 L430.1,1542.4 L431.0,1539.4 L431.9,1536.6 L432.8,1534.0 L433.9,1531.4 L435.1,1529.0 L436.2,1526.7 L437.3,1524.5 L438.3,1522.4 L439.4,1520.3 L440.6,1518.2 L441.7,1516.2 L437.5,1510.6 L430.8,1502.0 L434.7,1500.9 L438.4,1499.8 L441.7,1498.9 L444.9,1498.0 L447.9,1497.2 L450.8,1496.4 L453.6,1495.6 L456.3,1494.9 L459.0,1494.1 L461.6,1493.5 L464.3,1493.0 L467.0,1492.6 L469.7,1490.8 L472.5,1488.9 L475.6,1486.7 L479.0,1484.3 L483.0,1481.2 L488.4,1474.5 L489.6,1483.5 L492.0,1486.9 L494.7,1488.9 L497.4,1490.9 L499.8,1493.1 L502.2,1495.3 L504.6,1497.4 L506.9,1499.5 L508.5,1502.4 L510.1,1505.1 L511.6,1507.8 L513.0,1510.5 L514.5,1513.3 L515.9,1516.0 L516.4,1519.1 L516.8,1522.1 L517.2,1525.1 L517.6,1528.0 L518.0,1531.0 Z" fill="none" stroke="#0c0a09" stroke-width="1.5" stroke-linejoin="round" />
<path d="M516.0,1534.0 L515.6,1536.8 L515.2,1539.6 L514.8,1542.4 L514.4,1545.2 L514.0,1548.1 L513.6,1551.0 L512.4,1553.6 L510.7,1556.0 L509.0,1558.3 L507.2,1560.6 L505.5,1562.9 L502.8,1564.3 L500.2,1565.5 L497.6,1566.7 L495.2,1567.9 L492.6,1568.8 L490.1,1569.7 L487.6,1570.5 L485.0,1570.9 L482.4,1571.0 L479.9,1571.0 L477.4,1571.1 L474.9,1571.2 L472.5,1571.2 L470.0,1571.3 L467.6,1571.3 L465.1,1571.3 L462.5,1571.1 L460.1,1570.6 L457.5,1570.1 L454.9,1569.6 L452.2,1569.1 L449.4,1568.5 L446.4,1568.0 L443.8,1566.6 L441.4,1565.0 L438.9,1563.4 L436.3,1561.7 L435.0,1559.0 L434.0,1556.2 L433.0,1553.5 L432.0,1550.7 L431.0,1548.0 L431.1,1545.1 L431.5,1542.1 L432.3,1539.3 L433.2,1536.5 L434.1,1534.0 L435.2,1531.5 L436.3,1529.2 L437.4,1527.0 L438.4,1524.8 L439.4,1522.7 L440.5,1520.7 L441.7,1518.8 L442.9,1516.9 L439.5,1511.9 L433.9,1504.4 L437.5,1503.3 L440.8,1502.2 L443.8,1501.2 L446.7,1500.3 L449.4,1499.5 L452.1,1498.6 L454.6,1497.8 L457.2,1496.9 L459.6,1496.1 L462.2,1495.4 L464.7,1495.0 L467.3,1494.7 L469.8,1493.2 L472.5,1491.6 L475.4,1489.7 L478.6,1487.6 L482.2,1485.1 L487.1,1479.4 L488.4,1487.0 L490.7,1489.9 L493.3,1491.7 L495.9,1493.4 L498.2,1495.5 L500.4,1497.6 L502.6,1499.6 L504.8,1501.7 L506.3,1504.3 L507.8,1506.9 L509.2,1509.4 L510.6,1511.9 L512.0,1514.5 L513.3,1517.1 L513.8,1519.9 L514.3,1522.8 L514.7,1525.6 L515.2,1528.3 L515.7,1531.1 Z" fill="none" stroke="#0c0a09" stroke-width="1.5" stroke-linejoin="round" />
<path d="M513.6,1534.0 L513.3,1536.6 L512.9,1539.3 L512.5,1541.9 L512.1,1544.6 L511.7,1547.3 L511.3,1550.1 L510.3,1552.6 L508.7,1554.9 L506.9,1557.0 L505.2,1559.1 L503.5,1561.2 L501.0,1562.4 L498.6,1563.7 L496.2,1564.9 L493.9,1566.1 L491.5,1566.8 L489.0,1567.5 L486.7,1568.3 L484.3,1568.6 L481.8,1568.7 L479.4,1568.8 L477.1,1568.9 L474.8,1568.9 L472.5,1569.0 L470.2,1569.1 L467.9,1569.2 L465.5,1569.2 L463.1,1569.0 L460.8,1568.5 L458.4,1568.0 L455.9,1567.5 L453.4,1567.0 L450.8,1566.4 L448.0,1565.8 L445.6,1564.6 L443.3,1563.2 L440.8,1561.7 L438.3,1560.2 L436.9,1557.7 L435.9,1555.1 L435.0,1552.5 L434.0,1549.9 L433.0,1547.4 L432.9,1544.6 L433.0,1541.8 L433.7,1539.1 L434.7,1536.4 L435.6,1534.0 L436.6,1531.6 L437.6,1529.4 L438.6,1527.2 L439.6,1525.2 L440.6,1523.1 L441.6,1521.2 L442.9,1519.4 L444.1,1517.6 L441.6,1513.3 L437.4,1507.0 L440.5,1505.9 L443.3,1504.8 L446.0,1503.8 L448.6,1502.8 L451.1,1501.9 L453.5,1501.0 L455.8,1500.1 L458.1,1499.2 L460.4,1498.2 L462.7,1497.5 L465.2,1497.2 L467.6,1496.9 L470.0,1495.8 L472.5,1494.5 L475.2,1493.0 L478.1,1491.3 L481.4,1489.2 L485.7,1484.7 L487.1,1490.9 L489.4,1493.2 L491.9,1494.7 L494.3,1496.1 L496.4,1498.2 L498.4,1500.1 L500.4,1502.1 L502.4,1504.0 L503.9,1506.4 L505.3,1508.8 L506.7,1511.1 L508.0,1513.4 L509.3,1515.8 L510.5,1518.2 L511.1,1520.9 L511.6,1523.5 L512.1,1526.1 L512.7,1528.7 L513.2,1531.3 Z" fill="none" stroke="#0c0a09" stroke-width="1.5" stroke-linejoin="round" />
<path d="M510.9,1534.0 L510.5,1536.5 L510.2,1538.9 L509.8,1541.4 L509.5,1543.9 L509.1,1546.4 L508.7,1549.0 L507.8,1551.4 L506.3,1553.5 L504.6,1555.4 L502.8,1557.2 L501.1,1559.1 L498.9,1560.4 L496.7,1561.6 L494.6,1562.7 L492.5,1563.9 L490.1,1564.5 L487.8,1565.1 L485.6,1565.7 L483.4,1566.0 L481.1,1566.1 L478.9,1566.2 L476.7,1566.3 L474.6,1566.4 L472.5,1566.5 L470.3,1566.6 L468.2,1566.7 L466.0,1566.8 L463.7,1566.7 L461.6,1566.2 L459.4,1565.6 L457.1,1565.1 L454.8,1564.5 L452.5,1563.9 L449.9,1563.4 L447.6,1562.3 L445.4,1561.1 L443.1,1559.8 L440.6,1558.4 L439.2,1556.2 L438.2,1553.7 L437.2,1551.3 L436.3,1549.0 L435.3,1546.6 L435.0,1544.0 L434.8,1541.5 L435.3,1538.9 L436.3,1536.3 L437.2,1534.0 L438.1,1531.7 L439.1,1529.6 L440.1,1527.5 L441.0,1525.5 L441.9,1523.6 L442.9,1521.7 L444.2,1520.0 L445.5,1518.4 L444.1,1515.0 L441.3,1510.0 L443.9,1508.9 L446.3,1507.8 L448.6,1506.8 L450.8,1505.7 L453.0,1504.7 L455.1,1503.8 L457.1,1502.8 L459.1,1501.7 L461.2,1500.7 L463.4,1499.9 L465.7,1499.7 L468.0,1499.5 L470.2,1498.7 L472.5,1497.8 L474.9,1496.8 L477.5,1495.6 L480.4,1494.1 L484.1,1490.8 L485.6,1495.3 L487.8,1497.1 L490.2,1498.1 L492.5,1499.3 L494.4,1501.2 L496.2,1503.1 L498.0,1504.9 L499.8,1506.7 L501.1,1508.8 L502.5,1510.9 L503.8,1513.0 L505.0,1515.2 L506.1,1517.4 L507.2,1519.6 L507.9,1522.0 L508.5,1524.3 L509.1,1526.7 L509.7,1529.1 L510.3,1531.5 Z" fill="none" stroke="#0c0a09" stroke-width="1.5" stroke-linejoin="round" />
<path d="M507.6,1534.0 L507.3,1536.2 L506.9,1538.5 L506.6,1540.7 L506.3,1543.0 L505.9,1545.3 L505.6,1547.7 L504.9,1550.0 L503.5,1551.9 L501.7,1553.5 L500.0,1555.1 L498.3,1556.6 L496.4,1557.8 L494.5,1559.0 L492.6,1560.2 L490.8,1561.3 L488.5,1561.7 L486.4,1562.1 L484.3,1562.5 L482.3,1562.8 L480.3,1562.9 L478.3,1563.1 L476.3,1563.2 L474.4,1563.3 L472.5,1563.5 L470.5,1563.6 L468.6,1563.7 L466.5,1563.9 L464.5,1563.9 L462.5,1563.3 L460.6,1562.7 L458.6,1562.2 L456.5,1561.6 L454.4,1561.0 L452.2,1560.4 L450.1,1559.5 L448.0,1558.5 L445.7,1557.4 L443.3,1556.3 L441.9,1554.4 L441.0,1552.2 L440.0,1550.0 L439.0,1547.8 L438.1,1545.6 L437.5,1543.4 L436.9,1541.0 L437.3,1538.6 L438.3,1536.2 L439.1,1534.0 L440.1,1531.8 L441.0,1529.8 L441.8,1527.9 L442.7,1526.0 L443.5,1524.1 L444.5,1522.4 L445.9,1520.8 L447.2,1519.4 L447.0,1516.9 L446.0,1513.7 L448.0,1512.5 L449.9,1511.4 L451.7,1510.3 L453.5,1509.2 L455.2,1508.2 L457.0,1507.1 L458.7,1506.0 L460.4,1504.8 L462.2,1503.6 L464.1,1502.8 L466.3,1502.7 L468.4,1502.7 L470.4,1502.3 L472.5,1501.8 L474.6,1501.3 L476.9,1500.7 L479.3,1499.9 L482.1,1498.1 L483.8,1500.7 L485.9,1501.7 L488.1,1502.3 L490.3,1503.1 L491.9,1504.9 L493.5,1506.6 L495.0,1508.3 L496.5,1509.9 L497.8,1511.8 L499.1,1513.6 L500.3,1515.4 L501.4,1517.2 L502.4,1519.2 L503.4,1521.2 L504.1,1523.2 L504.7,1525.3 L505.4,1527.4 L506.2,1529.5 L506.9,1531.7 Z" fill="none" stroke="#0c0a09" stroke-width="1.5" stroke-linejoin="round" />
<path d="M464.4,1506.3 L487.5,1507.5 L496.7,1519.0 L503.6,1534.0 L501.3,1548.9 L488.6,1558.2 L465.6,1560.5 L446.0,1553.5 L439.1,1539.7 L446.0,1523.6 Z" fill="none" stroke="#0c0a09" stroke-width="1.6" stroke-linejoin="round" />
<path d="M464.4,1515.5 L488.0,1515.0 L493.2,1530.5 L488.6,1545.5 L465.6,1551.2 L458.7,1544.3 L456.4,1530.5 Z" fill="none" stroke="#0c0a09" stroke-width="1.6" stroke-linejoin="round" />
<path d="M463.8,1528.2 L484.0,1530.5 L465.0,1541.5 Z" fill="none" stroke="#0c0a09" stroke-width="1.6" stroke-linejoin="round" />
<line x1="441.4" y1="1487.9" x2="484.0" y2="1502.9" stroke="#0c0a09" stroke-width="1.4" stroke-linecap="butt"/>
<line x1="443.7" y1="1491.3" x2="464.4" y2="1502.9" stroke="#0c0a09" stroke-width="1.4" stroke-linecap="butt"/>
<line x1="462.1" y1="1475.2" x2="478.2" y2="1462.5" stroke="#0c0a09" stroke-width="1.4" stroke-linecap="butt"/>
<line x1="466.7" y1="1493.6" x2="478.2" y2="1463.7" stroke="#0c0a09" stroke-width="1.4" stroke-linecap="butt"/>
<line x1="456.4" y1="1513.2" x2="477.1" y2="1467.1" stroke="#0c0a09" stroke-width="1.4" stroke-linecap="butt"/>
<line x1="443.7" y1="1498.2" x2="450.6" y2="1512.1" stroke="#0c0a09" stroke-width="1.4" stroke-linecap="butt"/>
<line x1="452.3" y1="1498.2" x2="452.3" y2="1513.2" stroke="#0c0a09" stroke-width="1.4" stroke-linecap="butt"/>
<path d="M977.7,1411.8 L996.1,1395.3 L1018.9,1388.0 L1041.1,1387.1 L1065.2,1389.0 L1088.0,1400.4 L1097.5,1413.1 L1100.7,1430.8 L1102.6,1458.7 L1103.9,1484.1 L1105.8,1496.7 L1099.4,1504.3 L1068.4,1515.1 L1042.4,1510.7 L1019.6,1506.9 L994.2,1500.5 L973.9,1481.5 L970.1,1461.3 L972.0,1437.2 Z M991.7,1428.3 L1005.6,1413.1 L1019.6,1405.5 L1041.1,1403.0 L1063.9,1408.0 L1074.1,1416.9 L1082.9,1430.8 L1084.8,1451.1 L1083.6,1466.3 L1078.5,1481.5 L1063.9,1492.3 L1041.1,1494.8 L1019.6,1492.3 L996.8,1480.3 L987.2,1465.1 L986.0,1446.0 Z" fill="#4450a9" fill-rule="evenodd" stroke="#4450a9" stroke-width="1.2" stroke-linejoin="round"/>
<path d="M1091.2,1448.6 L1091.4,1452.0 L1091.4,1455.5 L1091.3,1459.1 L1091.2,1462.7 L1091.1,1466.4 L1091.0,1470.3 L1090.4,1474.1 L1090.0,1478.3 L1089.7,1482.7 L1088.6,1487.0 L1086.1,1490.3 L1082.5,1492.5 L1078.8,1494.5 L1075.2,1496.4 L1071.7,1498.2 L1068.3,1500.0 L1064.4,1500.9 L1060.4,1501.3 L1056.4,1501.2 L1052.6,1501.1 L1049.0,1501.0 L1045.5,1500.9 L1042.0,1500.8 L1038.6,1500.4 L1035.2,1500.0 L1031.9,1499.5 L1028.5,1499.0 L1025.2,1498.6 L1021.8,1498.1 L1018.3,1497.5 L1015.0,1496.4 L1011.7,1495.1 L1008.4,1493.8 L1005.0,1492.4 L1001.5,1490.9 L998.4,1488.7 L995.3,1486.6 L992.0,1484.3 L989.5,1481.4 L987.0,1478.3 L984.7,1475.1 L983.3,1471.5 L981.8,1467.9 L981.0,1464.0 L980.6,1460.1 L980.5,1456.2 L980.5,1452.4 L980.4,1448.6 L980.7,1444.8 L981.4,1441.1 L982.3,1437.4 L983.3,1433.8 L984.3,1430.2 L985.3,1426.5 L987.0,1423.1 L988.8,1419.8 L991.2,1416.9 L993.9,1414.3 L996.5,1411.7 L999.1,1409.1 L1001.9,1406.7 L1005.0,1404.8 L1008.4,1403.4 L1011.6,1401.9 L1014.9,1400.5 L1018.2,1399.3 L1021.6,1398.6 L1025.1,1398.3 L1028.5,1398.0 L1031.9,1397.7 L1035.2,1397.4 L1038.6,1397.2 L1042.0,1397.0 L1045.3,1397.6 L1048.6,1398.1 L1052.0,1398.6 L1055.4,1399.1 L1058.8,1399.7 L1062.3,1400.6 L1065.6,1401.7 L1068.9,1403.3 L1071.8,1405.3 L1074.8,1407.3 L1077.8,1409.4 L1080.3,1412.0 L1082.4,1415.0 L1084.4,1417.9 L1086.3,1421.0 L1087.6,1424.4 L1089.0,1427.7 L1089.6,1431.3 L1090.0,1434.8 L1090.3,1438.3 L1090.6,1441.7 L1090.9,1445.2 Z" fill="none" stroke="#fff" stroke-width="0.7" stroke-linejoin="round" />
<path d="M1088.9,1448.6 L1089.1,1451.9 L1089.0,1455.2 L1088.9,1458.6 L1088.8,1462.0 L1088.6,1465.6 L1088.3,1469.2 L1087.6,1472.8 L1087.0,1476.5 L1086.5,1480.6 L1085.3,1484.5 L1083.1,1487.6 L1079.8,1489.8 L1076.4,1491.7 L1073.2,1493.7 L1070.0,1495.5 L1066.8,1497.4 L1063.0,1498.1 L1059.3,1498.5 L1055.5,1498.5 L1052.0,1498.6 L1048.5,1498.6 L1045.2,1498.7 L1041.9,1498.8 L1038.6,1498.4 L1035.3,1498.0 L1032.1,1497.6 L1028.9,1497.1 L1025.7,1496.7 L1022.4,1496.3 L1019.0,1495.7 L1015.9,1494.6 L1012.8,1493.3 L1009.6,1491.9 L1006.4,1490.5 L1003.2,1489.0 L1000.1,1487.0 L997.0,1485.1 L993.7,1483.0 L991.4,1480.1 L989.2,1477.1 L987.0,1474.0 L985.4,1470.6 L983.8,1467.2 L983.1,1463.4 L982.7,1459.7 L982.6,1456.0 L982.5,1452.3 L982.4,1448.6 L982.6,1444.9 L983.5,1441.3 L984.4,1437.8 L985.4,1434.3 L986.4,1430.9 L987.4,1427.4 L989.2,1424.2 L991.2,1421.2 L993.5,1418.5 L996.0,1415.9 L998.5,1413.4 L1000.9,1410.9 L1003.6,1408.7 L1006.6,1406.9 L1009.7,1405.4 L1012.8,1404.0 L1015.9,1402.5 L1019.0,1401.4 L1022.4,1400.8 L1025.7,1400.4 L1028.9,1400.1 L1032.2,1399.8 L1035.4,1399.5 L1038.6,1399.2 L1041.8,1399.1 L1045.0,1399.7 L1048.2,1400.2 L1051.4,1400.8 L1054.6,1401.4 L1057.9,1401.9 L1061.2,1402.7 L1064.5,1403.7 L1067.5,1405.2 L1070.3,1407.3 L1073.0,1409.3 L1075.8,1411.3 L1078.3,1413.8 L1080.2,1416.6 L1082.1,1419.5 L1083.9,1422.4 L1085.3,1425.5 L1086.8,1428.6 L1087.4,1432.0 L1087.8,1435.4 L1088.1,1438.7 L1088.4,1442.0 L1088.6,1445.3 Z" fill="none" stroke="#fff" stroke-width="0.7" stroke-linejoin="round" />
<path d="M1087.0,1448.6 L1087.2,1451.8 L1087.1,1455.0 L1086.9,1458.2 L1086.7,1461.5 L1086.5,1464.8 L1086.1,1468.3 L1085.3,1471.6 L1084.5,1475.1 L1083.7,1478.7 L1082.6,1482.4 L1080.5,1485.3 L1077.5,1487.5 L1074.4,1489.4 L1071.4,1491.4 L1068.4,1493.3 L1065.5,1495.2 L1061.8,1495.7 L1058.3,1496.1 L1054.8,1496.3 L1051.4,1496.5 L1048.1,1496.6 L1044.9,1496.8 L1041.8,1497.0 L1038.6,1496.7 L1035.5,1496.3 L1032.3,1495.9 L1029.2,1495.5 L1026.1,1495.1 L1022.9,1494.7 L1019.7,1494.3 L1016.6,1493.1 L1013.7,1491.7 L1010.7,1490.3 L1007.6,1488.9 L1004.6,1487.4 L1001.6,1485.6 L998.5,1483.8 L995.2,1481.9 L993.0,1479.0 L991.0,1476.1 L989.0,1473.0 L987.3,1469.8 L985.5,1466.6 L984.8,1463.0 L984.5,1459.3 L984.3,1455.7 L984.2,1452.1 L984.0,1448.6 L984.2,1445.0 L985.2,1441.5 L986.1,1438.2 L987.2,1434.8 L988.2,1431.5 L989.2,1428.1 L991.1,1425.2 L993.2,1422.4 L995.5,1419.8 L997.8,1417.3 L1000.2,1414.9 L1002.5,1412.5 L1005.0,1410.3 L1007.9,1408.7 L1010.9,1407.2 L1013.8,1405.7 L1016.7,1404.3 L1019.8,1403.1 L1023.0,1402.7 L1026.2,1402.3 L1029.3,1402.0 L1032.4,1401.6 L1035.5,1401.3 L1038.6,1401.0 L1041.7,1400.8 L1044.8,1401.4 L1047.8,1402.0 L1050.9,1402.6 L1054.0,1403.2 L1057.1,1403.8 L1060.3,1404.6 L1063.5,1405.5 L1066.4,1406.9 L1069.0,1408.9 L1071.6,1411.0 L1074.2,1413.0 L1076.5,1415.3 L1078.3,1418.1 L1080.1,1420.8 L1081.9,1423.6 L1083.4,1426.5 L1085.0,1429.4 L1085.6,1432.6 L1085.9,1435.9 L1086.2,1439.1 L1086.5,1442.3 L1086.7,1445.4 Z" fill="none" stroke="#fff" stroke-width="0.7" stroke-linejoin="round" />
<path d="M1068.4,1515.1 L1087.4,1535.4 L1093.1,1532.2 L1110.2,1514.5 L1105.8,1496.7" fill="none" stroke="#4450a9" stroke-width="1.6" stroke-linejoin="round" />
<path d="M1067.7,1512.0 L1087.4,1527.8 L1100.7,1514.5 L1102.0,1490.4" fill="none" stroke="#4450a9" stroke-width="1.6" stroke-linejoin="round" />
<path d="M1066.5,1508.8 L1087.4,1518.3 L1097.5,1506.9 L1099.4,1484.1" fill="none" stroke="#4450a9" stroke-width="1.6" stroke-linejoin="round" />
<path d="M1065.2,1505.6 L1086.7,1509.4 L1093.7,1500.5 L1096.9,1480.3" fill="none" stroke="#4450a9" stroke-width="1.6" stroke-linejoin="round" />
<path d="M1065.2,1501.8 L1085.5,1504.3 L1091.8,1496.7 L1094.3,1477.7" fill="none" stroke="#4450a9" stroke-width="1.6" stroke-linejoin="round" />
<path d="M1155.2,1442.9 L1176.1,1446.7 L1155.2,1456.8 Z" fill="none" stroke="#4450a9" stroke-width="1.8" stroke-linejoin="round" />
<path d="M1615.3,1431.1 L1623.4,1411.5 L1638.4,1399.4 L1661.4,1389.6 L1684.5,1384.4 L1707.5,1383.6 L1729.4,1389.6 L1737.5,1396.5 L1746.7,1411.5 L1749.6,1429.9 L1749.6,1450.6 L1747.8,1464.5 L1743.2,1480.6 L1730.6,1494.4 L1705.2,1498.5 L1684.5,1501.3 L1661.4,1502.5 L1638.4,1499.0 L1624.6,1489.8 L1617.6,1480.6 L1614.4,1463.3 L1613.6,1446.0 Z M1617.6,1434.5 L1625.7,1417.2 L1639.5,1405.7 L1661.4,1395.9 L1684.5,1391.9 L1707.5,1393.0 L1725.4,1399.4 L1735.4,1412.1 L1738.6,1429.9 L1738.4,1450.6 L1735.4,1467.9 L1727.7,1480.0 L1707.5,1488.7 L1684.5,1491.2 L1661.4,1490.0 L1639.5,1486.4 L1625.7,1479.4 L1619.4,1467.9 L1617.6,1450.6 Z" fill="#dc2a1c" fill-rule="evenodd" stroke="#dc2a1c" stroke-width="1.2" stroke-linejoin="round"/>
<path d="M1606.1,1446.0 L1615.3,1431.1 L1623.4,1411.5 L1638.4,1399.4 L1661.4,1389.6 L1684.5,1384.4 L1707.5,1383.6 L1729.4,1389.6 L1737.5,1396.5 L1746.7,1411.5 L1749.6,1429.9 L1749.6,1450.6 L1747.8,1464.5 L1743.2,1480.6 L1730.6,1494.4 L1705.2,1498.5 L1684.5,1501.3 L1661.4,1502.5 L1638.4,1499.0 L1624.6,1489.8 L1613.0,1481.8 L1605.6,1463.3 Z" fill="none" stroke="#dc2a1c" stroke-width="1.8" stroke-linejoin="round" />
<path d="M1749.6,1443.7 L1749.6,1448.0 L1749.4,1452.3 L1748.8,1456.5 L1748.3,1460.8 L1747.6,1465.2 L1746.4,1469.4 L1745.2,1473.7 L1743.9,1478.1 L1741.9,1482.1 L1738.8,1485.4 L1735.8,1488.7 L1732.8,1492.0 L1729.1,1494.7 L1724.1,1495.4 L1719.5,1496.2 L1715.2,1496.9 L1711.0,1497.5 L1707.0,1498.2 L1703.1,1498.7 L1699.4,1499.3 L1695.6,1499.8 L1691.9,1500.3 L1688.2,1500.8 L1684.5,1501.3 L1680.7,1501.5 L1676.8,1501.7 L1672.9,1501.9 L1668.8,1502.1 L1664.6,1502.3 L1660.2,1502.3 L1655.9,1501.7 L1651.4,1501.0 L1646.7,1500.3 L1641.7,1499.5 L1636.9,1498.0 L1632.9,1495.3 L1628.7,1492.6 L1624.5,1489.8 L1620.8,1486.3 L1616.9,1482.7 L1614.3,1478.3 L1612.8,1473.4 L1611.3,1468.6 L1609.8,1463.7 L1609.5,1458.6 L1609.5,1453.6 L1609.5,1448.6 L1610.4,1443.7 L1612.3,1439.0 L1614.0,1434.5 L1615.8,1430.1 L1617.5,1425.8 L1619.2,1421.6 L1621.0,1417.4 L1622.7,1413.3 L1625.6,1409.7 L1629.2,1406.8 L1632.7,1404.0 L1636.0,1401.3 L1639.6,1398.9 L1643.6,1397.2 L1647.5,1395.5 L1651.2,1393.9 L1654.8,1392.4 L1658.4,1390.9 L1662.0,1389.5 L1665.8,1388.6 L1669.5,1387.8 L1673.2,1386.9 L1676.9,1386.1 L1680.6,1385.3 L1684.5,1384.4 L1688.4,1384.3 L1692.3,1384.1 L1696.4,1384.0 L1700.5,1383.8 L1704.9,1383.7 L1709.2,1384.1 L1713.3,1385.2 L1717.6,1386.4 L1722.0,1387.6 L1726.6,1388.8 L1730.9,1390.8 L1734.4,1393.8 L1737.8,1397.0 L1740.2,1401.0 L1742.6,1404.9 L1745.0,1408.8 L1746.9,1412.9 L1747.6,1417.6 L1748.3,1422.1 L1749.0,1426.4 L1749.6,1430.8 L1749.6,1435.2 L1749.6,1439.5 Z" fill="none" stroke="#dc2a1c" stroke-width="1.8" stroke-linejoin="round" />
<path d="M1738.5,1443.7 L1738.4,1447.3 L1738.4,1450.8 L1737.7,1454.3 L1737.1,1457.8 L1736.5,1461.4 L1735.9,1465.0 L1734.9,1468.6 L1733.0,1471.7 L1731.0,1474.8 L1729.0,1477.9 L1726.4,1480.5 L1722.8,1482.1 L1719.4,1483.6 L1716.1,1485.0 L1712.9,1486.3 L1709.8,1487.7 L1706.7,1488.8 L1703.3,1489.1 L1700.0,1489.5 L1696.8,1489.8 L1693.7,1490.2 L1690.6,1490.5 L1687.6,1490.9 L1684.5,1491.2 L1681.4,1491.0 L1678.3,1490.9 L1675.1,1490.7 L1671.9,1490.6 L1668.6,1490.4 L1665.2,1490.2 L1661.6,1490.1 L1658.1,1489.5 L1654.3,1488.8 L1650.4,1488.2 L1646.1,1487.5 L1641.5,1486.7 L1637.2,1485.2 L1633.1,1483.1 L1628.7,1481.0 L1625.0,1478.1 L1622.8,1474.1 L1620.6,1470.2 L1619.2,1465.9 L1618.7,1461.4 L1618.3,1456.9 L1617.8,1452.5 L1617.6,1448.1 L1617.6,1443.7 L1617.6,1439.4 L1617.6,1434.9 L1619.4,1430.8 L1621.3,1426.8 L1623.1,1422.9 L1624.9,1419.0 L1627.6,1415.7 L1631.0,1412.8 L1634.2,1410.2 L1637.3,1407.6 L1640.6,1405.2 L1644.3,1403.6 L1647.9,1402.0 L1651.3,1400.5 L1654.6,1399.0 L1657.8,1397.5 L1661.0,1396.1 L1664.4,1395.4 L1667.9,1394.8 L1671.2,1394.2 L1674.5,1393.6 L1677.8,1393.1 L1681.1,1392.5 L1684.5,1391.9 L1687.9,1392.1 L1691.3,1392.2 L1694.7,1392.4 L1698.2,1392.6 L1701.8,1392.8 L1705.5,1392.9 L1709.2,1393.6 L1712.7,1394.9 L1716.3,1396.1 L1720.0,1397.5 L1723.8,1398.8 L1726.9,1401.3 L1729.3,1404.4 L1731.8,1407.5 L1734.2,1410.5 L1735.8,1414.1 L1736.5,1418.1 L1737.2,1421.9 L1737.8,1425.6 L1738.5,1429.3 L1738.6,1433.0 L1738.5,1436.6 L1738.5,1440.2 Z" fill="none" stroke="#dc2a1c" stroke-width="1.8" stroke-linejoin="round" />
<path d="M1736.6,1443.7 L1736.5,1447.1 L1736.2,1450.5 L1735.5,1453.9 L1734.9,1457.2 L1734.2,1460.6 L1733.5,1464.0 L1732.5,1467.4 L1730.5,1470.3 L1728.5,1473.2 L1726.5,1476.0 L1724.1,1478.5 L1720.8,1480.0 L1717.6,1481.5 L1714.6,1482.9 L1711.5,1484.2 L1708.5,1485.4 L1705.5,1486.4 L1702.3,1486.8 L1699.2,1487.2 L1696.2,1487.6 L1693.3,1487.9 L1690.3,1488.3 L1687.4,1488.7 L1684.5,1489.1 L1681.5,1488.9 L1678.5,1488.7 L1675.6,1488.5 L1672.5,1488.4 L1669.4,1488.2 L1666.1,1488.0 L1662.8,1487.8 L1659.4,1487.2 L1655.8,1486.7 L1652.1,1485.9 L1648.3,1485.0 L1644.1,1484.1 L1640.2,1482.5 L1636.5,1480.5 L1632.5,1478.4 L1629.0,1475.7 L1626.8,1472.1 L1625.0,1468.4 L1623.8,1464.3 L1623.4,1460.1 L1623.0,1456.0 L1622.6,1451.9 L1622.4,1447.8 L1622.6,1443.7 L1622.7,1439.7 L1622.8,1435.6 L1624.4,1431.8 L1626.1,1428.1 L1627.7,1424.5 L1629.4,1420.9 L1631.9,1417.8 L1635.0,1415.2 L1637.9,1412.6 L1640.8,1410.2 L1643.7,1408.0 L1647.1,1406.4 L1650.3,1404.8 L1653.5,1403.3 L1656.6,1402.0 L1659.6,1400.6 L1662.6,1399.3 L1665.8,1398.6 L1668.9,1397.9 L1672.0,1397.3 L1675.1,1396.7 L1678.2,1396.1 L1681.3,1395.4 L1684.5,1394.8 L1687.7,1395.0 L1690.9,1395.2 L1694.1,1395.3 L1697.4,1395.5 L1700.8,1395.7 L1704.3,1395.9 L1707.8,1396.5 L1711.1,1397.6 L1714.6,1398.7 L1718.0,1400.0 L1721.5,1401.5 L1724.3,1403.9 L1726.7,1406.7 L1729.0,1409.6 L1731.3,1412.4 L1733.0,1415.7 L1733.9,1419.4 L1734.8,1422.9 L1735.8,1426.3 L1736.6,1429.8 L1736.6,1433.4 L1736.6,1436.9 L1736.6,1440.3 Z" fill="none" stroke="#dc2a1c" stroke-width="1.8" stroke-linejoin="round" />
<path d="M1734.8,1443.7 L1734.5,1447.0 L1734.1,1450.3 L1733.3,1453.4 L1732.6,1456.6 L1731.8,1459.8 L1731.0,1463.0 L1730.1,1466.2 L1728.1,1468.9 L1726.0,1471.5 L1724.0,1474.1 L1721.7,1476.4 L1718.7,1477.9 L1715.8,1479.5 L1713.0,1480.9 L1710.1,1482.0 L1707.2,1483.1 L1704.3,1484.0 L1701.3,1484.4 L1698.4,1484.9 L1695.6,1485.3 L1692.8,1485.7 L1690.1,1486.1 L1687.3,1486.5 L1684.5,1487.0 L1681.6,1486.8 L1678.8,1486.6 L1676.0,1486.4 L1673.1,1486.1 L1670.1,1485.9 L1667.1,1485.7 L1663.9,1485.5 L1660.6,1485.0 L1657.2,1484.5 L1653.9,1483.6 L1650.4,1482.6 L1646.7,1481.5 L1643.2,1479.9 L1639.9,1478.0 L1636.3,1475.9 L1633.1,1473.4 L1630.9,1470.2 L1629.4,1466.5 L1628.4,1462.8 L1628.1,1458.8 L1627.7,1455.0 L1627.4,1451.2 L1627.2,1447.5 L1627.5,1443.7 L1627.7,1440.0 L1628.0,1436.3 L1629.4,1432.8 L1630.9,1429.4 L1632.3,1426.0 L1633.9,1422.8 L1636.2,1419.9 L1639.0,1417.5 L1641.7,1415.1 L1644.3,1412.9 L1646.9,1410.8 L1649.9,1409.1 L1652.7,1407.5 L1655.7,1406.2 L1658.6,1405.0 L1661.4,1403.7 L1664.1,1402.5 L1667.1,1401.8 L1670.0,1401.1 L1672.9,1400.4 L1675.7,1399.8 L1678.6,1399.1 L1681.5,1398.4 L1684.5,1397.7 L1687.5,1397.9 L1690.5,1398.1 L1693.5,1398.3 L1696.6,1398.5 L1699.8,1398.7 L1703.0,1398.9 L1706.3,1399.4 L1709.5,1400.3 L1712.9,1401.2 L1716.0,1402.6 L1719.2,1404.2 L1721.8,1406.4 L1724.0,1409.1 L1726.2,1411.7 L1728.5,1414.3 L1730.2,1417.4 L1731.3,1420.6 L1732.5,1423.8 L1733.7,1427.0 L1734.6,1430.3 L1734.7,1433.7 L1734.7,1437.1 L1734.8,1440.4 Z" fill="none" stroke="#dc2a1c" stroke-width="1.8" stroke-linejoin="round" />
<path d="M1732.9,1443.7 L1732.6,1446.9 L1732.0,1450.0 L1731.1,1453.0 L1730.3,1456.0 L1729.4,1459.0 L1728.6,1462.0 L1727.6,1465.0 L1725.6,1467.5 L1723.5,1469.8 L1721.5,1472.2 L1719.3,1474.3 L1716.6,1475.9 L1714.0,1477.4 L1711.4,1478.9 L1708.6,1479.9 L1705.9,1480.8 L1703.2,1481.6 L1700.4,1482.1 L1697.6,1482.6 L1695.0,1483.0 L1692.4,1483.5 L1689.8,1483.9 L1687.1,1484.4 L1684.5,1484.9 L1681.8,1484.6 L1679.1,1484.4 L1676.4,1484.2 L1673.7,1483.9 L1670.9,1483.7 L1668.0,1483.5 L1665.0,1483.2 L1661.9,1482.8 L1658.7,1482.3 L1655.6,1481.3 L1652.6,1480.1 L1649.4,1478.8 L1646.3,1477.2 L1643.3,1475.4 L1640.1,1473.4 L1637.1,1471.1 L1634.9,1468.2 L1633.8,1464.7 L1633.1,1461.2 L1632.8,1457.6 L1632.4,1454.1 L1632.2,1450.6 L1632.0,1447.2 L1632.4,1443.7 L1632.8,1440.3 L1633.2,1437.0 L1634.4,1433.8 L1635.7,1430.7 L1637.0,1427.6 L1638.3,1424.6 L1640.6,1422.1 L1643.0,1419.8 L1645.4,1417.6 L1647.7,1415.5 L1650.1,1413.6 L1652.6,1411.9 L1655.1,1410.3 L1657.9,1409.1 L1660.5,1407.9 L1663.2,1406.8 L1665.7,1405.7 L1668.4,1405.0 L1671.1,1404.2 L1673.7,1403.5 L1676.3,1402.8 L1679.0,1402.1 L1681.7,1401.4 L1684.5,1400.6 L1687.3,1400.8 L1690.1,1401.0 L1692.9,1401.2 L1695.8,1401.4 L1698.8,1401.6 L1701.8,1401.9 L1704.9,1402.3 L1708.0,1403.0 L1711.2,1403.8 L1714.0,1405.2 L1716.8,1406.8 L1719.2,1409.0 L1721.3,1411.4 L1723.5,1413.8 L1725.6,1416.2 L1727.4,1419.0 L1728.7,1421.9 L1730.1,1424.8 L1731.6,1427.7 L1732.7,1430.8 L1732.8,1434.1 L1732.8,1437.4 L1732.9,1440.6 Z" fill="none" stroke="#dc2a1c" stroke-width="1.8" stroke-linejoin="round" />
<path d="M1731.1,1443.7 L1730.6,1446.8 L1729.8,1449.7 L1728.9,1452.6 L1728.0,1455.4 L1727.1,1458.2 L1726.2,1461.0 L1725.2,1463.8 L1723.1,1466.1 L1721.1,1468.2 L1719.1,1470.3 L1716.9,1472.2 L1714.5,1473.8 L1712.2,1475.3 L1709.9,1476.9 L1707.2,1477.7 L1704.5,1478.5 L1702.0,1479.2 L1699.4,1479.7 L1696.9,1480.2 L1694.4,1480.7 L1691.9,1481.2 L1689.5,1481.7 L1687.0,1482.2 L1684.5,1482.7 L1681.9,1482.5 L1679.4,1482.2 L1676.9,1482.0 L1674.3,1481.7 L1671.7,1481.5 L1668.9,1481.2 L1666.1,1480.9 L1663.2,1480.5 L1660.2,1480.1 L1657.4,1479.0 L1654.7,1477.6 L1652.0,1476.2 L1649.3,1474.6 L1646.6,1472.8 L1643.8,1470.9 L1641.2,1468.7 L1639.0,1466.2 L1638.2,1462.9 L1637.7,1459.6 L1637.4,1456.3 L1637.2,1453.1 L1636.9,1450.0 L1636.7,1446.9 L1637.3,1443.7 L1637.8,1440.7 L1638.4,1437.7 L1639.5,1434.8 L1640.5,1432.0 L1641.6,1429.2 L1642.8,1426.5 L1644.9,1424.2 L1647.1,1422.1 L1649.1,1420.1 L1651.2,1418.2 L1653.2,1416.3 L1655.4,1414.7 L1657.6,1413.0 L1660.1,1411.9 L1662.5,1410.9 L1664.9,1409.9 L1667.3,1408.9 L1669.7,1408.1 L1672.1,1407.4 L1674.5,1406.6 L1676.9,1405.9 L1679.4,1405.1 L1681.9,1404.3 L1684.5,1403.5 L1687.1,1403.7 L1689.7,1403.9 L1692.3,1404.1 L1695.0,1404.4 L1697.8,1404.6 L1700.6,1404.8 L1703.5,1405.2 L1706.4,1405.7 L1709.5,1406.3 L1712.1,1407.8 L1714.5,1409.5 L1716.7,1411.5 L1718.7,1413.7 L1720.7,1415.9 L1722.8,1418.2 L1724.6,1420.6 L1726.2,1423.2 L1727.8,1425.8 L1729.5,1428.4 L1730.7,1431.3 L1730.8,1434.5 L1730.9,1437.6 L1731.0,1440.7 Z" fill="none" stroke="#dc2a1c" stroke-width="1.8" stroke-linejoin="round" />
<path d="M1729.6,1443.7 L1729.1,1446.7 L1728.2,1449.5 L1727.2,1452.2 L1726.2,1454.9 L1725.3,1457.6 L1724.3,1460.2 L1723.3,1462.9 L1721.2,1465.0 L1719.1,1466.9 L1717.1,1468.8 L1715.1,1470.6 L1712.9,1472.2 L1710.8,1473.7 L1708.7,1475.3 L1706.0,1476.0 L1703.5,1476.7 L1701.1,1477.4 L1698.6,1477.9 L1696.3,1478.5 L1693.9,1479.0 L1691.6,1479.5 L1689.2,1480.0 L1686.9,1480.5 L1684.5,1481.1 L1682.0,1480.8 L1679.6,1480.6 L1677.2,1480.3 L1674.7,1480.0 L1672.3,1479.7 L1669.7,1479.4 L1667.0,1479.1 L1664.2,1478.8 L1661.3,1478.4 L1658.7,1477.3 L1656.4,1475.7 L1654.0,1474.2 L1651.6,1472.5 L1649.3,1470.7 L1646.8,1468.9 L1644.3,1466.9 L1642.1,1464.6 L1641.7,1461.5 L1641.3,1458.4 L1641.1,1455.4 L1640.8,1452.4 L1640.6,1449.5 L1640.5,1446.6 L1641.1,1443.7 L1641.8,1440.9 L1642.5,1438.2 L1643.4,1435.6 L1644.3,1433.0 L1645.2,1430.4 L1646.3,1427.9 L1648.2,1425.9 L1650.2,1423.9 L1652.1,1422.1 L1653.9,1420.3 L1655.7,1418.5 L1657.6,1416.8 L1659.4,1415.2 L1661.8,1414.2 L1664.1,1413.2 L1666.3,1412.3 L1668.5,1411.4 L1670.8,1410.6 L1673.0,1409.8 L1675.2,1409.1 L1677.4,1408.3 L1679.7,1407.5 L1682.0,1406.6 L1684.5,1405.8 L1686.9,1406.0 L1689.4,1406.2 L1691.9,1406.4 L1694.4,1406.7 L1697.0,1406.9 L1699.6,1407.1 L1702.4,1407.4 L1705.2,1407.9 L1708.2,1408.3 L1710.5,1409.8 L1712.7,1411.6 L1714.7,1413.5 L1716.6,1415.5 L1718.6,1417.6 L1720.5,1419.6 L1722.4,1421.8 L1724.1,1424.2 L1726.0,1426.5 L1727.9,1429.0 L1729.2,1431.7 L1729.3,1434.8 L1729.4,1437.8 L1729.5,1440.8 Z" fill="none" stroke="#dc2a1c" stroke-width="1.8" stroke-linejoin="round" />
<path d="M1728.2,1443.7 L1727.6,1446.6 L1726.5,1449.3 L1725.4,1451.9 L1724.4,1454.4 L1723.4,1457.0 L1722.4,1459.5 L1721.4,1462.0 L1719.3,1463.9 L1717.2,1465.6 L1715.2,1467.3 L1713.2,1468.9 L1711.3,1470.5 L1709.4,1472.1 L1707.5,1473.7 L1704.9,1474.3 L1702.5,1474.9 L1700.1,1475.5 L1697.9,1476.1 L1695.6,1476.7 L1693.4,1477.2 L1691.2,1477.8 L1689.0,1478.3 L1686.8,1478.9 L1684.5,1479.4 L1682.1,1479.2 L1679.8,1478.9 L1677.5,1478.6 L1675.2,1478.3 L1672.8,1478.0 L1670.4,1477.7 L1667.9,1477.4 L1665.2,1477.0 L1662.4,1476.7 L1660.1,1475.5 L1658.1,1473.8 L1656.1,1472.2 L1654.0,1470.5 L1651.9,1468.7 L1649.7,1467.0 L1647.5,1465.1 L1645.3,1463.1 L1645.1,1460.0 L1644.9,1457.2 L1644.7,1454.4 L1644.5,1451.7 L1644.3,1449.0 L1644.2,1446.4 L1644.9,1443.7 L1645.7,1441.2 L1646.5,1438.7 L1647.3,1436.3 L1648.0,1434.0 L1648.8,1431.6 L1649.8,1429.4 L1651.6,1427.5 L1653.3,1425.7 L1655.0,1424.0 L1656.6,1422.3 L1658.2,1420.7 L1659.7,1419.0 L1661.3,1417.3 L1663.5,1416.4 L1665.6,1415.6 L1667.7,1414.7 L1669.8,1413.9 L1671.8,1413.1 L1673.8,1412.3 L1675.8,1411.5 L1677.9,1410.7 L1680.0,1409.8 L1682.2,1408.9 L1684.5,1408.0 L1686.8,1408.3 L1689.1,1408.5 L1691.4,1408.7 L1693.8,1409.0 L1696.2,1409.2 L1698.7,1409.4 L1701.3,1409.7 L1704.0,1410.0 L1706.8,1410.3 L1709.0,1411.8 L1710.8,1413.7 L1712.7,1415.5 L1714.5,1417.4 L1716.4,1419.2 L1718.3,1421.1 L1720.2,1423.1 L1722.1,1425.2 L1724.1,1427.3 L1726.3,1429.5 L1727.7,1432.1 L1727.8,1435.1 L1728.0,1438.0 L1728.1,1440.9 Z" fill="none" stroke="#dc2a1c" stroke-width="1.8" stroke-linejoin="round" />
<path d="M1770.3,1548.6 L1769.9,1551.2 L1768.9,1553.8 L1767.6,1556.2 L1766.5,1558.5 L1765.4,1560.8 L1764.2,1563.0 L1763.1,1565.2 L1761.5,1567.1 L1759.8,1568.9 L1758.1,1570.6 L1756.4,1572.3 L1754.7,1573.9 L1753.1,1575.6 L1750.9,1576.6 L1748.5,1577.2 L1746.3,1577.8 L1744.1,1578.3 L1741.9,1578.8 L1739.9,1579.4 L1737.8,1579.9 L1735.7,1580.4 L1733.7,1580.9 L1731.6,1581.4 L1729.4,1582.0 L1727.2,1581.7 L1725.1,1581.4 L1722.9,1581.1 L1720.8,1580.7 L1718.6,1580.4 L1716.3,1580.1 L1714.0,1579.8 L1711.6,1579.4 L1709.0,1579.1 L1706.3,1578.7 L1703.8,1577.8 L1701.5,1576.5 L1699.1,1575.2 L1696.6,1573.8 L1693.9,1572.3 L1691.0,1570.7 L1687.9,1569.0 L1684.5,1567.2 L1682.4,1564.5 L1683.1,1561.0 L1683.8,1557.6 L1684.4,1554.5 L1685.0,1551.5 L1685.6,1548.6 L1688.3,1545.9 L1690.7,1543.5 L1692.9,1541.3 L1694.9,1539.3 L1696.7,1537.5 L1698.4,1535.7 L1700.1,1534.1 L1701.6,1532.5 L1703.2,1531.0 L1704.6,1529.6 L1706.3,1528.3 L1707.9,1527.1 L1709.6,1526.0 L1711.2,1524.9 L1712.8,1523.8 L1714.4,1522.7 L1716.1,1521.6 L1717.7,1520.4 L1719.4,1519.2 L1721.2,1518.0 L1723.1,1516.8 L1725.0,1515.4 L1727.1,1513.9 L1729.4,1507.7 L1732.1,1507.1 L1734.9,1506.4 L1737.9,1505.8 L1741.1,1505.0 L1744.4,1504.3 L1748.1,1503.5 L1752.1,1502.6 L1755.1,1504.1 L1758.0,1505.8 L1760.9,1507.5 L1763.9,1509.2 L1766.9,1511.0 L1770.1,1512.9 L1772.1,1515.8 L1772.4,1519.8 L1772.7,1523.6 L1772.9,1527.1 L1773.1,1530.5 L1772.8,1533.9 L1772.2,1537.1 L1771.7,1540.2 L1771.2,1543.1 L1770.8,1545.9 Z" fill="none" stroke="#dc2a1c" stroke-width="1.8" stroke-linejoin="round" />
<path d="M1768.0,1548.6 L1767.4,1551.1 L1766.4,1553.4 L1765.2,1555.7 L1764.0,1557.8 L1762.9,1559.9 L1761.8,1562.0 L1760.7,1564.0 L1759.2,1565.8 L1757.6,1567.4 L1756.0,1569.0 L1754.4,1570.5 L1752.9,1572.0 L1751.3,1573.6 L1749.3,1574.5 L1747.1,1575.1 L1745.1,1575.7 L1743.0,1576.2 L1741.1,1576.8 L1739.2,1577.3 L1737.2,1577.8 L1735.3,1578.4 L1733.4,1578.9 L1731.4,1579.5 L1729.4,1580.0 L1727.4,1579.7 L1725.4,1579.3 L1723.4,1578.9 L1721.4,1578.6 L1719.3,1578.2 L1717.3,1577.8 L1715.1,1577.5 L1712.9,1577.1 L1710.6,1576.7 L1708.1,1576.3 L1705.9,1575.4 L1703.7,1574.2 L1701.5,1573.0 L1699.2,1571.7 L1696.8,1570.3 L1694.2,1568.9 L1691.4,1567.3 L1688.3,1565.6 L1686.4,1563.2 L1686.9,1560.0 L1687.4,1556.9 L1687.8,1554.0 L1688.2,1551.3 L1688.5,1548.6 L1691.1,1546.1 L1693.3,1543.8 L1695.3,1541.8 L1697.2,1539.9 L1698.9,1538.2 L1700.5,1536.6 L1702.1,1535.1 L1703.5,1533.6 L1705.0,1532.2 L1706.3,1530.9 L1707.8,1529.7 L1709.4,1528.6 L1710.9,1527.5 L1712.4,1526.5 L1713.9,1525.4 L1715.4,1524.4 L1716.9,1523.3 L1718.5,1522.2 L1720.1,1521.1 L1721.7,1520.0 L1723.5,1518.8 L1725.3,1517.5 L1727.3,1516.1 L1729.4,1510.4 L1731.9,1509.9 L1734.6,1509.4 L1737.3,1508.8 L1740.2,1508.2 L1743.3,1507.6 L1746.7,1506.9 L1750.3,1506.1 L1753.1,1507.5 L1755.7,1509.1 L1758.4,1510.8 L1761.1,1512.4 L1763.9,1514.1 L1766.7,1515.8 L1768.6,1518.5 L1768.9,1522.1 L1769.3,1525.6 L1769.5,1528.8 L1769.8,1531.8 L1769.6,1534.9 L1769.2,1537.9 L1768.9,1540.7 L1768.6,1543.4 L1768.3,1546.0 Z" fill="none" stroke="#dc2a1c" stroke-width="1.8" stroke-linejoin="round" />
<path d="M1764.6,1548.6 L1763.8,1550.8 L1762.6,1552.9 L1761.4,1554.9 L1760.3,1556.8 L1759.2,1558.7 L1758.1,1560.5 L1757.1,1562.2 L1755.7,1563.7 L1754.2,1565.2 L1752.8,1566.5 L1751.4,1567.9 L1750.0,1569.2 L1748.7,1570.5 L1746.9,1571.4 L1745.1,1572.0 L1743.3,1572.6 L1741.5,1573.1 L1739.8,1573.7 L1738.1,1574.2 L1736.4,1574.8 L1734.7,1575.3 L1733.0,1575.9 L1731.2,1576.5 L1729.4,1577.1 L1727.6,1576.6 L1725.8,1576.2 L1724.0,1575.7 L1722.2,1575.3 L1720.5,1574.9 L1718.7,1574.4 L1716.8,1574.0 L1714.9,1573.6 L1713.0,1573.2 L1710.9,1572.7 L1708.9,1571.9 L1707.1,1570.9 L1705.2,1569.8 L1703.3,1568.6 L1701.2,1567.4 L1699.0,1566.1 L1696.6,1564.7 L1694.0,1563.2 L1692.3,1561.2 L1692.5,1558.5 L1692.7,1555.9 L1692.8,1553.4 L1692.9,1551.0 L1692.9,1548.6 L1695.2,1546.3 L1697.2,1544.3 L1699.0,1542.5 L1700.7,1540.9 L1702.2,1539.4 L1703.7,1537.9 L1705.1,1536.6 L1706.4,1535.3 L1707.6,1534.0 L1708.9,1532.8 L1710.2,1531.7 L1711.6,1530.7 L1712.9,1529.8 L1714.3,1528.8 L1715.6,1527.9 L1716.9,1526.9 L1718.3,1526.0 L1719.6,1525.0 L1721.0,1524.0 L1722.5,1522.9 L1724.1,1521.8 L1725.7,1520.6 L1727.5,1519.3 L1729.4,1514.6 L1731.7,1514.2 L1734.0,1513.8 L1736.4,1513.4 L1738.9,1512.9 L1741.7,1512.5 L1744.6,1511.9 L1747.7,1511.4 L1750.1,1512.7 L1752.4,1514.2 L1754.6,1515.7 L1756.9,1517.2 L1759.3,1518.7 L1761.7,1520.2 L1763.3,1522.5 L1763.7,1525.6 L1764.1,1528.5 L1764.5,1531.3 L1764.9,1533.9 L1764.9,1536.5 L1764.7,1539.1 L1764.7,1541.6 L1764.6,1543.9 L1764.6,1546.3 Z" fill="none" stroke="#dc2a1c" stroke-width="1.8" stroke-linejoin="round" />
<path d="M1760.8,1548.6 L1759.7,1550.6 L1758.5,1552.4 L1757.3,1554.1 L1756.1,1555.7 L1755.0,1557.3 L1754.0,1558.8 L1753.0,1560.2 L1751.8,1561.5 L1750.5,1562.7 L1749.3,1563.8 L1748.1,1565.0 L1746.9,1566.1 L1745.7,1567.2 L1744.3,1568.0 L1742.7,1568.5 L1741.3,1569.1 L1739.8,1569.7 L1738.4,1570.2 L1736.9,1570.8 L1735.5,1571.4 L1734.1,1572.0 L1732.6,1572.6 L1731.0,1573.2 L1729.4,1573.9 L1727.8,1573.3 L1726.2,1572.7 L1724.7,1572.2 L1723.2,1571.6 L1721.7,1571.2 L1720.2,1570.7 L1718.7,1570.2 L1717.2,1569.7 L1715.6,1569.3 L1713.9,1568.8 L1712.3,1568.0 L1710.9,1567.1 L1709.3,1566.2 L1707.7,1565.2 L1706.1,1564.2 L1704.3,1563.1 L1702.4,1561.9 L1700.3,1560.6 L1698.8,1558.9 L1698.8,1556.8 L1698.6,1554.7 L1698.4,1552.7 L1698.1,1550.6 L1697.7,1548.6 L1699.7,1546.6 L1701.5,1544.9 L1703.1,1543.3 L1704.6,1541.9 L1705.9,1540.6 L1707.2,1539.4 L1708.4,1538.2 L1709.5,1537.1 L1710.6,1536.0 L1711.7,1535.0 L1712.8,1534.0 L1714.0,1533.2 L1715.1,1532.3 L1716.3,1531.5 L1717.4,1530.6 L1718.5,1529.8 L1719.7,1528.9 L1720.9,1528.0 L1722.1,1527.1 L1723.4,1526.1 L1724.7,1525.1 L1726.2,1524.0 L1727.7,1522.8 L1729.4,1519.2 L1731.3,1519.0 L1733.3,1518.7 L1735.4,1518.5 L1737.5,1518.2 L1739.8,1517.9 L1742.2,1517.6 L1744.8,1517.3 L1746.7,1518.5 L1748.6,1519.8 L1750.4,1521.2 L1752.3,1522.5 L1754.2,1523.8 L1756.1,1525.2 L1757.5,1527.0 L1758.0,1529.5 L1758.4,1531.8 L1758.9,1534.0 L1759.4,1536.1 L1759.6,1538.3 L1759.8,1540.4 L1759.9,1542.5 L1760.2,1544.5 L1760.5,1546.5 Z" fill="none" stroke="#dc2a1c" stroke-width="1.8" stroke-linejoin="round" />
<path d="M1756.0,1548.6 L1754.7,1550.2 L1753.3,1551.7 L1752.1,1553.1 L1750.9,1554.3 L1749.9,1555.5 L1748.9,1556.6 L1747.9,1557.7 L1746.9,1558.7 L1745.9,1559.6 L1744.9,1560.5 L1743.9,1561.3 L1743.0,1562.2 L1742.0,1563.0 L1741.0,1563.7 L1739.9,1564.2 L1738.8,1564.8 L1737.7,1565.3 L1736.6,1565.9 L1735.5,1566.5 L1734.4,1567.1 L1733.2,1567.7 L1732.0,1568.4 L1730.7,1569.1 L1729.4,1569.9 L1728.1,1569.1 L1726.8,1568.4 L1725.6,1567.7 L1724.4,1567.1 L1723.3,1566.5 L1722.2,1565.9 L1721.1,1565.4 L1720.0,1564.9 L1718.9,1564.3 L1717.7,1563.8 L1716.6,1563.2 L1715.5,1562.4 L1714.5,1561.7 L1713.3,1560.9 L1712.2,1560.1 L1710.9,1559.2 L1709.6,1558.3 L1708.2,1557.4 L1707.1,1556.2 L1706.6,1554.7 L1706.0,1553.2 L1705.4,1551.7 L1704.6,1550.2 L1703.8,1548.6 L1705.4,1547.0 L1706.9,1545.6 L1708.2,1544.4 L1709.4,1543.2 L1710.5,1542.2 L1711.6,1541.2 L1712.5,1540.3 L1713.5,1539.4 L1714.4,1538.5 L1715.2,1537.7 L1716.1,1536.9 L1717.0,1536.2 L1717.9,1535.5 L1718.8,1534.8 L1719.7,1534.0 L1720.6,1533.3 L1721.5,1532.6 L1722.5,1531.8 L1723.4,1531.0 L1724.5,1530.2 L1725.6,1529.3 L1726.7,1528.3 L1728.0,1527.3 L1729.4,1525.0 L1731.0,1524.9 L1732.5,1524.9 L1734.1,1524.8 L1735.8,1524.8 L1737.5,1524.7 L1739.3,1524.7 L1741.2,1524.6 L1742.6,1525.8 L1743.9,1526.9 L1745.2,1528.0 L1746.5,1529.1 L1747.8,1530.2 L1749.1,1531.3 L1750.1,1532.7 L1750.7,1534.3 L1751.3,1535.9 L1751.9,1537.5 L1752.6,1539.0 L1753.1,1540.5 L1753.5,1542.1 L1754.1,1543.7 L1754.7,1545.2 L1755.3,1546.9 Z" fill="none" stroke="#dc2a1c" stroke-width="1.8" stroke-linejoin="round" />
<path d="M1751.3,1548.6 L1749.6,1549.9 L1748.2,1551.0 L1746.9,1552.0 L1745.7,1553.0 L1744.7,1553.8 L1743.8,1554.5 L1742.9,1555.2 L1742.0,1555.9 L1741.3,1556.5 L1740.5,1557.1 L1739.8,1557.7 L1739.1,1558.2 L1738.4,1558.8 L1737.7,1559.3 L1737.0,1559.9 L1736.3,1560.4 L1735.5,1561.0 L1734.8,1561.6 L1734.0,1562.2 L1733.2,1562.8 L1732.4,1563.5 L1731.5,1564.2 L1730.5,1565.0 L1729.4,1565.9 L1728.3,1564.9 L1727.4,1564.1 L1726.5,1563.3 L1725.7,1562.5 L1724.9,1561.9 L1724.2,1561.2 L1723.5,1560.6 L1722.8,1560.0 L1722.1,1559.4 L1721.5,1558.9 L1720.9,1558.3 L1720.2,1557.8 L1719.6,1557.2 L1718.9,1556.6 L1718.3,1556.0 L1717.6,1555.4 L1716.8,1554.8 L1716.1,1554.1 L1715.3,1553.4 L1714.4,1552.6 L1713.4,1551.8 L1712.4,1550.8 L1711.2,1549.8 L1709.8,1548.6 L1711.1,1547.4 L1712.3,1546.3 L1713.3,1545.4 L1714.3,1544.5 L1715.1,1543.7 L1715.9,1543.0 L1716.7,1542.3 L1717.4,1541.6 L1718.1,1541.0 L1718.8,1540.4 L1719.4,1539.8 L1720.1,1539.2 L1720.7,1538.6 L1721.3,1538.1 L1722.0,1537.5 L1722.6,1536.9 L1723.3,1536.3 L1724.0,1535.6 L1724.8,1534.9 L1725.6,1534.2 L1726.4,1533.5 L1727.3,1532.6 L1728.3,1531.7 L1729.4,1530.7 L1730.6,1530.9 L1731.7,1531.0 L1732.9,1531.2 L1734.0,1531.4 L1735.2,1531.5 L1736.4,1531.7 L1737.6,1532.0 L1738.4,1533.0 L1739.2,1533.9 L1739.9,1534.8 L1740.7,1535.7 L1741.4,1536.6 L1742.1,1537.4 L1742.8,1538.3 L1743.5,1539.2 L1744.2,1540.0 L1744.9,1540.9 L1745.7,1541.8 L1746.5,1542.8 L1747.3,1543.8 L1748.2,1544.8 L1749.1,1546.0 L1750.2,1547.2 Z" fill="none" stroke="#dc2a1c" stroke-width="1.8" stroke-linejoin="round" />
<path d="M1725.4,1548.6 L1729.4,1544.5 L1734.0,1548.6 L1729.4,1553.2 Z" fill="none" stroke="#dc2a1c" stroke-width="1.8" stroke-linejoin="round" />
<path d="M645.8,1323.2 C646.2,1331.2 647.3,1361.7 648.0,1371.3 C648.7,1380.9 644.4,1377.0 650.2,1381.0 C656.0,1385.0 671.7,1390.4 683.0,1395.4 C694.3,1400.4 707.8,1405.7 718.0,1410.8 C728.2,1415.9 738.5,1421.8 744.3,1426.1 C750.1,1430.4 752.6,1432.8 753.0,1436.5 C753.4,1440.2 752.3,1443.9 746.5,1448.0 C740.7,1452.1 728.6,1456.4 718.0,1461.1 C707.4,1465.8 692.9,1471.7 683.0,1476.4 C673.1,1481.2 663.3,1485.9 658.9,1489.6 C654.5,1493.2 656.3,1493.9 656.7,1498.3 C657.1,1502.7 659.5,1510.1 661.1,1515.8 C662.7,1521.5 666.4,1525.9 666.4,1532.5 C666.4,1539.1 664.2,1548.1 661.1,1555.2 C658.0,1562.3 650.3,1569.2 648.0,1575.0 C645.7,1580.8 647.1,1576.1 647.1,1590.3 C647.1,1604.5 647.9,1648.6 648.0,1660.3" fill="none" stroke="#0c0a09" stroke-width="4" stroke-linejoin="round"/>
<path d="M1273.4,1322.3 C1273.6,1328.7 1273.9,1350.5 1274.6,1360.6 C1275.3,1370.7 1272.4,1376.8 1277.4,1382.8 C1282.4,1388.8 1293.5,1391.2 1304.8,1396.9 C1316.1,1402.6 1334.4,1411.4 1345.2,1417.1 C1356.0,1422.8 1363.4,1427.2 1369.4,1431.2 C1375.5,1435.2 1381.2,1437.3 1381.5,1441.3 C1381.8,1445.3 1378.1,1450.7 1371.4,1455.4 C1364.7,1460.1 1352.2,1464.5 1341.1,1469.5 C1330.0,1474.5 1315.2,1480.5 1304.8,1485.6 C1294.4,1490.6 1283.6,1493.8 1278.6,1499.8 C1273.6,1505.8 1275.6,1511.5 1274.6,1521.9 C1273.6,1532.3 1272.9,1539.5 1272.6,1562.3 C1272.3,1585.1 1272.6,1642.9 1272.6,1659.0" fill="none" stroke="#4450a9" stroke-width="3.6" stroke-linejoin="round"/>
<path d="M1905.6,1320.3 C1905.2,1327.0 1904.0,1349.8 1903.5,1360.6 C1903.0,1371.3 1902.0,1378.8 1902.7,1384.8 C1903.4,1390.8 1901.4,1392.5 1907.6,1396.9 C1913.8,1401.3 1928.4,1405.6 1939.8,1411.0 C1951.2,1416.4 1967.3,1424.2 1976.1,1429.2 C1984.8,1434.2 1989.3,1437.9 1992.3,1441.3 C1995.3,1444.7 1996.3,1445.7 1994.3,1449.4 C1992.3,1453.1 1988.6,1458.1 1980.2,1463.5 C1971.8,1468.9 1954.7,1476.2 1943.9,1481.6 C1933.1,1487.0 1921.6,1492.0 1915.6,1495.7 C1909.5,1499.4 1908.6,1499.4 1907.6,1503.8 C1906.6,1508.2 1908.3,1516.2 1909.6,1521.9 C1910.9,1527.6 1913.9,1532.7 1915.6,1538.1 C1917.3,1543.5 1919.7,1548.8 1919.7,1554.2 C1919.7,1559.6 1918.3,1564.2 1915.6,1570.3 C1912.9,1576.3 1905.8,1585.1 1903.5,1590.5 C1901.2,1595.9 1901.6,1591.8 1901.5,1602.6 C1901.4,1613.3 1902.5,1646.3 1902.7,1655.0" fill="none" stroke="#dc2a1c" stroke-width="3.6" stroke-linejoin="round"/>
<text x="-1.0" y="1861.3" font-size="62" text-anchor="start" font-weight="normal" fill="#0e0c0b" stroke="#0e0c0b" stroke-width="0.74" >e</text>
<line x1="208.0" y1="1859.3" x2="208.0" y2="2409.4" stroke="#0c0a09" stroke-width="3" stroke-linecap="butt"/>
<line x1="187.5" y1="2408.0" x2="208.0" y2="2408.0" stroke="#0c0a09" stroke-width="3" stroke-linecap="butt"/>
<text x="180.5" y="2420.4" font-size="35" text-anchor="end" font-weight="normal" fill="#0e0c0b" stroke="#0e0c0b" stroke-width="0.42" >0</text>
<line x1="187.5" y1="2316.8" x2="208.0" y2="2316.8" stroke="#0c0a09" stroke-width="3" stroke-linecap="butt"/>
<text x="180.5" y="2329.2" font-size="35" text-anchor="end" font-weight="normal" fill="#0e0c0b" stroke="#0e0c0b" stroke-width="0.42" >20</text>
<line x1="187.5" y1="2225.6" x2="208.0" y2="2225.6" stroke="#0c0a09" stroke-width="3" stroke-linecap="butt"/>
<text x="180.5" y="2238.0" font-size="35" text-anchor="end" font-weight="normal" fill="#0e0c0b" stroke="#0e0c0b" stroke-width="0.42" >40</text>
<line x1="187.5" y1="2134.4" x2="208.0" y2="2134.4" stroke="#0c0a09" stroke-width="3" stroke-linecap="butt"/>
<text x="180.5" y="2146.8" font-size="35" text-anchor="end" font-weight="normal" fill="#0e0c0b" stroke="#0e0c0b" stroke-width="0.42" >60</text>
<line x1="187.5" y1="2043.2" x2="208.0" y2="2043.2" stroke="#0c0a09" stroke-width="3" stroke-linecap="butt"/>
<text x="180.5" y="2055.6" font-size="35" text-anchor="end" font-weight="normal" fill="#0e0c0b" stroke="#0e0c0b" stroke-width="0.42" >80</text>
<line x1="187.5" y1="1952.0" x2="208.0" y2="1952.0" stroke="#0c0a09" stroke-width="3" stroke-linecap="butt"/>
<text x="180.5" y="1964.4" font-size="35" text-anchor="end" font-weight="normal" fill="#0e0c0b" stroke="#0e0c0b" stroke-width="0.42" >100</text>
<line x1="187.5" y1="1860.8" x2="208.0" y2="1860.8" stroke="#0c0a09" stroke-width="3" stroke-linecap="butt"/>
<text x="180.5" y="1873.2" font-size="35" text-anchor="end" font-weight="normal" fill="#0e0c0b" stroke="#0e0c0b" stroke-width="0.42" >120</text>
<line x1="208.0" y1="2408.0" x2="306.5" y2="2408.0" stroke="#0c0a09" stroke-width="3" stroke-linecap="butt"/>
<line x1="321.4" y1="2408.0" x2="419.4" y2="2408.0" stroke="#0c0a09" stroke-width="3" stroke-linecap="butt"/>
<line x1="438.7" y1="2408.0" x2="536.3" y2="2408.0" stroke="#0c0a09" stroke-width="3" stroke-linecap="butt"/>
<line x1="558.5" y1="2408.0" x2="848.4" y2="2408.0" stroke="#0c0a09" stroke-width="3" stroke-linecap="butt"/>
<line x1="867.3" y1="2408.0" x2="965.3" y2="2408.0" stroke="#0c0a09" stroke-width="3" stroke-linecap="butt"/>
<line x1="984.7" y1="2408.0" x2="1178.2" y2="2408.0" stroke="#0c0a09" stroke-width="3" stroke-linecap="butt"/>
<line x1="1197.4" y1="2408.0" x2="1295.7" y2="2408.0" stroke="#0c0a09" stroke-width="3" stroke-linecap="butt"/>
<line x1="1323.2" y1="2408.0" x2="1421.4" y2="2408.0" stroke="#0c0a09" stroke-width="3" stroke-linecap="butt"/>
<line x1="1447.1" y1="2408.0" x2="1641.0" y2="2408.0" stroke="#0c0a09" stroke-width="3" stroke-linecap="butt"/>
<line x1="1663.3" y1="2408.0" x2="1762.0" y2="2408.0" stroke="#0c0a09" stroke-width="3" stroke-linecap="butt"/>
<line x1="1796.9" y1="2408.0" x2="1991.9" y2="2408.0" stroke="#0c0a09" stroke-width="3" stroke-linecap="butt"/>
<line x1="257.4" y1="2408.0" x2="257.4" y2="2427.0" stroke="#0c0a09" stroke-width="3" stroke-linecap="butt"/>
<text x="256.2" y="2460.5" font-size="32.5" text-anchor="middle" font-weight="normal" fill="#0e0c0b" stroke="#0e0c0b" stroke-width="0.39" >26</text>
<rect x="243.0" y="2279.0" width="9.6" height="129.0" fill="#0c0a09"/>
<line x1="247.8" y1="2279.0" x2="247.8" y2="2258.9" stroke="#0c0a09" stroke-width="1.3" stroke-linecap="butt"/>
<line x1="243.0" y1="2258.9" x2="252.6" y2="2258.9" stroke="#0c0a09" stroke-width="2.2" stroke-linecap="butt"/>
<rect x="252.6" y="2333.7" width="9.6" height="74.3" fill="#4450a9"/>
<line x1="257.4" y1="2333.7" x2="257.4" y2="2315.4" stroke="#4450a9" stroke-width="1.3" stroke-linecap="butt"/>
<line x1="252.6" y1="2315.4" x2="262.2" y2="2315.4" stroke="#4450a9" stroke-width="2.2" stroke-linecap="butt"/>
<rect x="262.2" y="2271.2" width="9.6" height="136.8" fill="#dc2a1c"/>
<line x1="267.0" y1="2271.2" x2="267.0" y2="2235.6" stroke="#dc2a1c" stroke-width="1.3" stroke-linecap="butt"/>
<line x1="262.2" y1="2235.6" x2="271.8" y2="2235.6" stroke="#dc2a1c" stroke-width="2.2" stroke-linecap="butt"/>
<rect x="233.1" y="2308.8" width="49.7" height="37.6" fill="none" stroke="#4450a9" stroke-width="2.2"/>
<line x1="370.2" y1="2408.0" x2="370.2" y2="2427.0" stroke="#0c0a09" stroke-width="3" stroke-linecap="butt"/>
<text x="371.9" y="2460.5" font-size="32.5" text-anchor="middle" font-weight="normal" fill="#0e0c0b" stroke="#0e0c0b" stroke-width="0.39" >31</text>
<rect x="355.8" y="1952.0" width="9.6" height="456.0" fill="#0c0a09"/>
<line x1="360.6" y1="1952.0" x2="360.6" y2="1931.9" stroke="#0c0a09" stroke-width="1.3" stroke-linecap="butt"/>
<line x1="355.8" y1="1931.9" x2="365.4" y2="1931.9" stroke="#0c0a09" stroke-width="2.2" stroke-linecap="butt"/>
<rect x="365.4" y="2043.2" width="9.6" height="364.8" fill="#4450a9"/>
<line x1="370.2" y1="2043.2" x2="370.2" y2="2025.9" stroke="#4450a9" stroke-width="1.3" stroke-linecap="butt"/>
<line x1="365.4" y1="2025.9" x2="375.0" y2="2025.9" stroke="#4450a9" stroke-width="2.2" stroke-linecap="butt"/>
<rect x="375.0" y="1952.0" width="9.6" height="456.0" fill="#dc2a1c"/>
<line x1="379.8" y1="1952.0" x2="379.8" y2="1916.4" stroke="#dc2a1c" stroke-width="1.3" stroke-linecap="butt"/>
<line x1="375.0" y1="1916.4" x2="384.6" y2="1916.4" stroke="#dc2a1c" stroke-width="2.2" stroke-linecap="butt"/>
<rect x="346.0" y="2017.7" width="49.2" height="36.3" fill="none" stroke="#4450a9" stroke-width="2.2"/>
<line x1="487.9" y1="2408.0" x2="487.9" y2="2427.0" stroke="#0c0a09" stroke-width="3" stroke-linecap="butt"/>
<text x="486.4" y="2460.5" font-size="32.5" text-anchor="middle" font-weight="normal" fill="#0e0c0b" stroke="#0e0c0b" stroke-width="0.39" >36</text>
<rect x="473.5" y="2161.8" width="9.6" height="246.2" fill="#0c0a09"/>
<line x1="478.3" y1="2161.8" x2="478.3" y2="2141.7" stroke="#0c0a09" stroke-width="1.3" stroke-linecap="butt"/>
<line x1="473.5" y1="2141.7" x2="483.1" y2="2141.7" stroke="#0c0a09" stroke-width="2.2" stroke-linecap="butt"/>
<rect x="483.1" y="2200.5" width="9.6" height="207.5" fill="#4450a9"/>
<line x1="487.9" y1="2200.5" x2="487.9" y2="2182.3" stroke="#4450a9" stroke-width="1.3" stroke-linecap="butt"/>
<line x1="483.1" y1="2182.3" x2="492.7" y2="2182.3" stroke="#4450a9" stroke-width="2.2" stroke-linecap="butt"/>
<rect x="492.7" y="2130.8" width="9.6" height="277.2" fill="#dc2a1c"/>
<line x1="497.5" y1="2130.8" x2="497.5" y2="2095.6" stroke="#dc2a1c" stroke-width="1.3" stroke-linecap="butt"/>
<line x1="492.7" y1="2095.6" x2="502.3" y2="2095.6" stroke="#dc2a1c" stroke-width="2.2" stroke-linecap="butt"/>
<rect x="463.7" y="2176.2" width="48.4" height="36.3" fill="none" stroke="#4450a9" stroke-width="2.2"/>
<line x1="608.5" y1="2408.0" x2="608.5" y2="2427.0" stroke="#0c0a09" stroke-width="3" stroke-linecap="butt"/>
<text x="599.2" y="2460.5" font-size="32.5" text-anchor="middle" font-weight="normal" fill="#0e0c0b" stroke="#0e0c0b" stroke-width="0.39" >40</text>
<rect x="594.1" y="2092.4" width="9.6" height="315.6" fill="#0c0a09"/>
<line x1="598.9" y1="2092.4" x2="598.9" y2="2071.5" stroke="#0c0a09" stroke-width="1.3" stroke-linecap="butt"/>
<line x1="594.1" y1="2071.5" x2="603.7" y2="2071.5" stroke="#0c0a09" stroke-width="2.2" stroke-linecap="butt"/>
<rect x="603.7" y="2139.9" width="9.6" height="268.1" fill="#4450a9"/>
<line x1="608.5" y1="2139.9" x2="608.5" y2="2121.2" stroke="#4450a9" stroke-width="1.3" stroke-linecap="butt"/>
<line x1="603.7" y1="2121.2" x2="613.3" y2="2121.2" stroke="#4450a9" stroke-width="2.2" stroke-linecap="butt"/>
<rect x="613.3" y="2076.0" width="9.6" height="332.0" fill="#dc2a1c"/>
<line x1="618.1" y1="2076.0" x2="618.1" y2="2040.9" stroke="#dc2a1c" stroke-width="1.3" stroke-linecap="butt"/>
<line x1="613.3" y1="2040.9" x2="622.9" y2="2040.9" stroke="#dc2a1c" stroke-width="2.2" stroke-linecap="butt"/>
<rect x="581.0" y="2115.7" width="48.8" height="37.1" fill="none" stroke="#4450a9" stroke-width="2.2"/>
<line x1="656.0" y1="2408.0" x2="656.0" y2="2427.0" stroke="#0c0a09" stroke-width="3" stroke-linecap="butt"/>
<text x="657.1" y="2460.5" font-size="32.5" text-anchor="middle" font-weight="normal" fill="#0e0c0b" stroke="#0e0c0b" stroke-width="0.39" >41</text>
<rect x="641.6" y="2177.3" width="9.6" height="230.7" fill="#0c0a09"/>
<line x1="646.4" y1="2177.3" x2="646.4" y2="2156.7" stroke="#0c0a09" stroke-width="1.3" stroke-linecap="butt"/>
<line x1="641.6" y1="2156.7" x2="651.2" y2="2156.7" stroke="#0c0a09" stroke-width="2.2" stroke-linecap="butt"/>
<rect x="651.2" y="2233.8" width="9.6" height="174.2" fill="#4450a9"/>
<line x1="656.0" y1="2233.8" x2="656.0" y2="2216.5" stroke="#4450a9" stroke-width="1.3" stroke-linecap="butt"/>
<line x1="651.2" y1="2216.5" x2="660.8" y2="2216.5" stroke="#4450a9" stroke-width="2.2" stroke-linecap="butt"/>
<rect x="660.8" y="2204.6" width="9.6" height="203.4" fill="#dc2a1c"/>
<line x1="665.6" y1="2204.6" x2="665.6" y2="2169.1" stroke="#dc2a1c" stroke-width="1.3" stroke-linecap="butt"/>
<line x1="660.8" y1="2169.1" x2="670.4" y2="2169.1" stroke="#dc2a1c" stroke-width="2.2" stroke-linecap="butt"/>
<rect x="630.6" y="2209.7" width="48.4" height="36.3" fill="none" stroke="#4450a9" stroke-width="2.2"/>
<line x1="751.6" y1="2408.0" x2="751.6" y2="2427.0" stroke="#0c0a09" stroke-width="3" stroke-linecap="butt"/>
<text x="748.8" y="2460.5" font-size="32.5" text-anchor="middle" font-weight="normal" fill="#0e0c0b" stroke="#0e0c0b" stroke-width="0.39" >43</text>
<rect x="737.2" y="2143.1" width="9.6" height="264.9" fill="#0c0a09"/>
<line x1="742.0" y1="2143.1" x2="742.0" y2="2122.5" stroke="#0c0a09" stroke-width="1.3" stroke-linecap="butt"/>
<line x1="737.2" y1="2122.5" x2="746.8" y2="2122.5" stroke="#0c0a09" stroke-width="2.2" stroke-linecap="butt"/>
<rect x="746.8" y="2254.8" width="9.6" height="153.2" fill="#4450a9"/>
<line x1="751.6" y1="2254.8" x2="751.6" y2="2236.1" stroke="#4450a9" stroke-width="1.3" stroke-linecap="butt"/>
<line x1="746.8" y1="2236.1" x2="756.4" y2="2236.1" stroke="#4450a9" stroke-width="2.2" stroke-linecap="butt"/>
<rect x="756.4" y="2141.7" width="9.6" height="266.3" fill="#dc2a1c"/>
<line x1="761.2" y1="2141.7" x2="761.2" y2="2107.0" stroke="#dc2a1c" stroke-width="1.3" stroke-linecap="butt"/>
<line x1="756.4" y1="2107.0" x2="766.0" y2="2107.0" stroke="#dc2a1c" stroke-width="2.2" stroke-linecap="butt"/>
<rect x="727.4" y="2228.6" width="48.4" height="37.1" fill="none" stroke="#4450a9" stroke-width="2.2"/>
<line x1="800.0" y1="2408.0" x2="800.0" y2="2427.0" stroke="#0c0a09" stroke-width="3" stroke-linecap="butt"/>
<text x="800.1" y="2460.5" font-size="32.5" text-anchor="middle" font-weight="normal" fill="#0e0c0b" stroke="#0e0c0b" stroke-width="0.39" >44</text>
<rect x="785.6" y="2290.4" width="9.6" height="117.6" fill="#0c0a09"/>
<line x1="790.4" y1="2290.4" x2="790.4" y2="2269.8" stroke="#0c0a09" stroke-width="1.3" stroke-linecap="butt"/>
<line x1="785.6" y1="2269.8" x2="795.2" y2="2269.8" stroke="#0c0a09" stroke-width="2.2" stroke-linecap="butt"/>
<rect x="795.2" y="2301.8" width="9.6" height="106.2" fill="#4450a9"/>
<line x1="800.0" y1="2301.8" x2="800.0" y2="2282.1" stroke="#4450a9" stroke-width="1.3" stroke-linecap="butt"/>
<line x1="795.2" y1="2282.1" x2="804.8" y2="2282.1" stroke="#4450a9" stroke-width="2.2" stroke-linecap="butt"/>
<rect x="804.8" y="2204.6" width="9.6" height="203.4" fill="#dc2a1c"/>
<line x1="809.6" y1="2204.6" x2="809.6" y2="2169.5" stroke="#dc2a1c" stroke-width="1.3" stroke-linecap="butt"/>
<line x1="804.8" y1="2169.5" x2="814.4" y2="2169.5" stroke="#dc2a1c" stroke-width="2.2" stroke-linecap="butt"/>
<rect x="787.9" y="2166.1" width="48.4" height="73.8" fill="none" stroke="#dc2a1c" stroke-width="2.2"/>
<line x1="916.1" y1="2408.0" x2="916.1" y2="2427.0" stroke="#0c0a09" stroke-width="3" stroke-linecap="butt"/>
<text x="913.5" y="2460.5" font-size="32.5" text-anchor="middle" font-weight="normal" fill="#0e0c0b" stroke="#0e0c0b" stroke-width="0.39" >48</text>
<rect x="901.7" y="2226.5" width="9.6" height="181.5" fill="#0c0a09"/>
<line x1="906.5" y1="2226.5" x2="906.5" y2="2206.4" stroke="#0c0a09" stroke-width="1.3" stroke-linecap="butt"/>
<line x1="901.7" y1="2206.4" x2="911.3" y2="2206.4" stroke="#0c0a09" stroke-width="2.2" stroke-linecap="butt"/>
<rect x="911.3" y="2283.1" width="9.6" height="124.9" fill="#4450a9"/>
<line x1="916.1" y1="2283.1" x2="916.1" y2="2264.8" stroke="#4450a9" stroke-width="1.3" stroke-linecap="butt"/>
<line x1="911.3" y1="2264.8" x2="920.9" y2="2264.8" stroke="#4450a9" stroke-width="2.2" stroke-linecap="butt"/>
<rect x="920.9" y="2247.5" width="9.6" height="160.5" fill="#dc2a1c"/>
<line x1="925.7" y1="2247.5" x2="925.7" y2="2211.9" stroke="#dc2a1c" stroke-width="1.3" stroke-linecap="butt"/>
<line x1="920.9" y1="2211.9" x2="930.5" y2="2211.9" stroke="#dc2a1c" stroke-width="2.2" stroke-linecap="butt"/>
<rect x="891.9" y="2258.1" width="48.4" height="37.1" fill="none" stroke="#4450a9" stroke-width="2.2"/>
<line x1="1033.9" y1="2408.0" x2="1033.9" y2="2427.0" stroke="#0c0a09" stroke-width="3" stroke-linecap="butt"/>
<text x="1033.4" y="2460.5" font-size="32.5" text-anchor="middle" font-weight="normal" fill="#0e0c0b" stroke="#0e0c0b" stroke-width="0.39" >54</text>
<rect x="1019.5" y="2081.5" width="9.6" height="326.5" fill="#0c0a09"/>
<line x1="1024.3" y1="2081.5" x2="1024.3" y2="2061.4" stroke="#0c0a09" stroke-width="1.3" stroke-linecap="butt"/>
<line x1="1019.5" y1="2061.4" x2="1029.1" y2="2061.4" stroke="#0c0a09" stroke-width="2.2" stroke-linecap="butt"/>
<rect x="1029.1" y="2133.0" width="9.6" height="275.0" fill="#4450a9"/>
<line x1="1033.9" y1="2133.0" x2="1033.9" y2="2114.3" stroke="#4450a9" stroke-width="1.3" stroke-linecap="butt"/>
<line x1="1029.1" y1="2114.3" x2="1038.7" y2="2114.3" stroke="#4450a9" stroke-width="2.2" stroke-linecap="butt"/>
<rect x="1038.7" y="2123.9" width="9.6" height="284.1" fill="#dc2a1c"/>
<line x1="1043.5" y1="2123.9" x2="1043.5" y2="2088.3" stroke="#dc2a1c" stroke-width="1.3" stroke-linecap="butt"/>
<line x1="1038.7" y1="2088.3" x2="1048.3" y2="2088.3" stroke="#dc2a1c" stroke-width="2.2" stroke-linecap="butt"/>
<rect x="1007.7" y="2108.5" width="49.2" height="36.3" fill="none" stroke="#4450a9" stroke-width="2.2"/>
<line x1="1081.5" y1="2408.0" x2="1081.5" y2="2427.0" stroke="#0c0a09" stroke-width="3" stroke-linecap="butt"/>
<text x="1084.3" y="2460.5" font-size="32.5" text-anchor="middle" font-weight="normal" fill="#0e0c0b" stroke="#0e0c0b" stroke-width="0.39" >55</text>
<rect x="1067.1" y="2154.9" width="9.6" height="253.1" fill="#0c0a09"/>
<line x1="1071.9" y1="2154.9" x2="1071.9" y2="2134.9" stroke="#0c0a09" stroke-width="1.3" stroke-linecap="butt"/>
<line x1="1067.1" y1="2134.9" x2="1076.7" y2="2134.9" stroke="#0c0a09" stroke-width="2.2" stroke-linecap="butt"/>
<rect x="1076.7" y="2205.1" width="9.6" height="202.9" fill="#4450a9"/>
<line x1="1081.5" y1="2205.1" x2="1081.5" y2="2186.4" stroke="#4450a9" stroke-width="1.3" stroke-linecap="butt"/>
<line x1="1076.7" y1="2186.4" x2="1086.3" y2="2186.4" stroke="#4450a9" stroke-width="2.2" stroke-linecap="butt"/>
<rect x="1086.3" y="2145.8" width="9.6" height="262.2" fill="#dc2a1c"/>
<line x1="1091.1" y1="2145.8" x2="1091.1" y2="2110.7" stroke="#dc2a1c" stroke-width="1.3" stroke-linecap="butt"/>
<line x1="1086.3" y1="2110.7" x2="1095.9" y2="2110.7" stroke="#dc2a1c" stroke-width="2.2" stroke-linecap="butt"/>
<rect x="1054.0" y="2177.8" width="48.4" height="36.7" fill="none" stroke="#4450a9" stroke-width="2.2"/>
<line x1="1129.4" y1="2408.0" x2="1129.4" y2="2427.0" stroke="#0c0a09" stroke-width="3" stroke-linecap="butt"/>
<text x="1131.9" y="2460.5" font-size="32.5" text-anchor="middle" font-weight="normal" fill="#0e0c0b" stroke="#0e0c0b" stroke-width="0.39" >56</text>
<rect x="1115.0" y="2207.4" width="9.6" height="200.6" fill="#0c0a09"/>
<line x1="1119.8" y1="2207.4" x2="1119.8" y2="2187.3" stroke="#0c0a09" stroke-width="1.3" stroke-linecap="butt"/>
<line x1="1115.0" y1="2187.3" x2="1124.6" y2="2187.3" stroke="#0c0a09" stroke-width="2.2" stroke-linecap="butt"/>
<rect x="1124.6" y="2260.3" width="9.6" height="147.7" fill="#4450a9"/>
<line x1="1129.4" y1="2260.3" x2="1129.4" y2="2241.6" stroke="#4450a9" stroke-width="1.3" stroke-linecap="butt"/>
<line x1="1124.6" y1="2241.6" x2="1134.2" y2="2241.6" stroke="#4450a9" stroke-width="2.2" stroke-linecap="butt"/>
<rect x="1134.2" y="2237.9" width="9.6" height="170.1" fill="#dc2a1c"/>
<line x1="1139.0" y1="2237.9" x2="1139.0" y2="2202.3" stroke="#dc2a1c" stroke-width="1.3" stroke-linecap="butt"/>
<line x1="1134.2" y1="2202.3" x2="1143.8" y2="2202.3" stroke="#dc2a1c" stroke-width="2.2" stroke-linecap="butt"/>
<rect x="1100.8" y="2230.6" width="48.8" height="36.3" fill="none" stroke="#4450a9" stroke-width="2.2"/>
<line x1="1246.5" y1="2408.0" x2="1246.5" y2="2427.0" stroke="#0c0a09" stroke-width="3" stroke-linecap="butt"/>
<text x="1243.8" y="2460.5" font-size="32.5" text-anchor="middle" font-weight="normal" fill="#0e0c0b" stroke="#0e0c0b" stroke-width="0.39" >61</text>
<rect x="1232.1" y="2211.5" width="9.6" height="196.5" fill="#0c0a09"/>
<line x1="1236.9" y1="2211.5" x2="1236.9" y2="2190.9" stroke="#0c0a09" stroke-width="1.3" stroke-linecap="butt"/>
<line x1="1232.1" y1="2190.9" x2="1241.7" y2="2190.9" stroke="#0c0a09" stroke-width="2.2" stroke-linecap="butt"/>
<rect x="1241.7" y="2219.2" width="9.6" height="188.8" fill="#4450a9"/>
<line x1="1246.5" y1="2219.2" x2="1246.5" y2="2200.5" stroke="#4450a9" stroke-width="1.3" stroke-linecap="butt"/>
<line x1="1241.7" y1="2200.5" x2="1251.3" y2="2200.5" stroke="#4450a9" stroke-width="2.2" stroke-linecap="butt"/>
<rect x="1251.3" y="2132.1" width="9.6" height="275.9" fill="#dc2a1c"/>
<line x1="1256.1" y1="2132.1" x2="1256.1" y2="2095.6" stroke="#dc2a1c" stroke-width="1.3" stroke-linecap="butt"/>
<line x1="1251.3" y1="2095.6" x2="1260.9" y2="2095.6" stroke="#dc2a1c" stroke-width="2.2" stroke-linecap="butt"/>
<rect x="1231.6" y="2093.3" width="49.2" height="74.4" fill="none" stroke="#dc2a1c" stroke-width="2.2"/>
<line x1="1372.3" y1="2408.0" x2="1372.3" y2="2427.0" stroke="#0c0a09" stroke-width="3" stroke-linecap="butt"/>
<text x="1367.6" y="2460.5" font-size="32.5" text-anchor="middle" font-weight="normal" fill="#0e0c0b" stroke="#0e0c0b" stroke-width="0.39" >75</text>
<rect x="1357.9" y="2209.6" width="9.6" height="198.4" fill="#0c0a09"/>
<line x1="1362.7" y1="2209.6" x2="1362.7" y2="2189.1" stroke="#0c0a09" stroke-width="1.3" stroke-linecap="butt"/>
<line x1="1357.9" y1="2189.1" x2="1367.5" y2="2189.1" stroke="#0c0a09" stroke-width="2.2" stroke-linecap="butt"/>
<rect x="1367.5" y="2196.4" width="9.6" height="211.6" fill="#4450a9"/>
<line x1="1372.3" y1="2196.4" x2="1372.3" y2="2177.7" stroke="#4450a9" stroke-width="1.3" stroke-linecap="butt"/>
<line x1="1367.5" y1="2177.7" x2="1377.1" y2="2177.7" stroke="#4450a9" stroke-width="2.2" stroke-linecap="butt"/>
<rect x="1377.1" y="2133.5" width="9.6" height="274.5" fill="#dc2a1c"/>
<line x1="1381.9" y1="2133.5" x2="1381.9" y2="2097.9" stroke="#dc2a1c" stroke-width="1.3" stroke-linecap="butt"/>
<line x1="1377.1" y1="2097.9" x2="1386.7" y2="2097.9" stroke="#dc2a1c" stroke-width="2.2" stroke-linecap="butt"/>
<rect x="1347.9" y="2089.2" width="49.1" height="73.8" fill="none" stroke="#dc2a1c" stroke-width="2.2"/>
<line x1="1496.2" y1="2408.0" x2="1496.2" y2="2427.0" stroke="#0c0a09" stroke-width="3" stroke-linecap="butt"/>
<text x="1492.6" y="2460.5" font-size="32.5" text-anchor="middle" font-weight="normal" fill="#0e0c0b" stroke="#0e0c0b" stroke-width="0.39" >78</text>
<rect x="1481.8" y="2107.0" width="9.6" height="301.0" fill="#0c0a09"/>
<line x1="1486.6" y1="2107.0" x2="1486.6" y2="2087.0" stroke="#0c0a09" stroke-width="1.3" stroke-linecap="butt"/>
<line x1="1481.8" y1="2087.0" x2="1491.4" y2="2087.0" stroke="#0c0a09" stroke-width="2.2" stroke-linecap="butt"/>
<rect x="1491.4" y="2123.5" width="9.6" height="284.5" fill="#4450a9"/>
<line x1="1496.2" y1="2123.5" x2="1496.2" y2="2104.3" stroke="#4450a9" stroke-width="1.3" stroke-linecap="butt"/>
<line x1="1491.4" y1="2104.3" x2="1501.0" y2="2104.3" stroke="#4450a9" stroke-width="2.2" stroke-linecap="butt"/>
<rect x="1501.0" y="2038.6" width="9.6" height="369.4" fill="#dc2a1c"/>
<line x1="1505.8" y1="2038.6" x2="1505.8" y2="2003.5" stroke="#dc2a1c" stroke-width="1.3" stroke-linecap="butt"/>
<line x1="1501.0" y1="2003.5" x2="1510.6" y2="2003.5" stroke="#dc2a1c" stroke-width="2.2" stroke-linecap="butt"/>
<rect x="1471.5" y="1997.6" width="49.1" height="74.1" fill="none" stroke="#dc2a1c" stroke-width="2.2"/>
<line x1="1544.4" y1="2408.0" x2="1544.4" y2="2427.0" stroke="#0c0a09" stroke-width="3" stroke-linecap="butt"/>
<text x="1543.7" y="2460.5" font-size="32.5" text-anchor="middle" font-weight="normal" fill="#0e0c0b" stroke="#0e0c0b" stroke-width="0.39" >79</text>
<rect x="1530.0" y="2296.7" width="9.6" height="111.3" fill="#0c0a09"/>
<line x1="1534.8" y1="2296.7" x2="1534.8" y2="2276.2" stroke="#0c0a09" stroke-width="1.3" stroke-linecap="butt"/>
<line x1="1530.0" y1="2276.2" x2="1539.6" y2="2276.2" stroke="#0c0a09" stroke-width="2.2" stroke-linecap="butt"/>
<rect x="1549.2" y="2181.8" width="9.6" height="226.2" fill="#dc2a1c"/>
<line x1="1554.0" y1="2181.8" x2="1554.0" y2="2146.7" stroke="#dc2a1c" stroke-width="1.3" stroke-linecap="butt"/>
<line x1="1549.2" y1="2146.7" x2="1558.8" y2="2146.7" stroke="#dc2a1c" stroke-width="2.2" stroke-linecap="butt"/>
<rect x="1517.5" y="2141.4" width="49.1" height="73.9" fill="none" stroke="#dc2a1c" stroke-width="2.2"/>
<line x1="1591.9" y1="2408.0" x2="1591.9" y2="2427.0" stroke="#0c0a09" stroke-width="3" stroke-linecap="butt"/>
<text x="1586.9" y="2460.5" font-size="32.5" text-anchor="middle" font-weight="normal" fill="#0e0c0b" stroke="#0e0c0b" stroke-width="0.39" >80</text>
<rect x="1577.5" y="2175.0" width="9.6" height="233.0" fill="#0c0a09"/>
<line x1="1582.3" y1="2175.0" x2="1582.3" y2="2154.5" stroke="#0c0a09" stroke-width="1.3" stroke-linecap="butt"/>
<line x1="1577.5" y1="2154.5" x2="1587.1" y2="2154.5" stroke="#0c0a09" stroke-width="2.2" stroke-linecap="butt"/>
<rect x="1587.1" y="2198.7" width="9.6" height="209.3" fill="#4450a9"/>
<line x1="1591.9" y1="2198.7" x2="1591.9" y2="2180.0" stroke="#4450a9" stroke-width="1.3" stroke-linecap="butt"/>
<line x1="1587.1" y1="2180.0" x2="1596.7" y2="2180.0" stroke="#4450a9" stroke-width="2.2" stroke-linecap="butt"/>
<rect x="1596.7" y="2123.5" width="9.6" height="284.5" fill="#dc2a1c"/>
<line x1="1601.5" y1="2123.5" x2="1601.5" y2="2087.9" stroke="#dc2a1c" stroke-width="1.3" stroke-linecap="butt"/>
<line x1="1596.7" y1="2087.9" x2="1606.3" y2="2087.9" stroke="#dc2a1c" stroke-width="2.2" stroke-linecap="butt"/>
<rect x="1572.0" y="2084.7" width="49.1" height="74.5" fill="none" stroke="#dc2a1c" stroke-width="2.2"/>
<line x1="1712.4" y1="2408.0" x2="1712.4" y2="2427.0" stroke="#0c0a09" stroke-width="3" stroke-linecap="butt"/>
<text x="1711.6" y="2460.5" font-size="32.5" text-anchor="middle" font-weight="normal" fill="#0e0c0b" stroke="#0e0c0b" stroke-width="0.39" >84</text>
<rect x="1698.0" y="2219.2" width="9.6" height="188.8" fill="#0c0a09"/>
<line x1="1702.8" y1="2219.2" x2="1702.8" y2="2199.2" stroke="#0c0a09" stroke-width="1.3" stroke-linecap="butt"/>
<line x1="1698.0" y1="2199.2" x2="1707.6" y2="2199.2" stroke="#0c0a09" stroke-width="2.2" stroke-linecap="butt"/>
<rect x="1707.6" y="2230.6" width="9.6" height="177.4" fill="#4450a9"/>
<line x1="1712.4" y1="2230.6" x2="1712.4" y2="2211.9" stroke="#4450a9" stroke-width="1.3" stroke-linecap="butt"/>
<line x1="1707.6" y1="2211.9" x2="1717.2" y2="2211.9" stroke="#4450a9" stroke-width="2.2" stroke-linecap="butt"/>
<rect x="1717.2" y="2160.4" width="9.6" height="247.6" fill="#dc2a1c"/>
<line x1="1722.0" y1="2160.4" x2="1722.0" y2="2124.8" stroke="#dc2a1c" stroke-width="1.3" stroke-linecap="butt"/>
<line x1="1717.2" y1="2124.8" x2="1726.8" y2="2124.8" stroke="#dc2a1c" stroke-width="2.2" stroke-linecap="butt"/>
<rect x="1683.6" y="2113.0" width="48.6" height="74.0" fill="none" stroke="#dc2a1c" stroke-width="2.2"/>
<line x1="1846.3" y1="2408.0" x2="1846.3" y2="2427.0" stroke="#0c0a09" stroke-width="3" stroke-linecap="butt"/>
<text x="1847.7" y="2460.5" font-size="32.5" text-anchor="middle" font-weight="normal" fill="#0e0c0b" stroke="#0e0c0b" stroke-width="0.39" >99</text>
<rect x="1831.9" y="2251.1" width="9.6" height="156.9" fill="#0c0a09"/>
<line x1="1836.7" y1="2251.1" x2="1836.7" y2="2231.1" stroke="#0c0a09" stroke-width="1.3" stroke-linecap="butt"/>
<line x1="1831.9" y1="2231.1" x2="1841.5" y2="2231.1" stroke="#0c0a09" stroke-width="2.2" stroke-linecap="butt"/>
<rect x="1841.5" y="2170.9" width="9.6" height="237.1" fill="#4450a9"/>
<line x1="1846.3" y1="2170.9" x2="1846.3" y2="2151.7" stroke="#4450a9" stroke-width="1.3" stroke-linecap="butt"/>
<line x1="1841.5" y1="2151.7" x2="1851.1" y2="2151.7" stroke="#4450a9" stroke-width="2.2" stroke-linecap="butt"/>
<rect x="1851.1" y="2145.3" width="9.6" height="262.7" fill="#dc2a1c"/>
<line x1="1855.9" y1="2145.3" x2="1855.9" y2="2109.8" stroke="#dc2a1c" stroke-width="1.3" stroke-linecap="butt"/>
<line x1="1851.1" y1="2109.8" x2="1860.7" y2="2109.8" stroke="#dc2a1c" stroke-width="2.2" stroke-linecap="butt"/>
<rect x="1820.5" y="2105.4" width="48.8" height="73.6" fill="none" stroke="#dc2a1c" stroke-width="2.2"/>
<line x1="1942.2" y1="2408.0" x2="1942.2" y2="2427.0" stroke="#0c0a09" stroke-width="3" stroke-linecap="butt"/>
<text x="1955.0" y="2460.5" font-size="32.5" text-anchor="middle" font-weight="normal" fill="#0e0c0b" stroke="#0e0c0b" stroke-width="0.39" >101</text>
<rect x="1927.8" y="2268.0" width="9.6" height="140.0" fill="#0c0a09"/>
<line x1="1932.6" y1="2268.0" x2="1932.6" y2="2247.0" stroke="#0c0a09" stroke-width="1.3" stroke-linecap="butt"/>
<line x1="1927.8" y1="2247.0" x2="1937.4" y2="2247.0" stroke="#0c0a09" stroke-width="2.2" stroke-linecap="butt"/>
<rect x="1937.4" y="2286.7" width="9.6" height="121.3" fill="#4450a9"/>
<line x1="1942.2" y1="2286.7" x2="1942.2" y2="2268.5" stroke="#4450a9" stroke-width="1.3" stroke-linecap="butt"/>
<line x1="1937.4" y1="2268.5" x2="1947.0" y2="2268.5" stroke="#4450a9" stroke-width="2.2" stroke-linecap="butt"/>
<rect x="1947.0" y="2200.1" width="9.6" height="207.9" fill="#dc2a1c"/>
<line x1="1951.8" y1="2200.1" x2="1951.8" y2="2165.0" stroke="#dc2a1c" stroke-width="1.3" stroke-linecap="butt"/>
<line x1="1947.0" y1="2165.0" x2="1956.6" y2="2165.0" stroke="#dc2a1c" stroke-width="2.2" stroke-linecap="butt"/>
<rect x="1913.3" y="2158.2" width="48.8" height="73.2" fill="none" stroke="#dc2a1c" stroke-width="2.2"/>
<g transform="translate(1538.7,2264.3) scale(1,0.56) rotate(90)">
<text x="0" y="11" font-size="34" text-anchor="middle" font-weight="bold" fill="#3a40a2" style="font-family:'DejaVu Sans',sans-serif">∗</text>
</g>
<g transform="translate(115.7,2335) rotate(-90)">
<text x="0.0" y="0.0" font-size="35" text-anchor="start" font-weight="normal" fill="#0e0c0b" stroke="#0e0c0b" stroke-width="0.42" textLength="405.0" lengthAdjust="spacingAndGlyphs" >Normalized Peak Intensity</text>
</g>
<text x="975.0" y="2505.0" font-size="34" text-anchor="start" font-weight="normal" fill="#0e0c0b" stroke="#0e0c0b" stroke-width="0.41" textLength="262.5" lengthAdjust="spacingAndGlyphs" >Residue Number</text>
</svg>
</body></html>
